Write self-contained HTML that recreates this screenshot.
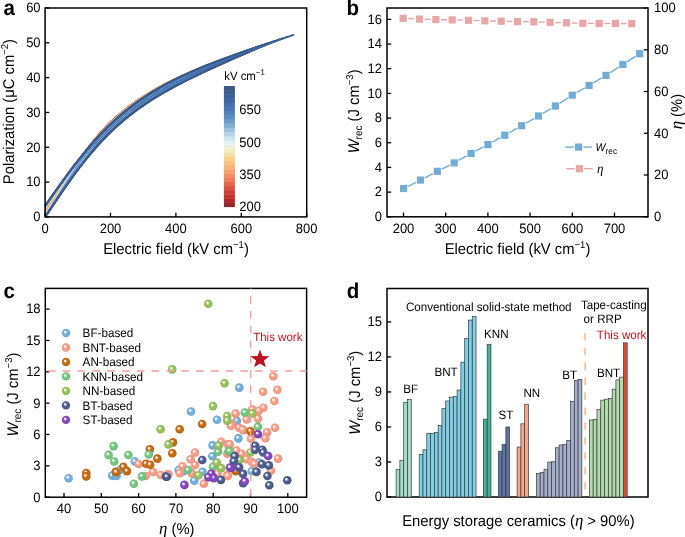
<!DOCTYPE html>
<html><head><meta charset="utf-8"><style>html,body{margin:0;padding:0;background:#fff;}svg{display:block;will-change:transform;}</style></head>
<body><svg width="685" height="537" viewBox="0 0 685 537" font-family='"Liberation Sans", sans-serif' text-rendering="geometricPrecision">
<defs><radialGradient id="gBF" cx="0.5" cy="0.5" r="0.5" fx="0.35" fy="0.33"><stop offset="0" stop-color="#ffffff"/><stop offset="0.2" stop-color="#e0edf7"/><stop offset="0.48" stop-color="#72aed9"/><stop offset="0.8" stop-color="#72aed9"/><stop offset="1" stop-color="#679dc3"/></radialGradient><radialGradient id="gBNT" cx="0.5" cy="0.5" r="0.5" fx="0.35" fy="0.33"><stop offset="0" stop-color="#ffffff"/><stop offset="0.2" stop-color="#fde9e4"/><stop offset="0.48" stop-color="#f49c86"/><stop offset="0.8" stop-color="#f49c86"/><stop offset="1" stop-color="#dc8c79"/></radialGradient><radialGradient id="gAN" cx="0.5" cy="0.5" r="0.5" fx="0.35" fy="0.33"><stop offset="0" stop-color="#ffffff"/><stop offset="0.2" stop-color="#f2decb"/><stop offset="0.48" stop-color="#c36a12"/><stop offset="0.8" stop-color="#c36a12"/><stop offset="1" stop-color="#b05f10"/></radialGradient><radialGradient id="gKNN" cx="0.5" cy="0.5" r="0.5" fx="0.35" fy="0.33"><stop offset="0" stop-color="#ffffff"/><stop offset="0.2" stop-color="#e0f2e3"/><stop offset="0.48" stop-color="#72c47e"/><stop offset="0.8" stop-color="#72c47e"/><stop offset="1" stop-color="#67b071"/></radialGradient><radialGradient id="gNN" cx="0.5" cy="0.5" r="0.5" fx="0.35" fy="0.33"><stop offset="0" stop-color="#ffffff"/><stop offset="0.2" stop-color="#e8f1db"/><stop offset="0.48" stop-color="#98bf5c"/><stop offset="0.8" stop-color="#98bf5c"/><stop offset="1" stop-color="#89ac53"/></radialGradient><radialGradient id="gBT" cx="0.5" cy="0.5" r="0.5" fx="0.35" fy="0.33"><stop offset="0" stop-color="#ffffff"/><stop offset="0.2" stop-color="#d7dbe5"/><stop offset="0.48" stop-color="#4b5b8b"/><stop offset="0.8" stop-color="#4b5b8b"/><stop offset="1" stop-color="#44527d"/></radialGradient><radialGradient id="gST" cx="0.5" cy="0.5" r="0.5" fx="0.35" fy="0.33"><stop offset="0" stop-color="#ffffff"/><stop offset="0.2" stop-color="#e3d7f0"/><stop offset="0.48" stop-color="#8048bb"/><stop offset="0.8" stop-color="#8048bb"/><stop offset="1" stop-color="#7341a8"/></radialGradient></defs>
<rect width="685" height="537" fill="#fff"/>
<text transform="translate(3.50,14.60) scale(1,1.05)" font-size="20.5" text-anchor="start" font-weight="bold" fill="#000" >a</text>
<text transform="translate(346.50,14.60) scale(1,1.05)" font-size="20.5" text-anchor="start" font-weight="bold" fill="#000" >b</text>
<text transform="translate(3.50,297.50) scale(1,1.05)" font-size="20.5" text-anchor="start" font-weight="bold" fill="#000" >c</text>
<text transform="translate(346.80,297.50) scale(1,1.05)" font-size="20.5" text-anchor="start" font-weight="bold" fill="#000" >d</text>
<g fill="none" stroke-width="1.5" stroke-linejoin="round">
<path d="M58.35,192.18 L60.01,189.80 L61.67,187.43 L63.32,185.08 L64.98,182.75 L66.64,180.43 L68.30,178.13 L69.95,175.85 L71.61,173.59 L73.27,171.35 L74.92,169.14 L76.58,166.95 L78.24,164.78 L79.89,162.64 L81.55,160.53 L83.21,158.44 L84.86,156.38 L86.52,154.35 L88.18,152.35 L89.83,150.38 L91.49,148.43 L93.15,146.51 L94.80,144.63 L96.46,142.77 L98.12,140.94 L99.77,139.14 L101.43,137.37 L103.09,135.63 L104.74,133.92 L106.40,132.24 L108.06,130.58 L109.72,128.96 L111.37,127.36 L113.03,125.79 L114.69,124.25 L116.34,122.74 L118.00,121.25 L119.66,119.80 L121.31,118.36 L122.97,116.95 L124.63,115.57 L126.28,114.21 L127.94,112.88 L129.60,111.57 L131.25,110.28 L132.91,109.01 L134.57,107.77 L136.22,106.55 L137.88,105.35 L139.54,104.17 L141.19,103.01 L142.85,101.87 L144.51,100.75 L146.16,99.65 L147.82,98.56 L149.48,97.50 L151.14,96.45 L152.79,95.41 L154.45,94.39 L156.11,93.39 L157.76,92.40 L159.42,91.43 L161.08,90.47 L162.73,89.53 L164.39,88.59 L166.05,87.68 L167.70,86.77 L169.36,85.87 L171.02,84.99 L172.67,84.12 L174.33,83.26 L175.99,82.41 L177.64,81.57 L179.30,80.73 L180.96,79.91 L182.61,79.10 L184.27,78.30 L185.93,77.50 L187.58,76.71 L189.24,75.93 L190.90,75.16 L192.56,74.40 L194.21,73.64 L195.87,72.89 L197.53,72.14 L199.18,71.41 L200.84,70.67 L202.50,69.95 L204.15,69.23 L205.81,68.51 L207.47,67.80 L209.12,67.10 L210.78,66.40 L212.44,65.70 L214.09,65.01 L215.75,64.33 L217.41,63.64 L219.06,62.96 L220.72,62.29 L222.38,61.62 L224.03,60.95 L225.69,60.29 L227.35,59.63 L229.00,58.97 L230.66,58.31 L232.32,57.66 L233.98,57.01 L235.63,56.37 L237.29,55.72 L238.95,55.08 L240.60,54.45 L242.26,53.81 L243.92,53.17 L245.57,52.54 L247.23,51.91 L248.89,51.28 L250.54,50.66 L252.20,50.03 L253.86,49.41 L255.51,48.79 L257.17,48.17 L258.83,47.55 L260.48,46.94 L262.14,46.32 L263.80,45.71 L265.45,45.10 L267.11,44.49 L268.77,43.88 L270.42,43.27 L272.08,42.66 L273.74,42.06 L275.40,41.45 L277.05,40.85 L278.71,40.24 L280.37,39.64 L282.02,39.04 L283.68,38.44 L285.34,37.84 L286.99,37.24 L288.65,36.64 L290.31,36.04 L291.96,35.45 L293.62,34.85" stroke="#3f68a8" stroke-width="1.3"/>
<path d="M45.10,211.58 L45.65,211.22 L46.19,210.43 L46.73,209.62 L47.28,208.81 L47.83,207.99 L48.37,207.18 L48.91,206.36 L49.46,205.54 L50.01,204.71 L50.55,203.89 L51.09,203.06 L51.64,202.24 L52.19,201.41 L52.73,200.58 L53.27,199.75 L53.82,198.91 L54.37,198.08 L54.91,197.25 L55.45,196.41 L56.00,195.58 L56.55,194.74 L57.09,193.91 L57.64,193.07 L58.18,192.24 L58.73,191.40 L59.27,190.57 L59.81,189.73 L60.36,188.90 L60.91,188.06 L61.45,187.23 L61.99,186.40 L62.54,185.56 L63.09,184.73 L63.63,183.90 L64.17,183.07 L64.72,182.24 L65.27,181.41 L65.81,180.59 L66.35,179.76 L66.90,178.94 L67.44,178.12 L67.99,177.30 L68.53,176.48 L69.08,175.66 L69.62,174.85 L70.17,174.03 L70.72,173.22 L71.26,172.41 L71.81,171.60 L72.35,170.80 L72.89,170.00 L73.44,169.20 L73.98,168.40 L74.53,167.60 L75.07,166.81 L75.62,166.02 L76.16,165.23 L76.71,164.45 L77.25,163.66 L77.80,162.88 L78.34,162.11 L78.89,161.33 L79.44,160.56 L79.98,159.79 L80.53,159.03 L81.07,158.27 L81.61,157.51 L82.16,156.75 L82.70,156.00 L83.25,155.25 L83.79,154.50 L84.34,153.76 L84.88,153.02 L85.43,152.28 L85.97,151.55 L86.52,150.82 L87.06,150.10 L87.61,149.37 L88.16,148.65 L88.70,147.94 L89.24,147.22 L89.79,146.52 L90.34,145.81 L90.88,145.11 L91.42,144.41 L91.97,143.71 L92.51,143.02 L93.06,142.34 L93.61,141.65 L94.15,140.97 L94.69,140.29 L95.24,139.62 L95.78,138.95 L96.33,138.28 L96.88,137.61 L97.42,136.95 L97.96,136.30 L98.51,135.64 L99.05,134.99 L99.60,134.34 L100.15,133.70 L100.69,133.05 L101.23,132.41 L101.78,131.78 L102.32,131.14 L102.87,130.51 L103.41,129.89 L103.96,129.26 L104.50,128.64 L105.05,128.02 L105.59,127.40 L106.14,126.78 L106.69,126.17 L107.23,125.55 L107.77,124.94 L108.32,124.33 L108.86,123.73 L109.41,123.12 L109.95,122.51 L110.50,121.91 L110.50,121.91 L109.95,122.45 L109.41,122.99 L108.86,123.54 L108.32,124.09 L107.77,124.64 L107.23,125.21 L106.69,125.77 L106.14,126.34 L105.59,126.92 L105.05,127.50 L104.50,128.08 L103.96,128.67 L103.41,129.27 L102.87,129.87 L102.32,130.47 L101.78,131.08 L101.23,131.70 L100.69,132.31 L100.15,132.94 L99.60,133.56 L99.05,134.20 L98.51,134.83 L97.96,135.47 L97.42,136.12 L96.88,136.77 L96.33,137.42 L95.78,138.08 L95.24,138.74 L94.69,139.41 L94.15,140.08 L93.61,140.75 L93.06,141.43 L92.51,142.12 L91.97,142.80 L91.42,143.50 L90.88,144.19 L90.34,144.89 L89.79,145.59 L89.24,146.30 L88.70,147.01 L88.16,147.73 L87.61,148.44 L87.06,149.17 L86.52,149.89 L85.97,150.62 L85.43,151.36 L84.88,152.09 L84.34,152.83 L83.79,153.58 L83.25,154.32 L82.70,155.07 L82.16,155.83 L81.61,156.58 L81.07,157.34 L80.53,158.11 L79.98,158.87 L79.44,159.64 L78.89,160.41 L78.34,161.19 L77.80,161.97 L77.25,162.75 L76.71,163.53 L76.16,164.32 L75.62,165.11 L75.07,165.90 L74.53,166.69 L73.98,167.49 L73.44,168.29 L72.89,169.09 L72.35,169.89 L71.81,170.70 L71.26,171.51 L70.72,172.31 L70.17,173.13 L69.62,173.94 L69.08,174.76 L68.53,175.57 L67.99,176.39 L67.44,177.21 L66.90,178.03 L66.35,178.86 L65.81,179.68 L65.27,180.51 L64.72,181.33 L64.17,182.16 L63.63,182.99 L63.09,183.82 L62.54,184.65 L61.99,185.48 L61.45,186.31 L60.91,187.15 L60.36,187.98 L59.81,188.81 L59.27,189.65 L58.73,190.48 L58.18,191.31 L57.64,192.15 L57.09,192.98 L56.55,193.81 L56.00,194.65 L55.45,195.48 L54.91,196.31 L54.37,197.14 L53.82,197.97 L53.27,198.80 L52.73,199.63 L52.19,200.46 L51.64,201.28 L51.09,202.11 L50.55,202.93 L50.01,203.75 L49.46,204.57 L48.91,205.39 L48.37,206.20 L47.83,207.02 L47.28,207.83 L46.73,208.64 L46.19,209.44 L45.65,210.24 L45.10,210.66" stroke="#96282a"/>
<path d="M45.10,211.77 L45.70,211.36 L46.30,210.47 L46.90,209.58 L47.50,208.68 L48.10,207.78 L48.70,206.88 L49.30,205.98 L49.90,205.07 L50.50,204.17 L51.09,203.26 L51.69,202.35 L52.29,201.43 L52.89,200.52 L53.49,199.60 L54.09,198.69 L54.69,197.77 L55.29,196.85 L55.89,195.93 L56.49,195.01 L57.09,194.09 L57.69,193.17 L58.29,192.25 L58.89,191.33 L59.49,190.41 L60.09,189.49 L60.69,188.57 L61.29,187.65 L61.89,186.73 L62.49,185.81 L63.09,184.89 L63.68,183.98 L64.28,183.06 L64.88,182.15 L65.48,181.24 L66.08,180.33 L66.68,179.42 L67.28,178.51 L67.88,177.61 L68.48,176.71 L69.08,175.81 L69.68,174.91 L70.28,174.01 L70.88,173.12 L71.48,172.23 L72.08,171.34 L72.68,170.45 L73.28,169.57 L73.88,168.69 L74.48,167.81 L75.07,166.94 L75.67,166.07 L76.27,165.20 L76.87,164.34 L77.47,163.48 L78.07,162.62 L78.67,161.76 L79.27,160.91 L79.87,160.07 L80.47,159.22 L81.07,158.38 L81.67,157.55 L82.27,156.72 L82.87,155.89 L83.47,155.07 L84.07,154.25 L84.67,153.43 L85.27,152.62 L85.87,151.81 L86.47,151.01 L87.06,150.21 L87.66,149.42 L88.26,148.63 L88.86,147.84 L89.46,147.06 L90.06,146.28 L90.66,145.51 L91.26,144.74 L91.86,143.98 L92.46,143.22 L93.06,142.47 L93.66,141.72 L94.26,140.98 L94.86,140.24 L95.46,139.50 L96.06,138.77 L96.66,138.04 L97.26,137.32 L97.86,136.61 L98.46,135.90 L99.05,135.19 L99.65,134.49 L100.25,133.79 L100.85,133.10 L101.45,132.41 L102.05,131.72 L102.65,131.05 L103.25,130.37 L103.85,129.70 L104.45,129.04 L105.05,128.37 L105.65,127.72 L106.25,127.07 L106.85,126.42 L107.45,125.78 L108.05,125.14 L108.65,124.50 L109.25,123.87 L109.85,123.24 L110.45,122.62 L111.04,122.00 L111.64,121.38 L112.24,120.77 L112.84,120.16 L113.44,119.56 L114.04,118.96 L114.64,118.36 L115.24,117.76 L115.84,117.15 L116.44,116.55 L117.04,115.95 L117.04,115.95 L116.44,116.49 L115.84,117.03 L115.24,117.57 L114.64,118.12 L114.04,118.67 L113.44,119.23 L112.84,119.79 L112.24,120.35 L111.64,120.92 L111.04,121.50 L110.45,122.09 L109.85,122.68 L109.25,123.27 L108.65,123.88 L108.05,124.48 L107.45,125.10 L106.85,125.72 L106.25,126.34 L105.65,126.97 L105.05,127.61 L104.45,128.25 L103.85,128.90 L103.25,129.56 L102.65,130.22 L102.05,130.88 L101.45,131.55 L100.85,132.23 L100.25,132.91 L99.65,133.60 L99.05,134.29 L98.46,134.99 L97.86,135.69 L97.26,136.40 L96.66,137.11 L96.06,137.83 L95.46,138.55 L94.86,139.28 L94.26,140.01 L93.66,140.75 L93.06,141.50 L92.46,142.25 L91.86,143.00 L91.26,143.76 L90.66,144.52 L90.06,145.29 L89.46,146.06 L88.86,146.84 L88.26,147.62 L87.66,148.41 L87.06,149.20 L86.47,149.99 L85.87,150.79 L85.27,151.59 L84.67,152.40 L84.07,153.21 L83.47,154.03 L82.87,154.85 L82.27,155.67 L81.67,156.50 L81.07,157.33 L80.47,158.17 L79.87,159.01 L79.27,159.85 L78.67,160.70 L78.07,161.55 L77.47,162.40 L76.87,163.26 L76.27,164.12 L75.67,164.98 L75.07,165.85 L74.48,166.72 L73.88,167.59 L73.28,168.46 L72.68,169.34 L72.08,170.22 L71.48,171.11 L70.88,171.99 L70.28,172.88 L69.68,173.77 L69.08,174.66 L68.48,175.56 L67.88,176.46 L67.28,177.35 L66.68,178.26 L66.08,179.16 L65.48,180.06 L64.88,180.97 L64.28,181.87 L63.68,182.78 L63.09,183.69 L62.49,184.60 L61.89,185.51 L61.29,186.42 L60.69,187.34 L60.09,188.25 L59.49,189.16 L58.89,190.08 L58.29,190.99 L57.69,191.90 L57.09,192.82 L56.49,193.73 L55.89,194.64 L55.29,195.56 L54.69,196.47 L54.09,197.38 L53.49,198.29 L52.89,199.20 L52.29,200.11 L51.69,201.01 L51.09,201.92 L50.50,202.82 L49.90,203.72 L49.30,204.62 L48.70,205.52 L48.10,206.41 L47.50,207.31 L46.90,208.19 L46.30,209.08 L45.70,209.97 L45.10,210.47" stroke="#b1282a"/>
<path d="M45.10,211.96 L45.75,211.48 L46.41,210.51 L47.06,209.54 L47.72,208.56 L48.37,207.57 L49.02,206.59 L49.68,205.60 L50.33,204.61 L50.99,203.62 L51.64,202.62 L52.29,201.62 L52.95,200.62 L53.60,199.62 L54.26,198.62 L54.91,197.62 L55.56,196.61 L56.22,195.61 L56.87,194.60 L57.53,193.60 L58.18,192.59 L58.83,191.58 L59.49,190.58 L60.14,189.57 L60.80,188.57 L61.45,187.56 L62.10,186.56 L62.76,185.56 L63.41,184.56 L64.07,183.56 L64.72,182.56 L65.37,181.56 L66.03,180.57 L66.68,179.57 L67.34,178.58 L67.99,177.60 L68.64,176.61 L69.30,175.63 L69.95,174.65 L70.61,173.67 L71.26,172.69 L71.91,171.72 L72.57,170.75 L73.22,169.79 L73.88,168.83 L74.53,167.87 L75.18,166.91 L75.84,165.96 L76.49,165.01 L77.15,164.07 L77.80,163.13 L78.45,162.20 L79.11,161.27 L79.76,160.34 L80.42,159.42 L81.07,158.50 L81.72,157.59 L82.38,156.68 L83.03,155.78 L83.69,154.88 L84.34,153.99 L84.99,153.10 L85.65,152.22 L86.30,151.34 L86.96,150.46 L87.61,149.60 L88.26,148.73 L88.92,147.88 L89.57,147.03 L90.23,146.18 L90.88,145.34 L91.53,144.50 L92.19,143.68 L92.84,142.85 L93.50,142.03 L94.15,141.22 L94.80,140.42 L95.46,139.62 L96.11,138.82 L96.77,138.03 L97.42,137.25 L98.07,136.47 L98.73,135.70 L99.38,134.94 L100.04,134.18 L100.69,133.43 L101.34,132.68 L102.00,131.94 L102.65,131.21 L103.31,130.48 L103.96,129.76 L104.61,129.04 L105.27,128.34 L105.92,127.63 L106.58,126.94 L107.23,126.24 L107.88,125.56 L108.54,124.88 L109.19,124.21 L109.85,123.54 L110.50,122.88 L111.15,122.23 L111.81,121.58 L112.46,120.93 L113.12,120.30 L113.77,119.66 L114.42,119.04 L115.08,118.41 L115.73,117.79 L116.39,117.17 L117.04,116.55 L117.69,115.93 L118.35,115.32 L119.00,114.71 L119.66,114.09 L120.31,113.48 L120.96,112.87 L121.62,112.27 L122.27,111.66 L122.93,111.05 L123.58,110.45 L123.58,110.45 L122.93,110.99 L122.27,111.54 L121.62,112.09 L120.96,112.65 L120.31,113.21 L119.66,113.78 L119.00,114.35 L118.35,114.92 L117.69,115.50 L117.04,116.08 L116.39,116.66 L115.73,117.25 L115.08,117.85 L114.42,118.44 L113.77,119.05 L113.12,119.65 L112.46,120.27 L111.81,120.89 L111.15,121.52 L110.50,122.16 L109.85,122.80 L109.19,123.45 L108.54,124.11 L107.88,124.77 L107.23,125.44 L106.58,126.12 L105.92,126.80 L105.27,127.49 L104.61,128.19 L103.96,128.89 L103.31,129.60 L102.65,130.32 L102.00,131.04 L101.34,131.77 L100.69,132.51 L100.04,133.25 L99.38,134.00 L98.73,134.76 L98.07,135.52 L97.42,136.29 L96.77,137.06 L96.11,137.84 L95.46,138.63 L94.80,139.42 L94.15,140.22 L93.50,141.02 L92.84,141.83 L92.19,142.65 L91.53,143.47 L90.88,144.29 L90.23,145.13 L89.57,145.96 L88.92,146.81 L88.26,147.65 L87.61,148.51 L86.96,149.37 L86.30,150.23 L85.65,151.10 L84.99,151.98 L84.34,152.86 L83.69,153.74 L83.03,154.63 L82.38,155.52 L81.72,156.42 L81.07,157.32 L80.42,158.23 L79.76,159.14 L79.11,160.06 L78.45,160.98 L77.80,161.90 L77.15,162.83 L76.49,163.76 L75.84,164.70 L75.18,165.64 L74.53,166.58 L73.88,167.53 L73.22,168.48 L72.57,169.44 L71.91,170.39 L71.26,171.35 L70.61,172.32 L69.95,173.28 L69.30,174.25 L68.64,175.22 L67.99,176.19 L67.34,177.17 L66.68,178.15 L66.03,179.13 L65.37,180.11 L64.72,181.09 L64.07,182.08 L63.41,183.07 L62.76,184.06 L62.10,185.05 L61.45,186.04 L60.80,187.03 L60.14,188.02 L59.49,189.01 L58.83,190.01 L58.18,191.00 L57.53,191.99 L56.87,192.99 L56.22,193.98 L55.56,194.97 L54.91,195.96 L54.26,196.95 L53.60,197.94 L52.95,198.93 L52.29,199.92 L51.64,200.91 L50.99,201.89 L50.33,202.87 L49.68,203.86 L49.02,204.83 L48.37,205.81 L47.72,206.78 L47.06,207.75 L46.41,208.72 L45.75,209.68 L45.10,210.28" stroke="#c4302e"/>
<path d="M45.10,212.15 L45.81,211.61 L46.52,210.55 L47.23,209.49 L47.93,208.43 L48.64,207.36 L49.35,206.29 L50.06,205.22 L50.77,204.14 L51.48,203.06 L52.19,201.98 L52.89,200.90 L53.60,199.81 L54.31,198.72 L55.02,197.63 L55.73,196.55 L56.44,195.45 L57.14,194.36 L57.85,193.27 L58.56,192.18 L59.27,191.09 L59.98,190.00 L60.69,188.91 L61.40,187.82 L62.10,186.73 L62.81,185.64 L63.52,184.55 L64.23,183.47 L64.94,182.38 L65.65,181.30 L66.35,180.22 L67.06,179.15 L67.77,178.07 L68.48,177.00 L69.19,175.94 L69.90,174.87 L70.61,173.81 L71.31,172.75 L72.02,171.70 L72.73,170.65 L73.44,169.60 L74.15,168.56 L74.86,167.52 L75.57,166.49 L76.27,165.46 L76.98,164.43 L77.69,163.41 L78.40,162.40 L79.11,161.39 L79.82,160.38 L80.53,159.38 L81.23,158.39 L81.94,157.40 L82.65,156.42 L83.36,155.44 L84.07,154.47 L84.78,153.50 L85.48,152.54 L86.19,151.59 L86.90,150.64 L87.61,149.70 L88.32,148.77 L89.03,147.84 L89.74,146.92 L90.44,146.00 L91.15,145.09 L91.86,144.19 L92.57,143.29 L93.28,142.41 L93.99,141.53 L94.69,140.65 L95.40,139.78 L96.11,138.92 L96.82,138.07 L97.53,137.22 L98.24,136.39 L98.95,135.55 L99.65,134.73 L100.36,133.91 L101.07,133.10 L101.78,132.30 L102.49,131.51 L103.20,130.72 L103.91,129.94 L104.61,129.17 L105.32,128.41 L106.03,127.65 L106.74,126.90 L107.45,126.16 L108.16,125.43 L108.86,124.71 L109.57,123.99 L110.28,123.28 L110.99,122.58 L111.70,121.88 L112.41,121.20 L113.12,120.52 L113.82,119.85 L114.53,119.18 L115.24,118.52 L115.95,117.86 L116.66,117.21 L117.37,116.56 L118.08,115.91 L118.78,115.27 L119.49,114.63 L120.20,113.99 L120.91,113.36 L121.62,112.72 L122.33,112.10 L123.03,111.47 L123.74,110.85 L124.45,110.23 L125.16,109.61 L125.87,108.99 L126.58,108.38 L127.29,107.76 L127.99,107.15 L128.70,106.54 L129.41,105.93 L130.12,105.33 L130.12,105.33 L129.41,105.88 L128.70,106.43 L127.99,106.99 L127.29,107.55 L126.58,108.12 L125.87,108.69 L125.16,109.27 L124.45,109.85 L123.74,110.43 L123.03,111.02 L122.33,111.62 L121.62,112.22 L120.91,112.82 L120.20,113.43 L119.49,114.04 L118.78,114.66 L118.08,115.28 L117.37,115.91 L116.66,116.54 L115.95,117.18 L115.24,117.82 L114.53,118.47 L113.82,119.12 L113.12,119.78 L112.41,120.44 L111.70,121.12 L110.99,121.80 L110.28,122.49 L109.57,123.19 L108.86,123.90 L108.16,124.61 L107.45,125.33 L106.74,126.06 L106.03,126.80 L105.32,127.55 L104.61,128.30 L103.91,129.06 L103.20,129.83 L102.49,130.61 L101.78,131.39 L101.07,132.18 L100.36,132.98 L99.65,133.78 L98.95,134.60 L98.24,135.42 L97.53,136.24 L96.82,137.08 L96.11,137.92 L95.40,138.77 L94.69,139.62 L93.99,140.49 L93.28,141.35 L92.57,142.23 L91.86,143.11 L91.15,144.00 L90.44,144.90 L89.74,145.80 L89.03,146.71 L88.32,147.62 L87.61,148.54 L86.90,149.47 L86.19,150.40 L85.48,151.34 L84.78,152.28 L84.07,153.23 L83.36,154.19 L82.65,155.15 L81.94,156.12 L81.23,157.09 L80.53,158.07 L79.82,159.05 L79.11,160.04 L78.40,161.03 L77.69,162.03 L76.98,163.03 L76.27,164.03 L75.57,165.04 L74.86,166.06 L74.15,167.08 L73.44,168.10 L72.73,169.13 L72.02,170.16 L71.31,171.20 L70.61,172.23 L69.90,173.28 L69.19,174.32 L68.48,175.37 L67.77,176.42 L67.06,177.47 L66.35,178.53 L65.65,179.59 L64.94,180.65 L64.23,181.71 L63.52,182.78 L62.81,183.84 L62.10,184.91 L61.40,185.98 L60.69,187.05 L59.98,188.12 L59.27,189.19 L58.56,190.26 L57.85,191.34 L57.14,192.41 L56.44,193.48 L55.73,194.55 L55.02,195.62 L54.31,196.70 L53.60,197.77 L52.89,198.83 L52.19,199.90 L51.48,200.97 L50.77,202.03 L50.06,203.09 L49.35,204.15 L48.64,205.21 L47.93,206.26 L47.23,207.31 L46.52,208.36 L45.81,209.40 L45.10,210.09" stroke="#d03e36"/>
<path d="M45.10,212.34 L45.86,211.73 L46.63,210.59 L47.39,209.45 L48.15,208.30 L48.91,207.15 L49.68,205.99 L50.44,204.83 L51.20,203.67 L51.97,202.51 L52.73,201.34 L53.49,200.17 L54.26,198.99 L55.02,197.82 L55.78,196.64 L56.55,195.47 L57.31,194.29 L58.07,193.11 L58.83,191.93 L59.60,190.76 L60.36,189.58 L61.12,188.40 L61.89,187.23 L62.65,186.05 L63.41,184.88 L64.17,183.71 L64.94,182.54 L65.70,181.38 L66.46,180.21 L67.23,179.05 L67.99,177.89 L68.75,176.74 L69.52,175.59 L70.28,174.44 L71.04,173.30 L71.81,172.16 L72.57,171.03 L73.33,169.90 L74.09,168.77 L74.86,167.65 L75.62,166.54 L76.38,165.43 L77.15,164.32 L77.91,163.22 L78.67,162.13 L79.44,161.04 L80.20,159.96 L80.96,158.89 L81.72,157.82 L82.49,156.76 L83.25,155.70 L84.01,154.65 L84.78,153.61 L85.54,152.58 L86.30,151.55 L87.06,150.53 L87.83,149.52 L88.59,148.51 L89.35,147.51 L90.12,146.52 L90.88,145.54 L91.64,144.56 L92.41,143.60 L93.17,142.64 L93.93,141.69 L94.69,140.75 L95.46,139.81 L96.22,138.89 L96.98,137.97 L97.75,137.06 L98.51,136.16 L99.27,135.27 L100.04,134.38 L100.80,133.51 L101.56,132.65 L102.32,131.79 L103.09,130.94 L103.85,130.10 L104.61,129.27 L105.38,128.45 L106.14,127.64 L106.90,126.84 L107.67,126.05 L108.43,125.27 L109.19,124.49 L109.95,123.73 L110.72,122.97 L111.48,122.23 L112.24,121.49 L113.01,120.77 L113.77,120.05 L114.53,119.34 L115.30,118.63 L116.06,117.93 L116.82,117.24 L117.58,116.55 L118.35,115.86 L119.11,115.18 L119.87,114.51 L120.64,113.84 L121.40,113.17 L122.16,112.51 L122.93,111.85 L123.69,111.19 L124.45,110.54 L125.22,109.90 L125.98,109.26 L126.74,108.62 L127.50,107.98 L128.27,107.35 L129.03,106.72 L129.79,106.09 L130.56,105.47 L131.32,104.85 L132.08,104.23 L132.84,103.62 L133.61,103.00 L134.37,102.39 L135.13,101.78 L135.90,101.18 L136.66,100.57 L136.66,100.57 L135.90,101.12 L135.13,101.68 L134.37,102.24 L133.61,102.80 L132.84,103.38 L132.08,103.95 L131.32,104.53 L130.56,105.11 L129.79,105.70 L129.03,106.30 L128.27,106.90 L127.50,107.50 L126.74,108.11 L125.98,108.73 L125.22,109.35 L124.45,109.97 L123.69,110.60 L122.93,111.24 L122.16,111.88 L121.40,112.53 L120.64,113.18 L119.87,113.84 L119.11,114.50 L118.35,115.17 L117.58,115.84 L116.82,116.52 L116.06,117.21 L115.30,117.90 L114.53,118.59 L113.77,119.30 L113.01,120.00 L112.24,120.72 L111.48,121.45 L110.72,122.19 L109.95,122.94 L109.19,123.69 L108.43,124.45 L107.67,125.23 L106.90,126.01 L106.14,126.80 L105.38,127.60 L104.61,128.41 L103.85,129.23 L103.09,130.05 L102.32,130.89 L101.56,131.73 L100.80,132.58 L100.04,133.44 L99.27,134.31 L98.51,135.19 L97.75,136.07 L96.98,136.97 L96.22,137.87 L95.46,138.78 L94.69,139.69 L93.93,140.62 L93.17,141.55 L92.41,142.49 L91.64,143.44 L90.88,144.40 L90.12,145.36 L89.35,146.33 L88.59,147.31 L87.83,148.29 L87.06,149.28 L86.30,150.28 L85.54,151.29 L84.78,152.30 L84.01,153.32 L83.25,154.34 L82.49,155.37 L81.72,156.41 L80.96,157.45 L80.20,158.50 L79.44,159.56 L78.67,160.62 L77.91,161.69 L77.15,162.76 L76.38,163.84 L75.62,164.92 L74.86,166.01 L74.09,167.10 L73.33,168.20 L72.57,169.30 L71.81,170.41 L71.04,171.52 L70.28,172.63 L69.52,173.75 L68.75,174.87 L67.99,176.00 L67.23,177.13 L66.46,178.26 L65.70,179.39 L64.94,180.53 L64.17,181.67 L63.41,182.81 L62.65,183.96 L61.89,185.10 L61.12,186.25 L60.36,187.40 L59.60,188.55 L58.83,189.70 L58.07,190.85 L57.31,192.00 L56.55,193.15 L55.78,194.30 L55.02,195.45 L54.26,196.60 L53.49,197.75 L52.73,198.90 L51.97,200.04 L51.20,201.19 L50.44,202.33 L49.68,203.47 L48.91,204.60 L48.15,205.74 L47.39,206.87 L46.63,207.99 L45.86,209.12 L45.10,209.90" stroke="#dc5242"/>
<path d="M45.10,212.53 L45.92,211.85 L46.73,210.63 L47.55,209.40 L48.37,208.17 L49.19,206.93 L50.01,205.69 L50.82,204.45 L51.64,203.20 L52.46,201.95 L53.27,200.69 L54.09,199.43 L54.91,198.17 L55.73,196.91 L56.55,195.65 L57.36,194.38 L58.18,193.12 L59.00,191.86 L59.81,190.59 L60.63,189.33 L61.45,188.07 L62.27,186.81 L63.09,185.55 L63.90,184.29 L64.72,183.03 L65.54,181.78 L66.35,180.53 L67.17,179.29 L67.99,178.04 L68.81,176.80 L69.62,175.57 L70.44,174.34 L71.26,173.11 L72.08,171.89 L72.89,170.68 L73.71,169.47 L74.53,168.26 L75.35,167.06 L76.16,165.87 L76.98,164.68 L77.80,163.50 L78.62,162.33 L79.44,161.16 L80.25,160.00 L81.07,158.85 L81.89,157.70 L82.70,156.57 L83.52,155.44 L84.34,154.31 L85.16,153.20 L85.97,152.09 L86.79,151.00 L87.61,149.91 L88.43,148.82 L89.24,147.75 L90.06,146.69 L90.88,145.64 L91.70,144.59 L92.51,143.55 L93.33,142.53 L94.15,141.51 L94.97,140.50 L95.78,139.50 L96.60,138.52 L97.42,137.54 L98.24,136.57 L99.05,135.61 L99.87,134.66 L100.69,133.72 L101.51,132.79 L102.32,131.88 L103.14,130.97 L103.96,130.07 L104.78,129.19 L105.59,128.31 L106.41,127.45 L107.23,126.59 L108.05,125.75 L108.86,124.92 L109.68,124.10 L110.50,123.29 L111.32,122.49 L112.13,121.70 L112.95,120.92 L113.77,120.16 L114.59,119.40 L115.41,118.65 L116.22,117.91 L117.04,117.17 L117.86,116.44 L118.67,115.71 L119.49,114.99 L120.31,114.28 L121.13,113.57 L121.94,112.86 L122.76,112.17 L123.58,111.47 L124.40,110.79 L125.22,110.10 L126.03,109.43 L126.85,108.75 L127.67,108.09 L128.48,107.42 L129.30,106.76 L130.12,106.11 L130.94,105.46 L131.75,104.82 L132.57,104.18 L133.39,103.54 L134.21,102.91 L135.02,102.28 L135.84,101.65 L136.66,101.03 L137.48,100.41 L138.29,99.79 L139.11,99.18 L139.93,98.57 L140.75,97.96 L141.56,97.35 L142.38,96.75 L143.20,96.15 L143.20,96.15 L142.38,96.70 L141.56,97.25 L140.75,97.81 L139.93,98.38 L139.11,98.95 L138.29,99.53 L137.48,100.11 L136.66,100.69 L135.84,101.29 L135.02,101.88 L134.21,102.48 L133.39,103.09 L132.57,103.70 L131.75,104.32 L130.94,104.95 L130.12,105.58 L129.30,106.21 L128.48,106.85 L127.67,107.50 L126.85,108.15 L126.03,108.81 L125.22,109.47 L124.40,110.14 L123.58,110.82 L122.76,111.50 L121.94,112.19 L121.13,112.88 L120.31,113.58 L119.49,114.29 L118.67,115.01 L117.86,115.72 L117.04,116.45 L116.22,117.18 L115.41,117.92 L114.59,118.67 L113.77,119.42 L112.95,120.18 L112.13,120.95 L111.32,121.73 L110.50,122.52 L109.68,123.33 L108.86,124.14 L108.05,124.96 L107.23,125.79 L106.41,126.63 L105.59,127.49 L104.78,128.35 L103.96,129.22 L103.14,130.10 L102.32,130.99 L101.51,131.89 L100.69,132.80 L99.87,133.72 L99.05,134.65 L98.24,135.59 L97.42,136.54 L96.60,137.50 L95.78,138.46 L94.97,139.44 L94.15,140.42 L93.33,141.42 L92.51,142.42 L91.70,143.43 L90.88,144.45 L90.06,145.47 L89.24,146.51 L88.43,147.55 L87.61,148.60 L86.79,149.66 L85.97,150.73 L85.16,151.81 L84.34,152.89 L83.52,153.98 L82.70,155.08 L81.89,156.18 L81.07,157.29 L80.25,158.41 L79.44,159.54 L78.62,160.67 L77.80,161.81 L76.98,162.95 L76.16,164.10 L75.35,165.26 L74.53,166.42 L73.71,167.59 L72.89,168.76 L72.08,169.94 L71.26,171.12 L70.44,172.31 L69.62,173.50 L68.81,174.70 L67.99,175.90 L67.17,177.10 L66.35,178.31 L65.54,179.52 L64.72,180.74 L63.90,181.95 L63.09,183.17 L62.27,184.39 L61.45,185.62 L60.63,186.84 L59.81,188.07 L59.00,189.30 L58.18,190.53 L57.36,191.75 L56.55,192.98 L55.73,194.21 L54.91,195.44 L54.09,196.67 L53.27,197.90 L52.46,199.12 L51.64,200.35 L50.82,201.57 L50.01,202.79 L49.19,204.00 L48.37,205.22 L47.55,206.43 L46.73,207.63 L45.92,208.83 L45.10,209.71" stroke="#e6664e"/>
<path d="M45.10,212.72 L45.97,211.97 L46.84,210.67 L47.72,209.36 L48.59,208.04 L49.46,206.72 L50.33,205.39 L51.20,204.06 L52.08,202.72 L52.95,201.38 L53.82,200.04 L54.69,198.69 L55.56,197.35 L56.44,196.00 L57.31,194.65 L58.18,193.30 L59.05,191.95 L59.92,190.59 L60.80,189.25 L61.67,187.90 L62.54,186.55 L63.41,185.20 L64.28,183.86 L65.16,182.52 L66.03,181.19 L66.90,179.85 L67.77,178.52 L68.64,177.20 L69.52,175.88 L70.39,174.56 L71.26,173.25 L72.13,171.95 L73.00,170.65 L73.88,169.36 L74.75,168.07 L75.62,166.79 L76.49,165.52 L77.36,164.26 L78.24,163.00 L79.11,161.75 L79.98,160.51 L80.85,159.27 L81.72,158.05 L82.60,156.83 L83.47,155.62 L84.34,154.42 L85.21,153.23 L86.08,152.05 L86.96,150.88 L87.83,149.72 L88.70,148.57 L89.57,147.42 L90.44,146.29 L91.32,145.17 L92.19,144.06 L93.06,142.96 L93.93,141.87 L94.80,140.79 L95.68,139.73 L96.55,138.67 L97.42,137.62 L98.29,136.59 L99.16,135.57 L100.04,134.56 L100.91,133.56 L101.78,132.57 L102.65,131.60 L103.52,130.63 L104.40,129.68 L105.27,128.74 L106.14,127.82 L107.01,126.90 L107.88,126.00 L108.76,125.11 L109.63,124.24 L110.50,123.37 L111.37,122.52 L112.24,121.69 L113.12,120.86 L113.99,120.05 L114.86,119.25 L115.73,118.45 L116.60,117.66 L117.48,116.88 L118.35,116.11 L119.22,115.34 L120.09,114.58 L120.96,113.83 L121.84,113.08 L122.71,112.34 L123.58,111.60 L124.45,110.88 L125.32,110.15 L126.20,109.44 L127.07,108.73 L127.94,108.03 L128.81,107.33 L129.68,106.64 L130.56,105.95 L131.43,105.27 L132.30,104.60 L133.17,103.93 L134.04,103.26 L134.92,102.60 L135.79,101.95 L136.66,101.30 L137.53,100.66 L138.40,100.01 L139.28,99.38 L140.15,98.75 L141.02,98.12 L141.89,97.50 L142.76,96.88 L143.64,96.26 L144.51,95.65 L145.38,95.04 L146.25,94.43 L147.12,93.82 L148.00,93.22 L148.87,92.62 L149.74,92.03 L149.74,92.03 L148.87,92.58 L148.00,93.13 L147.12,93.69 L146.25,94.25 L145.38,94.82 L144.51,95.40 L143.64,95.98 L142.76,96.56 L141.89,97.16 L141.02,97.75 L140.15,98.35 L139.28,98.96 L138.40,99.57 L137.53,100.19 L136.66,100.82 L135.79,101.45 L134.92,102.09 L134.04,102.73 L133.17,103.38 L132.30,104.03 L131.43,104.70 L130.56,105.36 L129.68,106.04 L128.81,106.72 L127.94,107.41 L127.07,108.10 L126.20,108.80 L125.32,109.51 L124.45,110.22 L123.58,110.94 L122.71,111.67 L121.84,112.41 L120.96,113.15 L120.09,113.90 L119.22,114.65 L118.35,115.42 L117.48,116.19 L116.60,116.97 L115.73,117.75 L114.86,118.54 L113.99,119.34 L113.12,120.15 L112.24,120.97 L111.37,121.80 L110.50,122.65 L109.63,123.50 L108.76,124.37 L107.88,125.24 L107.01,126.13 L106.14,127.03 L105.27,127.94 L104.40,128.86 L103.52,129.80 L102.65,130.74 L101.78,131.69 L100.91,132.66 L100.04,133.64 L99.16,134.62 L98.29,135.62 L97.42,136.62 L96.55,137.64 L95.68,138.67 L94.80,139.71 L93.93,140.75 L93.06,141.81 L92.19,142.88 L91.32,143.96 L90.44,145.04 L89.57,146.14 L88.70,147.24 L87.83,148.36 L86.96,149.48 L86.08,150.61 L85.21,151.75 L84.34,152.90 L83.47,154.06 L82.60,155.23 L81.72,156.40 L80.85,157.58 L79.98,158.77 L79.11,159.97 L78.24,161.17 L77.36,162.38 L76.49,163.60 L75.62,164.83 L74.75,166.06 L73.88,167.30 L73.00,168.54 L72.13,169.79 L71.26,171.05 L70.39,172.31 L69.52,173.57 L68.64,174.85 L67.77,176.12 L66.90,177.40 L66.03,178.68 L65.16,179.97 L64.28,181.26 L63.41,182.56 L62.54,183.85 L61.67,185.15 L60.80,186.45 L59.92,187.76 L59.05,189.06 L58.18,190.37 L57.31,191.67 L56.44,192.98 L55.56,194.29 L54.69,195.59 L53.82,196.90 L52.95,198.20 L52.08,199.51 L51.20,200.81 L50.33,202.11 L49.46,203.40 L48.59,204.70 L47.72,205.99 L46.84,207.27 L45.97,208.55 L45.10,209.52" stroke="#ef795a"/>
<path d="M45.10,212.91 L46.03,212.09 L46.95,210.70 L47.88,209.31 L48.81,207.91 L49.73,206.50 L50.66,205.09 L51.59,203.67 L52.51,202.24 L53.44,200.81 L54.37,199.38 L55.29,197.95 L56.22,196.52 L57.14,195.08 L58.07,193.64 L59.00,192.20 L59.92,190.77 L60.85,189.33 L61.78,187.89 L62.70,186.46 L63.63,185.03 L64.56,183.60 L65.48,182.18 L66.41,180.76 L67.34,179.34 L68.26,177.93 L69.19,176.52 L70.12,175.12 L71.04,173.72 L71.97,172.33 L72.89,170.95 L73.82,169.57 L74.75,168.20 L75.67,166.84 L76.60,165.49 L77.53,164.14 L78.45,162.81 L79.38,161.48 L80.31,160.16 L81.23,158.85 L82.16,157.55 L83.09,156.26 L84.01,154.98 L84.94,153.71 L85.87,152.45 L86.79,151.20 L87.72,149.96 L88.65,148.74 L89.57,147.52 L90.50,146.32 L91.42,145.13 L92.35,143.95 L93.28,142.78 L94.20,141.62 L95.13,140.48 L96.06,139.35 L96.98,138.23 L97.91,137.13 L98.84,136.03 L99.76,134.95 L100.69,133.89 L101.62,132.84 L102.54,131.80 L103.47,130.77 L104.40,129.76 L105.32,128.77 L106.25,127.78 L107.18,126.81 L108.10,125.86 L109.03,124.92 L109.95,123.99 L110.88,123.08 L111.81,122.18 L112.73,121.30 L113.66,120.44 L114.59,119.58 L115.51,118.74 L116.44,117.90 L117.37,117.07 L118.29,116.25 L119.22,115.43 L120.15,114.63 L121.07,113.83 L122.00,113.04 L122.93,112.26 L123.85,111.48 L124.78,110.71 L125.71,109.95 L126.63,109.20 L127.56,108.45 L128.48,107.71 L129.41,106.98 L130.34,106.26 L131.26,105.54 L132.19,104.83 L133.12,104.12 L134.04,103.42 L134.97,102.73 L135.90,102.04 L136.82,101.36 L137.75,100.69 L138.68,100.02 L139.60,99.35 L140.53,98.69 L141.46,98.04 L142.38,97.39 L143.31,96.75 L144.24,96.11 L145.16,95.48 L146.09,94.85 L147.02,94.23 L147.94,93.61 L148.87,92.99 L149.79,92.38 L150.72,91.77 L151.65,91.16 L152.57,90.56 L153.50,89.96 L154.43,89.37 L155.35,88.77 L156.28,88.18 L156.28,88.18 L155.35,88.73 L154.43,89.28 L153.50,89.84 L152.57,90.40 L151.65,90.97 L150.72,91.54 L149.79,92.12 L148.87,92.70 L147.94,93.29 L147.02,93.88 L146.09,94.49 L145.16,95.09 L144.24,95.70 L143.31,96.32 L142.38,96.95 L141.46,97.58 L140.53,98.21 L139.60,98.86 L138.68,99.51 L137.75,100.16 L136.82,100.83 L135.90,101.49 L134.97,102.17 L134.04,102.85 L133.12,103.54 L132.19,104.24 L131.26,104.94 L130.34,105.66 L129.41,106.37 L128.48,107.10 L127.56,107.83 L126.63,108.57 L125.71,109.32 L124.78,110.08 L123.85,110.84 L122.93,111.61 L122.00,112.39 L121.07,113.18 L120.15,113.97 L119.22,114.78 L118.29,115.59 L117.37,116.41 L116.44,117.24 L115.51,118.07 L114.59,118.92 L113.66,119.77 L112.73,120.63 L111.81,121.51 L110.88,122.40 L109.95,123.30 L109.03,124.22 L108.10,125.14 L107.18,126.08 L106.25,127.03 L105.32,128.00 L104.40,128.97 L103.47,129.96 L102.54,130.96 L101.62,131.98 L100.69,133.00 L99.76,134.04 L98.84,135.08 L97.91,136.14 L96.98,137.21 L96.06,138.30 L95.13,139.39 L94.20,140.50 L93.28,141.61 L92.35,142.74 L91.42,143.88 L90.50,145.02 L89.57,146.18 L88.65,147.35 L87.72,148.53 L86.79,149.72 L85.87,150.92 L84.94,152.13 L84.01,153.34 L83.09,154.57 L82.16,155.81 L81.23,157.05 L80.31,158.31 L79.38,159.57 L78.45,160.84 L77.53,162.12 L76.60,163.41 L75.67,164.70 L74.75,166.01 L73.82,167.32 L72.89,168.63 L71.97,169.96 L71.04,171.28 L70.12,172.62 L69.19,173.96 L68.26,175.31 L67.34,176.66 L66.41,178.01 L65.48,179.37 L64.56,180.74 L63.63,182.11 L62.70,183.48 L61.78,184.85 L60.85,186.23 L59.92,187.61 L59.00,188.99 L58.07,190.37 L57.14,191.76 L56.22,193.14 L55.29,194.52 L54.37,195.91 L53.44,197.29 L52.51,198.67 L51.59,200.05 L50.66,201.43 L49.73,202.81 L48.81,204.18 L47.88,205.55 L46.95,206.91 L46.03,208.27 L45.10,209.33" stroke="#f38c64"/>
<path d="M45.10,213.10 L46.08,212.21 L47.06,210.74 L48.04,209.26 L49.02,207.77 L50.01,206.28 L50.99,204.78 L51.97,203.27 L52.95,201.76 L53.93,200.24 L54.91,198.73 L55.89,197.20 L56.87,195.68 L57.85,194.16 L58.83,192.63 L59.81,191.11 L60.80,189.58 L61.78,188.06 L62.76,186.54 L63.74,185.02 L64.72,183.51 L65.70,182.00 L66.68,180.49 L67.66,178.99 L68.64,177.49 L69.62,176.00 L70.61,174.52 L71.59,173.04 L72.57,171.57 L73.55,170.11 L74.53,168.66 L75.51,167.21 L76.49,165.77 L77.47,164.35 L78.45,162.93 L79.44,161.52 L80.42,160.12 L81.40,158.73 L82.38,157.36 L83.36,155.99 L84.34,154.64 L85.32,153.29 L86.30,151.96 L87.28,150.65 L88.26,149.34 L89.24,148.05 L90.23,146.77 L91.21,145.50 L92.19,144.25 L93.17,143.01 L94.15,141.78 L95.13,140.57 L96.11,139.37 L97.09,138.19 L98.07,137.02 L99.05,135.86 L100.04,134.72 L101.02,133.60 L102.00,132.49 L102.98,131.39 L103.96,130.32 L104.94,129.25 L105.92,128.21 L106.90,127.17 L107.88,126.16 L108.86,125.16 L109.85,124.18 L110.83,123.21 L111.81,122.26 L112.79,121.33 L113.77,120.41 L114.75,119.51 L115.73,118.62 L116.71,117.73 L117.69,116.86 L118.67,115.99 L119.66,115.14 L120.64,114.29 L121.62,113.45 L122.60,112.62 L123.58,111.80 L124.56,110.98 L125.54,110.18 L126.52,109.38 L127.50,108.59 L128.48,107.81 L129.47,107.04 L130.45,106.28 L131.43,105.52 L132.41,104.77 L133.39,104.03 L134.37,103.30 L135.35,102.57 L136.33,101.85 L137.31,101.14 L138.29,100.43 L139.28,99.73 L140.26,99.04 L141.24,98.36 L142.22,97.68 L143.20,97.00 L144.18,96.34 L145.16,95.67 L146.14,95.02 L147.12,94.37 L148.10,93.72 L149.09,93.08 L150.07,92.45 L151.05,91.82 L152.03,91.20 L153.01,90.58 L153.99,89.96 L154.97,89.35 L155.95,88.74 L156.93,88.14 L157.91,87.54 L158.90,86.94 L159.88,86.35 L160.86,85.76 L161.84,85.17 L162.82,84.59 L162.82,84.59 L161.84,85.13 L160.86,85.68 L159.88,86.23 L158.90,86.79 L157.91,87.36 L156.93,87.93 L155.95,88.50 L154.97,89.08 L153.99,89.67 L153.01,90.26 L152.03,90.86 L151.05,91.46 L150.07,92.07 L149.09,92.69 L148.10,93.31 L147.12,93.94 L146.14,94.57 L145.16,95.22 L144.18,95.86 L143.20,96.52 L142.22,97.18 L141.24,97.85 L140.26,98.53 L139.28,99.21 L138.29,99.90 L137.31,100.60 L136.33,101.30 L135.35,102.02 L134.37,102.74 L133.39,103.46 L132.41,104.20 L131.43,104.94 L130.45,105.70 L129.47,106.46 L128.48,107.22 L127.50,108.00 L126.52,108.79 L125.54,109.58 L124.56,110.38 L123.58,111.19 L122.60,112.01 L121.62,112.84 L120.64,113.68 L119.66,114.52 L118.67,115.38 L117.69,116.24 L116.71,117.12 L115.73,118.00 L114.75,118.89 L113.77,119.79 L112.79,120.71 L111.81,121.63 L110.83,122.57 L109.85,123.53 L108.86,124.50 L107.88,125.48 L106.90,126.48 L105.92,127.49 L104.94,128.51 L103.96,129.55 L102.98,130.60 L102.00,131.66 L101.02,132.74 L100.04,133.83 L99.05,134.93 L98.07,136.04 L97.09,137.17 L96.11,138.31 L95.13,139.46 L94.15,140.63 L93.17,141.81 L92.19,143.00 L91.21,144.20 L90.23,145.41 L89.24,146.63 L88.26,147.87 L87.28,149.12 L86.30,150.38 L85.32,151.65 L84.34,152.93 L83.36,154.22 L82.38,155.52 L81.40,156.83 L80.42,158.15 L79.44,159.48 L78.45,160.82 L77.47,162.16 L76.49,163.52 L75.51,164.89 L74.53,166.26 L73.55,167.64 L72.57,169.03 L71.59,170.43 L70.61,171.83 L69.62,173.24 L68.64,174.66 L67.66,176.08 L66.68,177.51 L65.70,178.94 L64.72,180.38 L63.74,181.82 L62.76,183.27 L61.78,184.72 L60.80,186.17 L59.81,187.62 L58.83,189.08 L57.85,190.54 L56.87,192.00 L55.89,193.46 L54.91,194.92 L53.93,196.38 L52.95,197.84 L51.97,199.30 L50.99,200.75 L50.01,202.21 L49.02,203.66 L48.04,205.11 L47.06,206.55 L46.08,207.99 L45.10,209.14" stroke="#f69f6d"/>
<path d="M45.10,213.29 L46.14,212.33 L47.17,210.78 L48.21,209.21 L49.24,207.64 L50.28,206.06 L51.31,204.47 L52.35,202.88 L53.38,201.28 L54.42,199.67 L55.45,198.06 L56.49,196.45 L57.53,194.84 L58.56,193.23 L59.60,191.62 L60.63,190.01 L61.67,188.40 L62.70,186.79 L63.74,185.18 L64.77,183.58 L65.81,181.99 L66.85,180.39 L67.88,178.81 L68.92,177.23 L69.95,175.65 L70.99,174.09 L72.02,172.53 L73.06,170.98 L74.09,169.43 L75.13,167.90 L76.16,166.38 L77.20,164.87 L78.24,163.36 L79.27,161.87 L80.31,160.39 L81.34,158.92 L82.38,157.47 L83.41,156.03 L84.45,154.60 L85.48,153.18 L86.52,151.77 L87.56,150.38 L88.59,149.01 L89.63,147.65 L90.66,146.30 L91.70,144.97 L92.73,143.65 L93.77,142.35 L94.80,141.06 L95.84,139.79 L96.88,138.53 L97.91,137.29 L98.95,136.07 L99.98,134.87 L101.02,133.68 L102.05,132.51 L103.09,131.35 L104.12,130.22 L105.16,129.10 L106.19,127.99 L107.23,126.91 L108.27,125.84 L109.30,124.80 L110.34,123.77 L111.37,122.76 L112.41,121.77 L113.44,120.79 L114.48,119.84 L115.51,118.89 L116.55,117.96 L117.58,117.03 L118.62,116.12 L119.66,115.22 L120.69,114.32 L121.73,113.44 L122.76,112.56 L123.80,111.70 L124.83,110.84 L125.87,110.00 L126.90,109.16 L127.94,108.33 L128.98,107.52 L130.01,106.71 L131.05,105.91 L132.08,105.12 L133.12,104.33 L134.15,103.56 L135.19,102.79 L136.22,102.04 L137.26,101.29 L138.29,100.54 L139.33,99.81 L140.37,99.08 L141.40,98.37 L142.44,97.65 L143.47,96.95 L144.51,96.25 L145.54,95.56 L146.58,94.88 L147.61,94.20 L148.65,93.53 L149.69,92.87 L150.72,92.21 L151.76,91.56 L152.79,90.91 L153.83,90.27 L154.86,89.63 L155.90,89.00 L156.93,88.38 L157.97,87.76 L159.00,87.14 L160.04,86.53 L161.08,85.93 L162.11,85.32 L163.15,84.73 L164.18,84.13 L165.22,83.54 L166.25,82.95 L167.29,82.37 L168.32,81.79 L169.36,81.21 L169.36,81.21 L168.32,81.75 L167.29,82.30 L166.25,82.85 L165.22,83.40 L164.18,83.96 L163.15,84.53 L162.11,85.10 L161.08,85.68 L160.04,86.26 L159.00,86.85 L157.97,87.45 L156.93,88.05 L155.90,88.66 L154.86,89.27 L153.83,89.89 L152.79,90.52 L151.76,91.15 L150.72,91.79 L149.69,92.43 L148.65,93.09 L147.61,93.75 L146.58,94.42 L145.54,95.09 L144.51,95.77 L143.47,96.46 L142.44,97.16 L141.40,97.86 L140.37,98.58 L139.33,99.30 L138.29,100.02 L137.26,100.76 L136.22,101.51 L135.19,102.26 L134.15,103.02 L133.12,103.79 L132.08,104.57 L131.05,105.36 L130.01,106.16 L128.98,106.96 L127.94,107.78 L126.90,108.60 L125.87,109.44 L124.83,110.28 L123.80,111.14 L122.76,112.00 L121.73,112.87 L120.69,113.75 L119.66,114.65 L118.62,115.55 L117.58,116.46 L116.55,117.39 L115.51,118.32 L114.48,119.26 L113.44,120.22 L112.41,121.19 L111.37,122.17 L110.34,123.17 L109.30,124.19 L108.27,125.22 L107.23,126.26 L106.19,127.32 L105.16,128.39 L104.12,129.48 L103.09,130.59 L102.05,131.70 L101.02,132.84 L99.98,133.98 L98.95,135.14 L97.91,136.32 L96.88,137.51 L95.84,138.71 L94.80,139.92 L93.77,141.15 L92.73,142.40 L91.70,143.65 L90.66,144.92 L89.63,146.20 L88.59,147.50 L87.56,148.80 L86.52,150.12 L85.48,151.45 L84.45,152.79 L83.41,154.15 L82.38,155.51 L81.34,156.89 L80.31,158.28 L79.27,159.68 L78.24,161.09 L77.20,162.50 L76.16,163.93 L75.13,165.37 L74.09,166.82 L73.06,168.27 L72.02,169.74 L70.99,171.21 L69.95,172.69 L68.92,174.17 L67.88,175.66 L66.85,177.16 L65.81,178.67 L64.77,180.18 L63.74,181.70 L62.70,183.22 L61.67,184.74 L60.63,186.27 L59.60,187.80 L58.56,189.33 L57.53,190.86 L56.49,192.40 L55.45,193.94 L54.42,195.47 L53.38,197.01 L52.35,198.55 L51.31,200.08 L50.28,201.61 L49.24,203.14 L48.21,204.67 L47.17,206.19 L46.14,207.70 L45.10,208.95" stroke="#f9b176"/>
<path d="M45.10,213.48 L46.19,212.45 L47.28,210.82 L48.37,209.16 L49.46,207.50 L50.55,205.84 L51.64,204.16 L52.73,202.48 L53.82,200.79 L54.91,199.10 L56.00,197.40 L57.09,195.70 L58.18,194.00 L59.27,192.30 L60.36,190.60 L61.45,188.90 L62.54,187.21 L63.63,185.51 L64.72,183.83 L65.81,182.14 L66.90,180.46 L67.99,178.79 L69.08,177.12 L70.17,175.47 L71.26,173.81 L72.35,172.17 L73.44,170.54 L74.53,168.92 L75.62,167.31 L76.71,165.71 L77.80,164.12 L78.89,162.54 L79.98,160.98 L81.07,159.43 L82.16,157.89 L83.25,156.36 L84.34,154.85 L85.43,153.36 L86.52,151.88 L87.61,150.41 L88.70,148.96 L89.79,147.53 L90.88,146.11 L91.97,144.71 L93.06,143.33 L94.15,141.96 L95.24,140.61 L96.33,139.28 L97.42,137.96 L98.51,136.67 L99.60,135.39 L100.69,134.13 L101.78,132.89 L102.87,131.67 L103.96,130.47 L105.05,129.29 L106.14,128.13 L107.23,126.99 L108.32,125.86 L109.41,124.76 L110.50,123.68 L111.59,122.62 L112.68,121.58 L113.77,120.56 L114.86,119.56 L115.95,118.57 L117.04,117.59 L118.13,116.63 L119.22,115.67 L120.31,114.73 L121.40,113.79 L122.49,112.87 L123.58,111.96 L124.67,111.06 L125.76,110.17 L126.85,109.29 L127.94,108.42 L129.03,107.56 L130.12,106.71 L131.21,105.87 L132.30,105.04 L133.39,104.22 L134.48,103.41 L135.57,102.60 L136.66,101.81 L137.75,101.03 L138.84,100.25 L139.93,99.49 L141.02,98.73 L142.11,97.98 L143.20,97.24 L144.29,96.51 L145.38,95.79 L146.47,95.07 L147.56,94.36 L148.65,93.66 L149.74,92.96 L150.83,92.28 L151.92,91.60 L153.01,90.92 L154.10,90.25 L155.19,89.59 L156.28,88.94 L157.37,88.29 L158.46,87.65 L159.55,87.01 L160.64,86.38 L161.73,85.76 L162.82,85.14 L163.91,84.52 L165.00,83.91 L166.09,83.30 L167.18,82.70 L168.27,82.11 L169.36,81.51 L170.45,80.92 L171.54,80.34 L172.63,79.76 L173.72,79.18 L174.81,78.60 L175.90,78.03 L175.90,78.03 L174.81,78.57 L173.72,79.11 L172.63,79.66 L171.54,80.21 L170.45,80.77 L169.36,81.34 L168.27,81.90 L167.18,82.48 L166.09,83.06 L165.00,83.65 L163.91,84.24 L162.82,84.84 L161.73,85.44 L160.64,86.05 L159.55,86.67 L158.46,87.29 L157.37,87.92 L156.28,88.56 L155.19,89.20 L154.10,89.85 L153.01,90.51 L151.92,91.17 L150.83,91.85 L149.74,92.53 L148.65,93.21 L147.56,93.91 L146.47,94.61 L145.38,95.32 L144.29,96.04 L143.20,96.77 L142.11,97.50 L141.02,98.25 L139.93,99.00 L138.84,99.76 L137.75,100.54 L136.66,101.32 L135.57,102.11 L134.48,102.90 L133.39,103.71 L132.30,104.53 L131.21,105.36 L130.12,106.20 L129.03,107.05 L127.94,107.90 L126.85,108.77 L125.76,109.65 L124.67,110.54 L123.58,111.44 L122.49,112.35 L121.40,113.27 L120.31,114.21 L119.22,115.15 L118.13,116.11 L117.04,117.07 L115.95,118.05 L114.86,119.04 L113.77,120.04 L112.68,121.06 L111.59,122.09 L110.50,123.14 L109.41,124.20 L108.32,125.28 L107.23,126.38 L106.14,127.49 L105.05,128.62 L103.96,129.76 L102.87,130.93 L101.78,132.10 L100.69,133.29 L99.60,134.50 L98.51,135.72 L97.42,136.96 L96.33,138.22 L95.24,139.48 L94.15,140.77 L93.06,142.06 L91.97,143.38 L90.88,144.70 L89.79,146.04 L88.70,147.40 L87.61,148.76 L86.52,150.15 L85.43,151.54 L84.34,152.95 L83.25,154.37 L82.16,155.80 L81.07,157.25 L79.98,158.70 L78.89,160.17 L77.80,161.65 L76.71,163.14 L75.62,164.64 L74.53,166.15 L73.44,167.67 L72.35,169.20 L71.26,170.74 L70.17,172.29 L69.08,173.85 L67.99,175.41 L66.90,176.98 L65.81,178.56 L64.72,180.14 L63.63,181.73 L62.54,183.32 L61.45,184.92 L60.36,186.52 L59.27,188.13 L58.18,189.74 L57.09,191.35 L56.00,192.96 L54.91,194.57 L53.82,196.19 L52.73,197.80 L51.64,199.41 L50.55,201.02 L49.46,202.63 L48.37,204.23 L47.28,205.83 L46.19,207.42 L45.10,208.76" stroke="#fac17e"/>
<path d="M45.10,213.67 L46.24,212.58 L47.39,210.85 L48.53,209.11 L49.68,207.37 L50.82,205.61 L51.97,203.85 L53.11,202.07 L54.26,200.30 L55.40,198.52 L56.55,196.73 L57.69,194.94 L58.83,193.16 L59.98,191.37 L61.12,189.58 L62.27,187.80 L63.41,186.01 L64.56,184.24 L65.70,182.47 L66.85,180.70 L67.99,178.94 L69.13,177.19 L70.28,175.44 L71.42,173.71 L72.57,171.98 L73.71,170.27 L74.86,168.57 L76.00,166.87 L77.15,165.19 L78.29,163.53 L79.44,161.88 L80.58,160.24 L81.72,158.61 L82.87,157.01 L84.01,155.41 L85.16,153.84 L86.30,152.28 L87.45,150.73 L88.59,149.21 L89.74,147.70 L90.88,146.21 L92.02,144.73 L93.17,143.28 L94.31,141.84 L95.46,140.43 L96.60,139.03 L97.75,137.66 L98.89,136.30 L100.04,134.97 L101.18,133.65 L102.32,132.36 L103.47,131.09 L104.61,129.84 L105.76,128.61 L106.90,127.40 L108.05,126.22 L109.19,125.06 L110.34,123.92 L111.48,122.80 L112.63,121.71 L113.77,120.64 L114.91,119.59 L116.06,118.55 L117.20,117.52 L118.35,116.51 L119.49,115.51 L120.64,114.52 L121.78,113.54 L122.93,112.58 L124.07,111.63 L125.22,110.69 L126.36,109.76 L127.50,108.84 L128.65,107.93 L129.79,107.04 L130.94,106.16 L132.08,105.28 L133.23,104.42 L134.37,103.57 L135.52,102.73 L136.66,101.90 L137.80,101.08 L138.95,100.26 L140.09,99.46 L141.24,98.67 L142.38,97.89 L143.53,97.12 L144.67,96.35 L145.82,95.60 L146.96,94.85 L148.10,94.11 L149.25,93.38 L150.39,92.66 L151.54,91.94 L152.68,91.24 L153.83,90.54 L154.97,89.85 L156.12,89.17 L157.26,88.49 L158.41,87.82 L159.55,87.16 L160.69,86.50 L161.84,85.85 L162.98,85.20 L164.13,84.57 L165.27,83.93 L166.42,83.31 L167.56,82.69 L168.71,82.07 L169.85,81.46 L170.99,80.85 L172.14,80.25 L173.28,79.66 L174.43,79.06 L175.57,78.47 L176.72,77.89 L177.86,77.31 L179.01,76.73 L180.15,76.16 L181.30,75.59 L182.44,75.02 L182.44,75.02 L181.30,75.56 L180.15,76.10 L179.01,76.65 L177.86,77.20 L176.72,77.75 L175.57,78.31 L174.43,78.88 L173.28,79.45 L172.14,80.03 L170.99,80.62 L169.85,81.21 L168.71,81.80 L167.56,82.40 L166.42,83.01 L165.27,83.62 L164.13,84.24 L162.98,84.87 L161.84,85.50 L160.69,86.14 L159.55,86.79 L158.41,87.45 L157.26,88.11 L156.12,88.78 L154.97,89.45 L153.83,90.14 L152.68,90.83 L151.54,91.53 L150.39,92.24 L149.25,92.96 L148.10,93.68 L146.96,94.42 L145.82,95.16 L144.67,95.91 L143.53,96.67 L142.38,97.44 L141.24,98.22 L140.09,99.01 L138.95,99.81 L137.80,100.62 L136.66,101.44 L135.52,102.27 L134.37,103.11 L133.23,103.96 L132.08,104.82 L130.94,105.69 L129.79,106.58 L128.65,107.47 L127.50,108.37 L126.36,109.29 L125.22,110.22 L124.07,111.16 L122.93,112.11 L121.78,113.07 L120.64,114.05 L119.49,115.04 L118.35,116.04 L117.20,117.05 L116.06,118.08 L114.91,119.11 L113.77,120.17 L112.63,121.23 L111.48,122.32 L110.34,123.42 L109.19,124.54 L108.05,125.67 L106.90,126.83 L105.76,128.00 L104.61,129.19 L103.47,130.39 L102.32,131.62 L101.18,132.86 L100.04,134.11 L98.89,135.39 L97.75,136.68 L96.60,137.98 L95.46,139.30 L94.31,140.64 L93.17,142.00 L92.02,143.37 L90.88,144.75 L89.74,146.15 L88.59,147.57 L87.45,149.00 L86.30,150.45 L85.16,151.91 L84.01,153.38 L82.87,154.87 L81.72,156.37 L80.58,157.89 L79.44,159.41 L78.29,160.95 L77.15,162.51 L76.00,164.07 L74.86,165.65 L73.71,167.23 L72.57,168.83 L71.42,170.44 L70.28,172.05 L69.13,173.68 L67.99,175.31 L66.85,176.95 L65.70,178.60 L64.56,180.26 L63.41,181.92 L62.27,183.59 L61.12,185.26 L59.98,186.94 L58.83,188.62 L57.69,190.30 L56.55,191.99 L55.40,193.68 L54.26,195.36 L53.11,197.05 L51.97,198.74 L50.82,200.43 L49.68,202.11 L48.53,203.79 L47.39,205.47 L46.24,207.14 L45.10,208.57" stroke="#fcd188"/>
<path d="M45.10,213.86 L46.30,212.70 L47.50,210.89 L48.70,209.06 L49.90,207.23 L51.09,205.39 L52.29,203.53 L53.49,201.68 L54.69,199.81 L55.89,197.94 L57.09,196.07 L58.29,194.19 L59.49,192.32 L60.69,190.45 L61.89,188.57 L63.09,186.71 L64.28,184.84 L65.48,182.98 L66.68,181.13 L67.88,179.28 L69.08,177.45 L70.28,175.62 L71.48,173.80 L72.68,171.99 L73.88,170.20 L75.07,168.42 L76.27,166.65 L77.47,164.89 L78.67,163.15 L79.87,161.42 L81.07,159.71 L82.27,158.02 L83.47,156.34 L84.67,154.68 L85.87,153.04 L87.06,151.42 L88.26,149.81 L89.46,148.23 L90.66,146.66 L91.86,145.12 L93.06,143.59 L94.26,142.09 L95.46,140.61 L96.66,139.14 L97.86,137.71 L99.05,136.29 L100.25,134.89 L101.45,133.52 L102.65,132.17 L103.85,130.85 L105.05,129.55 L106.25,128.27 L107.45,127.02 L108.65,125.79 L109.85,124.58 L111.04,123.40 L112.24,122.25 L113.44,121.12 L114.64,120.02 L115.84,118.93 L117.04,117.85 L118.24,116.79 L119.44,115.74 L120.64,114.70 L121.84,113.68 L123.03,112.67 L124.23,111.68 L125.43,110.69 L126.63,109.72 L127.83,108.77 L129.03,107.82 L130.23,106.89 L131.43,105.97 L132.63,105.06 L133.83,104.16 L135.02,103.27 L136.22,102.40 L137.42,101.54 L138.62,100.68 L139.82,99.84 L141.02,99.01 L142.22,98.19 L143.42,97.38 L144.62,96.58 L145.82,95.79 L147.02,95.01 L148.21,94.24 L149.41,93.48 L150.61,92.73 L151.81,91.98 L153.01,91.25 L154.21,90.52 L155.41,89.80 L156.61,89.09 L157.81,88.39 L159.00,87.69 L160.20,87.01 L161.40,86.33 L162.60,85.65 L163.80,84.99 L165.00,84.33 L166.20,83.68 L167.40,83.03 L168.60,82.39 L169.80,81.75 L170.99,81.13 L172.19,80.50 L173.39,79.89 L174.59,79.27 L175.79,78.67 L176.99,78.07 L178.19,77.47 L179.39,76.88 L180.59,76.29 L181.79,75.70 L182.98,75.12 L184.18,74.55 L185.38,73.97 L186.58,73.40 L187.78,72.84 L188.98,72.27 L188.98,72.27 L187.78,72.81 L186.58,73.35 L185.38,73.89 L184.18,74.44 L182.98,75.00 L181.79,75.56 L180.59,76.13 L179.39,76.70 L178.19,77.27 L176.99,77.85 L175.79,78.44 L174.59,79.03 L173.39,79.63 L172.19,80.24 L170.99,80.85 L169.80,81.47 L168.60,82.09 L167.40,82.72 L166.20,83.36 L165.00,84.00 L163.80,84.65 L162.60,85.31 L161.40,85.98 L160.20,86.65 L159.00,87.34 L157.81,88.03 L156.61,88.72 L155.41,89.43 L154.21,90.14 L153.01,90.87 L151.81,91.60 L150.61,92.34 L149.41,93.09 L148.21,93.85 L147.02,94.62 L145.82,95.39 L144.62,96.18 L143.42,96.98 L142.22,97.79 L141.02,98.61 L139.82,99.44 L138.62,100.28 L137.42,101.13 L136.22,101.99 L135.02,102.86 L133.83,103.75 L132.63,104.64 L131.43,105.55 L130.23,106.47 L129.03,107.40 L127.83,108.35 L126.63,109.30 L125.43,110.27 L124.23,111.26 L123.03,112.25 L121.84,113.26 L120.64,114.28 L119.44,115.32 L118.24,116.37 L117.04,117.43 L115.84,118.51 L114.64,119.60 L113.44,120.70 L112.24,121.82 L111.04,122.96 L109.85,124.12 L108.65,125.30 L107.45,126.50 L106.25,127.71 L105.05,128.95 L103.85,130.20 L102.65,131.47 L101.45,132.76 L100.25,134.07 L99.05,135.39 L97.86,136.73 L96.66,138.09 L95.46,139.47 L94.26,140.86 L93.06,142.28 L91.86,143.70 L90.66,145.15 L89.46,146.61 L88.26,148.09 L87.06,149.58 L85.87,151.09 L84.67,152.62 L83.47,154.16 L82.27,155.71 L81.07,157.28 L79.87,158.87 L78.67,160.47 L77.47,162.08 L76.27,163.70 L75.07,165.34 L73.88,166.99 L72.68,168.65 L71.48,170.32 L70.28,172.00 L69.08,173.69 L67.88,175.40 L66.68,177.11 L65.48,178.83 L64.28,180.55 L63.09,182.28 L61.89,184.02 L60.69,185.77 L59.49,187.52 L58.29,189.27 L57.09,191.03 L55.89,192.79 L54.69,194.55 L53.49,196.31 L52.29,198.08 L51.09,199.84 L49.90,201.60 L48.70,203.36 L47.50,205.11 L46.30,206.86 L45.10,208.38" stroke="#fade9f"/>
<path d="M45.10,214.05 L46.35,212.82 L47.61,210.92 L48.86,209.01 L50.11,207.09 L51.37,205.16 L52.62,203.22 L53.87,201.28 L55.13,199.32 L56.38,197.37 L57.64,195.41 L58.89,193.45 L60.14,191.48 L61.40,189.53 L62.65,187.57 L63.90,185.62 L65.16,183.67 L66.41,181.73 L67.66,179.80 L68.92,177.88 L70.17,175.97 L71.42,174.07 L72.68,172.18 L73.93,170.30 L75.18,168.44 L76.44,166.59 L77.69,164.76 L78.94,162.94 L80.20,161.14 L81.45,159.36 L82.70,157.60 L83.96,155.85 L85.21,154.13 L86.47,152.42 L87.72,150.73 L88.97,149.07 L90.23,147.43 L91.48,145.80 L92.73,144.20 L93.99,142.63 L95.24,141.07 L96.49,139.54 L97.75,138.04 L99.00,136.55 L100.25,135.10 L101.51,133.66 L102.76,132.26 L104.01,130.87 L105.27,129.52 L106.52,128.19 L107.77,126.89 L109.03,125.61 L110.28,124.36 L111.54,123.14 L112.79,121.94 L114.04,120.78 L115.30,119.63 L116.55,118.50 L117.80,117.38 L119.06,116.28 L120.31,115.19 L121.56,114.12 L122.82,113.06 L124.07,112.02 L125.32,110.99 L126.58,109.98 L127.83,108.98 L129.08,107.99 L130.34,107.01 L131.59,106.05 L132.84,105.10 L134.10,104.17 L135.35,103.25 L136.61,102.34 L137.86,101.44 L139.11,100.55 L140.37,99.68 L141.62,98.82 L142.87,97.97 L144.13,97.13 L145.38,96.30 L146.63,95.48 L147.89,94.67 L149.14,93.87 L150.39,93.08 L151.65,92.31 L152.90,91.54 L154.15,90.78 L155.41,90.03 L156.66,89.29 L157.91,88.56 L159.17,87.83 L160.42,87.12 L161.68,86.41 L162.93,85.71 L164.18,85.02 L165.44,84.34 L166.69,83.66 L167.94,82.99 L169.20,82.33 L170.45,81.67 L171.70,81.02 L172.96,80.38 L174.21,79.75 L175.46,79.12 L176.72,78.49 L177.97,77.87 L179.22,77.26 L180.48,76.65 L181.73,76.04 L182.98,75.45 L184.24,74.85 L185.49,74.26 L186.75,73.68 L188.00,73.10 L189.25,72.52 L190.51,71.94 L191.76,71.37 L193.01,70.81 L194.27,70.24 L195.52,69.68 L195.52,69.68 L194.27,70.22 L193.01,70.76 L191.76,71.31 L190.51,71.86 L189.25,72.41 L188.00,72.97 L186.75,73.54 L185.49,74.10 L184.24,74.68 L182.98,75.26 L181.73,75.85 L180.48,76.44 L179.22,77.03 L177.97,77.64 L176.72,78.25 L175.46,78.86 L174.21,79.48 L172.96,80.11 L171.70,80.75 L170.45,81.39 L169.20,82.04 L167.94,82.69 L166.69,83.36 L165.44,84.03 L164.18,84.71 L162.93,85.39 L161.68,86.09 L160.42,86.79 L159.17,87.50 L157.91,88.22 L156.66,88.95 L155.41,89.69 L154.15,90.44 L152.90,91.19 L151.65,91.96 L150.39,92.73 L149.14,93.52 L147.89,94.32 L146.63,95.12 L145.38,95.94 L144.13,96.77 L142.87,97.61 L141.62,98.46 L140.37,99.32 L139.11,100.19 L137.86,101.08 L136.61,101.97 L135.35,102.88 L134.10,103.80 L132.84,104.74 L131.59,105.69 L130.34,106.65 L129.08,107.62 L127.83,108.61 L126.58,109.61 L125.32,110.62 L124.07,111.65 L122.82,112.70 L121.56,113.75 L120.31,114.82 L119.06,115.91 L117.80,117.01 L116.55,118.13 L115.30,119.26 L114.04,120.41 L112.79,121.57 L111.54,122.75 L110.28,123.96 L109.03,125.18 L107.77,126.42 L106.52,127.68 L105.27,128.97 L104.01,130.27 L102.76,131.59 L101.51,132.93 L100.25,134.28 L99.00,135.66 L97.75,137.06 L96.49,138.47 L95.24,139.91 L93.99,141.36 L92.73,142.83 L91.48,144.32 L90.23,145.83 L88.97,147.35 L87.72,148.89 L86.47,150.45 L85.21,152.03 L83.96,153.62 L82.70,155.23 L81.45,156.85 L80.20,158.49 L78.94,160.15 L77.69,161.81 L76.44,163.50 L75.18,165.20 L73.93,166.91 L72.68,168.63 L71.42,170.37 L70.17,172.11 L68.92,173.87 L67.66,175.64 L66.41,177.42 L65.16,179.21 L63.90,181.00 L62.65,182.81 L61.40,184.62 L60.14,186.43 L58.89,188.26 L57.64,190.08 L56.38,191.91 L55.13,193.75 L53.87,195.58 L52.62,197.42 L51.37,199.25 L50.11,201.09 L48.86,202.92 L47.61,204.75 L46.35,206.58 L45.10,208.19" stroke="#f5eac2"/>
<path d="M45.10,214.24 L46.41,212.94 L47.72,210.96 L49.02,208.96 L50.33,206.96 L51.64,204.94 L52.95,202.91 L54.26,200.87 L55.56,198.83 L56.87,196.79 L58.18,194.74 L59.49,192.70 L60.80,190.65 L62.10,188.61 L63.41,186.57 L64.72,184.53 L66.03,182.51 L67.34,180.49 L68.64,178.48 L69.95,176.48 L71.26,174.50 L72.57,172.53 L73.88,170.57 L75.18,168.63 L76.49,166.70 L77.80,164.79 L79.11,162.89 L80.42,161.02 L81.72,159.16 L83.03,157.33 L84.34,155.51 L85.65,153.72 L86.96,151.95 L88.26,150.20 L89.57,148.47 L90.88,146.77 L92.19,145.09 L93.50,143.44 L94.80,141.81 L96.11,140.21 L97.42,138.63 L98.73,137.08 L100.04,135.55 L101.34,134.05 L102.65,132.58 L103.96,131.14 L105.27,129.72 L106.58,128.34 L107.88,126.98 L109.19,125.65 L110.50,124.35 L111.81,123.09 L113.12,121.85 L114.42,120.64 L115.73,119.44 L117.04,118.27 L118.35,117.11 L119.66,115.97 L120.96,114.84 L122.27,113.73 L123.58,112.64 L124.89,111.56 L126.20,110.49 L127.50,109.45 L128.81,108.41 L130.12,107.39 L131.43,106.39 L132.74,105.40 L134.04,104.42 L135.35,103.46 L136.66,102.51 L137.97,101.57 L139.28,100.65 L140.58,99.74 L141.89,98.84 L143.20,97.96 L144.51,97.09 L145.82,96.22 L147.12,95.37 L148.43,94.54 L149.74,93.71 L151.05,92.89 L152.36,92.09 L153.66,91.29 L154.97,90.51 L156.28,89.73 L157.59,88.97 L158.90,88.21 L160.20,87.47 L161.51,86.73 L162.82,86.00 L164.13,85.28 L165.44,84.57 L166.74,83.87 L168.05,83.17 L169.36,82.48 L170.67,81.80 L171.98,81.13 L173.28,80.46 L174.59,79.81 L175.90,79.15 L177.21,78.51 L178.52,77.87 L179.82,77.23 L181.13,76.61 L182.44,75.98 L183.75,75.37 L185.06,74.76 L186.36,74.15 L187.67,73.55 L188.98,72.95 L190.29,72.36 L191.60,71.77 L192.90,71.19 L194.21,70.61 L195.52,70.04 L196.83,69.46 L198.14,68.90 L199.44,68.33 L200.75,67.77 L202.06,67.21 L202.06,67.21 L200.75,67.75 L199.44,68.29 L198.14,68.84 L196.83,69.39 L195.52,69.94 L194.21,70.50 L192.90,71.07 L191.60,71.64 L190.29,72.21 L188.98,72.79 L187.67,73.38 L186.36,73.97 L185.06,74.56 L183.75,75.17 L182.44,75.77 L181.13,76.39 L179.82,77.01 L178.52,77.63 L177.21,78.27 L175.90,78.91 L174.59,79.55 L173.28,80.21 L171.98,80.87 L170.67,81.54 L169.36,82.21 L168.05,82.90 L166.74,83.59 L165.44,84.29 L164.13,85.00 L162.82,85.71 L161.51,86.44 L160.20,87.17 L158.90,87.92 L157.59,88.67 L156.28,89.44 L154.97,90.21 L153.66,90.99 L152.36,91.78 L151.05,92.59 L149.74,93.40 L148.43,94.23 L147.12,95.07 L145.82,95.91 L144.51,96.77 L143.20,97.65 L141.89,98.53 L140.58,99.43 L139.28,100.34 L137.97,101.26 L136.66,102.19 L135.35,103.14 L134.04,104.11 L132.74,105.08 L131.43,106.07 L130.12,107.08 L128.81,108.09 L127.50,109.13 L126.20,110.18 L124.89,111.24 L123.58,112.32 L122.27,113.41 L120.96,114.52 L119.66,115.65 L118.35,116.79 L117.04,117.95 L115.73,119.13 L114.42,120.32 L113.12,121.53 L111.81,122.76 L110.50,124.00 L109.19,125.27 L107.88,126.57 L106.58,127.88 L105.27,129.21 L103.96,130.56 L102.65,131.93 L101.34,133.33 L100.04,134.74 L98.73,136.17 L97.42,137.63 L96.11,139.10 L94.80,140.59 L93.50,142.11 L92.19,143.64 L90.88,145.19 L89.57,146.76 L88.26,148.35 L86.96,149.96 L85.65,151.58 L84.34,153.23 L83.03,154.89 L81.72,156.57 L80.42,158.26 L79.11,159.97 L77.80,161.70 L76.49,163.44 L75.18,165.20 L73.88,166.97 L72.57,168.76 L71.26,170.56 L69.95,172.37 L68.64,174.20 L67.34,176.03 L66.03,177.88 L64.72,179.74 L63.41,181.60 L62.10,183.48 L60.80,185.36 L59.49,187.25 L58.18,189.14 L56.87,191.04 L55.56,192.95 L54.26,194.85 L52.95,196.76 L51.64,198.67 L50.33,200.58 L49.02,202.49 L47.72,204.39 L46.41,206.30 L45.10,208.00" stroke="#edefdd"/>
<path d="M45.10,214.43 L46.46,213.06 L47.83,210.99 L49.19,208.91 L50.55,206.82 L51.91,204.71 L53.27,202.59 L54.64,200.47 L56.00,198.34 L57.36,196.20 L58.73,194.07 L60.09,191.93 L61.45,189.80 L62.81,187.67 L64.17,185.54 L65.54,183.43 L66.90,181.32 L68.26,179.22 L69.62,177.13 L70.99,175.06 L72.35,173.00 L73.71,170.95 L75.07,168.92 L76.44,166.91 L77.80,164.92 L79.16,162.94 L80.53,160.99 L81.89,159.05 L83.25,157.14 L84.61,155.25 L85.97,153.39 L87.34,151.55 L88.70,149.73 L90.06,147.94 L91.42,146.17 L92.79,144.43 L94.15,142.72 L95.51,141.03 L96.88,139.38 L98.24,137.75 L99.60,136.15 L100.96,134.58 L102.32,133.04 L103.69,131.53 L105.05,130.05 L106.41,128.60 L107.77,127.18 L109.14,125.79 L110.50,124.44 L111.86,123.12 L113.22,121.83 L114.59,120.57 L115.95,119.33 L117.31,118.11 L118.67,116.91 L120.04,115.72 L121.40,114.55 L122.76,113.40 L124.12,112.27 L125.49,111.15 L126.85,110.05 L128.21,108.97 L129.57,107.90 L130.94,106.85 L132.30,105.81 L133.66,104.79 L135.02,103.78 L136.39,102.79 L137.75,101.81 L139.11,100.85 L140.47,99.90 L141.84,98.97 L143.20,98.05 L144.56,97.14 L145.92,96.24 L147.29,95.36 L148.65,94.49 L150.01,93.63 L151.37,92.78 L152.74,91.95 L154.10,91.12 L155.46,90.31 L156.82,89.51 L158.19,88.71 L159.55,87.93 L160.91,87.16 L162.27,86.40 L163.64,85.65 L165.00,84.90 L166.36,84.17 L167.72,83.45 L169.09,82.73 L170.45,82.02 L171.81,81.32 L173.17,80.63 L174.54,79.94 L175.90,79.27 L177.26,78.60 L178.62,77.93 L179.99,77.28 L181.35,76.63 L182.71,75.98 L184.07,75.35 L185.44,74.71 L186.80,74.09 L188.16,73.47 L189.52,72.85 L190.89,72.25 L192.25,71.64 L193.61,71.04 L194.97,70.45 L196.34,69.86 L197.70,69.27 L199.06,68.69 L200.42,68.11 L201.79,67.53 L203.15,66.96 L204.51,66.40 L205.87,65.83 L207.24,65.27 L208.60,64.71 L208.60,64.71 L207.24,65.25 L205.87,65.80 L204.51,66.35 L203.15,66.90 L201.79,67.46 L200.42,68.02 L199.06,68.59 L197.70,69.16 L196.34,69.73 L194.97,70.31 L193.61,70.90 L192.25,71.49 L190.89,72.08 L189.52,72.69 L188.16,73.29 L186.80,73.91 L185.44,74.53 L184.07,75.15 L182.71,75.78 L181.35,76.42 L179.99,77.07 L178.62,77.72 L177.26,78.38 L175.90,79.04 L174.54,79.72 L173.17,80.40 L171.81,81.09 L170.45,81.79 L169.09,82.49 L167.72,83.21 L166.36,83.93 L165.00,84.66 L163.64,85.40 L162.27,86.15 L160.91,86.91 L159.55,87.68 L158.19,88.46 L156.82,89.25 L155.46,90.05 L154.10,90.87 L152.74,91.69 L151.37,92.52 L150.01,93.37 L148.65,94.23 L147.29,95.10 L145.92,95.98 L144.56,96.87 L143.20,97.78 L141.84,98.70 L140.47,99.64 L139.11,100.59 L137.75,101.55 L136.39,102.53 L135.02,103.52 L133.66,104.52 L132.30,105.55 L130.94,106.58 L129.57,107.63 L128.21,108.70 L126.85,109.79 L125.49,110.89 L124.12,112.00 L122.76,113.14 L121.40,114.29 L120.04,115.46 L118.67,116.64 L117.31,117.84 L115.95,119.06 L114.59,120.30 L113.22,121.56 L111.86,122.84 L110.50,124.14 L109.14,125.46 L107.77,126.80 L106.41,128.17 L105.05,129.56 L103.69,130.96 L102.32,132.39 L100.96,133.85 L99.60,135.32 L98.24,136.81 L96.88,138.33 L95.51,139.87 L94.15,141.42 L92.79,143.00 L91.42,144.60 L90.06,146.22 L88.70,147.86 L87.34,149.52 L85.97,151.20 L84.61,152.90 L83.25,154.62 L81.89,156.36 L80.53,158.11 L79.16,159.88 L77.80,161.67 L76.44,163.48 L75.07,165.30 L73.71,167.14 L72.35,169.00 L70.99,170.86 L69.62,172.74 L68.26,174.64 L66.90,176.55 L65.54,178.46 L64.17,180.39 L62.81,182.33 L61.45,184.28 L60.09,186.24 L58.73,188.20 L57.36,190.17 L56.00,192.14 L54.64,194.12 L53.27,196.10 L51.91,198.09 L50.55,200.07 L49.19,202.05 L47.83,204.04 L46.46,206.02 L45.10,207.81" stroke="#e3f0f1"/>
<path d="M45.10,214.62 L46.52,213.18 L47.93,211.03 L49.35,208.86 L50.77,206.67 L52.19,204.48 L53.60,202.27 L55.02,200.06 L56.44,197.83 L57.85,195.61 L59.27,193.39 L60.69,191.16 L62.10,188.94 L63.52,186.73 L64.94,184.52 L66.35,182.32 L67.77,180.13 L69.19,177.95 L70.61,175.78 L72.02,173.63 L73.44,171.50 L74.86,169.38 L76.27,167.28 L77.69,165.20 L79.11,163.15 L80.53,161.11 L81.94,159.10 L83.36,157.11 L84.78,155.14 L86.19,153.20 L87.61,151.29 L89.03,149.40 L90.44,147.55 L91.86,145.71 L93.28,143.91 L94.69,142.14 L96.11,140.40 L97.53,138.69 L98.95,137.01 L100.36,135.36 L101.78,133.74 L103.20,132.16 L104.61,130.60 L106.03,129.09 L107.45,127.60 L108.86,126.15 L110.28,124.74 L111.70,123.36 L113.12,122.01 L114.53,120.70 L115.95,119.42 L117.37,118.15 L118.78,116.90 L120.20,115.67 L121.62,114.45 L123.03,113.26 L124.45,112.09 L125.87,110.93 L127.29,109.79 L128.70,108.67 L130.12,107.56 L131.54,106.47 L132.95,105.40 L134.37,104.35 L135.79,103.31 L137.21,102.29 L138.62,101.28 L140.04,100.29 L141.46,99.31 L142.87,98.35 L144.29,97.40 L145.71,96.47 L147.12,95.55 L148.54,94.64 L149.96,93.75 L151.37,92.87 L152.79,92.00 L154.21,91.15 L155.63,90.30 L157.04,89.47 L158.46,88.65 L159.88,87.84 L161.29,87.04 L162.71,86.25 L164.13,85.47 L165.54,84.70 L166.96,83.95 L168.38,83.20 L169.80,82.46 L171.21,81.73 L172.63,81.00 L174.05,80.29 L175.46,79.58 L176.88,78.89 L178.30,78.20 L179.71,77.51 L181.13,76.84 L182.55,76.17 L183.97,75.51 L185.38,74.86 L186.80,74.21 L188.22,73.57 L189.63,72.93 L191.05,72.30 L192.47,71.68 L193.88,71.06 L195.30,70.44 L196.72,69.84 L198.14,69.23 L199.55,68.63 L200.97,68.04 L202.39,67.45 L203.80,66.86 L205.22,66.28 L206.64,65.70 L208.05,65.13 L209.47,64.56 L210.89,63.99 L212.31,63.42 L213.72,62.86 L215.14,62.30 L215.14,62.30 L213.72,62.85 L212.31,63.40 L210.89,63.95 L209.47,64.50 L208.05,65.06 L206.64,65.63 L205.22,66.20 L203.80,66.77 L202.39,67.35 L200.97,67.93 L199.55,68.52 L198.14,69.11 L196.72,69.71 L195.30,70.31 L193.88,70.92 L192.47,71.53 L191.05,72.15 L189.63,72.77 L188.22,73.41 L186.80,74.04 L185.38,74.69 L183.97,75.34 L182.55,76.00 L181.13,76.66 L179.71,77.33 L178.30,78.01 L176.88,78.70 L175.46,79.39 L174.05,80.10 L172.63,80.81 L171.21,81.53 L169.80,82.26 L168.38,83.00 L166.96,83.74 L165.54,84.50 L164.13,85.27 L162.71,86.05 L161.29,86.83 L159.88,87.63 L158.46,88.44 L157.04,89.26 L155.63,90.09 L154.21,90.94 L152.79,91.79 L151.37,92.66 L149.96,93.54 L148.54,94.43 L147.12,95.34 L145.71,96.26 L144.29,97.19 L142.87,98.14 L141.46,99.10 L140.04,100.08 L138.62,101.07 L137.21,102.07 L135.79,103.10 L134.37,104.14 L132.95,105.19 L131.54,106.26 L130.12,107.35 L128.70,108.45 L127.29,109.57 L125.87,110.71 L124.45,111.87 L123.03,113.05 L121.62,114.24 L120.20,115.45 L118.78,116.68 L117.37,117.93 L115.95,119.20 L114.53,120.49 L113.12,121.80 L111.70,123.13 L110.28,124.48 L108.86,125.86 L107.45,127.26 L106.03,128.68 L104.61,130.13 L103.20,131.59 L101.78,133.08 L100.36,134.60 L98.95,136.14 L97.53,137.69 L96.11,139.28 L94.69,140.88 L93.28,142.51 L91.86,144.15 L90.44,145.82 L89.03,147.52 L87.61,149.23 L86.19,150.96 L84.78,152.72 L83.36,154.49 L81.94,156.29 L80.53,158.10 L79.11,159.94 L77.69,161.79 L76.27,163.66 L74.86,165.55 L73.44,167.45 L72.02,169.38 L70.61,171.31 L69.19,173.26 L67.77,175.23 L66.35,177.21 L64.94,179.20 L63.52,181.20 L62.10,183.21 L60.69,185.23 L59.27,187.26 L57.85,189.30 L56.44,191.35 L55.02,193.39 L53.60,195.45 L52.19,197.50 L50.77,199.56 L49.35,201.62 L47.93,203.68 L46.52,205.74 L45.10,207.62" stroke="#cfe6ee"/>
<path d="M45.10,214.81 L46.57,213.30 L48.04,211.06 L49.51,208.80 L50.99,206.53 L52.46,204.24 L53.93,201.95 L55.40,199.64 L56.87,197.33 L58.34,195.02 L59.81,192.70 L61.29,190.39 L62.76,188.08 L64.23,185.78 L65.70,183.49 L67.17,181.21 L68.64,178.93 L70.12,176.68 L71.59,174.43 L73.06,172.21 L74.53,170.00 L76.00,167.82 L77.47,165.65 L78.94,163.51 L80.42,161.39 L81.89,159.29 L83.36,157.22 L84.83,155.18 L86.30,153.17 L87.77,151.18 L89.24,149.22 L90.72,147.29 L92.19,145.40 L93.66,143.53 L95.13,141.70 L96.60,139.90 L98.07,138.13 L99.55,136.40 L101.02,134.70 L102.49,133.03 L103.96,131.40 L105.43,129.81 L106.90,128.25 L108.37,126.74 L109.85,125.25 L111.32,123.81 L112.79,122.41 L114.26,121.04 L115.73,119.70 L117.20,118.38 L118.67,117.08 L120.15,115.80 L121.62,114.54 L123.09,113.30 L124.56,112.08 L126.03,110.88 L127.50,109.70 L128.98,108.54 L130.45,107.39 L131.92,106.27 L133.39,105.16 L134.86,104.07 L136.33,103.00 L137.80,101.95 L139.28,100.91 L140.75,99.89 L142.22,98.88 L143.69,97.89 L145.16,96.91 L146.63,95.95 L148.10,95.01 L149.58,94.08 L151.05,93.16 L152.52,92.25 L153.99,91.36 L155.46,90.49 L156.93,89.62 L158.41,88.77 L159.88,87.93 L161.35,87.10 L162.82,86.28 L164.29,85.47 L165.76,84.68 L167.23,83.89 L168.71,83.12 L170.18,82.35 L171.65,81.60 L173.12,80.85 L174.59,80.11 L176.06,79.38 L177.53,78.66 L179.01,77.95 L180.48,77.25 L181.95,76.55 L183.42,75.87 L184.89,75.19 L186.36,74.51 L187.84,73.85 L189.31,73.19 L190.78,72.53 L192.25,71.89 L193.72,71.25 L195.19,70.61 L196.66,69.98 L198.14,69.36 L199.61,68.74 L201.08,68.12 L202.55,67.51 L204.02,66.91 L205.49,66.31 L206.96,65.72 L208.44,65.12 L209.91,64.54 L211.38,63.95 L212.85,63.38 L214.32,62.80 L215.79,62.23 L217.27,61.66 L218.74,61.09 L220.21,60.53 L221.68,59.97 L221.68,59.97 L220.21,60.52 L218.74,61.07 L217.27,61.63 L215.79,62.19 L214.32,62.75 L212.85,63.32 L211.38,63.89 L209.91,64.47 L208.44,65.05 L206.96,65.63 L205.49,66.22 L204.02,66.82 L202.55,67.42 L201.08,68.02 L199.61,68.63 L198.14,69.24 L196.66,69.86 L195.19,70.49 L193.72,71.12 L192.25,71.76 L190.78,72.40 L189.31,73.06 L187.84,73.71 L186.36,74.38 L184.89,75.05 L183.42,75.73 L181.95,76.41 L180.48,77.11 L179.01,77.81 L177.53,78.52 L176.06,79.24 L174.59,79.96 L173.12,80.70 L171.65,81.44 L170.18,82.20 L168.71,82.96 L167.23,83.74 L165.76,84.52 L164.29,85.32 L162.82,86.12 L161.35,86.94 L159.88,87.77 L158.41,88.61 L156.93,89.46 L155.46,90.33 L153.99,91.20 L152.52,92.09 L151.05,93.00 L149.58,93.91 L148.10,94.85 L146.63,95.79 L145.16,96.75 L143.69,97.73 L142.22,98.72 L140.75,99.72 L139.28,100.74 L137.80,101.78 L136.33,102.84 L134.86,103.91 L133.39,105.00 L131.92,106.11 L130.45,107.23 L128.98,108.37 L127.50,109.54 L126.03,110.72 L124.56,111.92 L123.09,113.14 L121.62,114.37 L120.15,115.63 L118.67,116.91 L117.20,118.21 L115.73,119.53 L114.26,120.88 L112.79,122.24 L111.32,123.63 L109.85,125.04 L108.37,126.47 L106.90,127.93 L105.43,129.41 L103.96,130.92 L102.49,132.45 L101.02,134.01 L99.55,135.59 L98.07,137.19 L96.60,138.82 L95.13,140.47 L93.66,142.14 L92.19,143.84 L90.72,145.56 L89.24,147.31 L87.77,149.07 L86.30,150.86 L84.83,152.67 L83.36,154.51 L81.89,156.36 L80.42,158.24 L78.94,160.13 L77.47,162.05 L76.00,163.98 L74.53,165.94 L73.06,167.91 L71.59,169.90 L70.12,171.90 L68.64,173.93 L67.17,175.96 L65.70,178.01 L64.23,180.08 L62.76,182.15 L61.29,184.24 L59.81,186.33 L58.34,188.44 L56.87,190.55 L55.40,192.67 L53.93,194.80 L52.46,196.93 L50.99,199.06 L49.51,201.19 L48.04,203.32 L46.57,205.45 L45.10,207.43" stroke="#b6d6e7"/>
<path d="M45.10,215.00 L46.63,213.41 L48.15,211.09 L49.68,208.75 L51.20,206.39 L52.73,204.01 L54.26,201.62 L55.78,199.23 L57.31,196.83 L58.83,194.42 L60.36,192.02 L61.89,189.62 L63.41,187.22 L64.94,184.84 L66.46,182.46 L67.99,180.09 L69.52,177.74 L71.04,175.41 L72.57,173.09 L74.09,170.79 L75.62,168.51 L77.15,166.26 L78.67,164.03 L80.20,161.82 L81.72,159.64 L83.25,157.49 L84.78,155.37 L86.30,153.28 L87.83,151.22 L89.35,149.18 L90.88,147.19 L92.41,145.22 L93.93,143.29 L95.46,141.39 L96.98,139.53 L98.51,137.71 L100.04,135.92 L101.56,134.17 L103.09,132.45 L104.61,130.78 L106.14,129.14 L107.67,127.55 L109.19,125.99 L110.72,124.48 L112.24,123.01 L113.77,121.58 L115.30,120.18 L116.82,118.80 L118.35,117.45 L119.87,116.12 L121.40,114.81 L122.93,113.52 L124.45,112.25 L125.98,111.01 L127.50,109.78 L129.03,108.58 L130.56,107.39 L132.08,106.23 L133.61,105.08 L135.13,103.96 L136.66,102.85 L138.19,101.76 L139.71,100.69 L141.24,99.63 L142.76,98.60 L144.29,97.57 L145.82,96.57 L147.34,95.58 L148.87,94.61 L150.39,93.65 L151.92,92.71 L153.45,91.78 L154.97,90.86 L156.50,89.96 L158.02,89.07 L159.55,88.20 L161.08,87.34 L162.60,86.49 L164.13,85.65 L165.65,84.82 L167.18,84.01 L168.71,83.21 L170.23,82.41 L171.76,81.63 L173.28,80.86 L174.81,80.09 L176.34,79.34 L177.86,78.60 L179.39,77.86 L180.91,77.14 L182.44,76.42 L183.97,75.71 L185.49,75.01 L187.02,74.31 L188.54,73.63 L190.07,72.95 L191.60,72.28 L193.12,71.61 L194.65,70.95 L196.17,70.30 L197.70,69.65 L199.23,69.01 L200.75,68.37 L202.28,67.74 L203.80,67.12 L205.33,66.50 L206.86,65.88 L208.38,65.27 L209.91,64.67 L211.43,64.07 L212.96,63.47 L214.49,62.88 L216.01,62.29 L217.54,61.70 L219.06,61.12 L220.59,60.54 L222.12,59.97 L223.64,59.40 L225.17,58.83 L226.69,58.26 L228.22,57.70 L228.22,57.70 L226.69,58.26 L225.17,58.81 L223.64,59.38 L222.12,59.94 L220.59,60.51 L219.06,61.08 L217.54,61.66 L216.01,62.24 L214.49,62.83 L212.96,63.41 L211.43,64.01 L209.91,64.60 L208.38,65.21 L206.86,65.81 L205.33,66.43 L203.80,67.04 L202.28,67.66 L200.75,68.29 L199.23,68.92 L197.70,69.56 L196.17,70.21 L194.65,70.86 L193.12,71.52 L191.60,72.18 L190.07,72.85 L188.54,73.53 L187.02,74.22 L185.49,74.91 L183.97,75.61 L182.44,76.32 L180.91,77.04 L179.39,77.76 L177.86,78.49 L176.34,79.24 L174.81,79.99 L173.28,80.75 L171.76,81.52 L170.23,82.31 L168.71,83.10 L167.18,83.90 L165.65,84.72 L164.13,85.54 L162.60,86.38 L161.08,87.23 L159.55,88.09 L158.02,88.96 L156.50,89.85 L154.97,90.75 L153.45,91.67 L151.92,92.60 L150.39,93.54 L148.87,94.50 L147.34,95.47 L145.82,96.46 L144.29,97.46 L142.76,98.48 L141.24,99.52 L139.71,100.58 L138.19,101.65 L136.66,102.74 L135.13,103.85 L133.61,104.97 L132.08,106.12 L130.56,107.28 L129.03,108.47 L127.50,109.67 L125.98,110.90 L124.45,112.14 L122.93,113.41 L121.40,114.70 L119.87,116.01 L118.35,117.34 L116.82,118.69 L115.30,120.07 L113.77,121.46 L112.24,122.89 L110.72,124.33 L109.19,125.80 L107.67,127.30 L106.14,128.82 L104.61,130.37 L103.09,131.94 L101.56,133.54 L100.04,135.16 L98.51,136.81 L96.98,138.48 L95.46,140.18 L93.93,141.91 L92.41,143.66 L90.88,145.43 L89.35,147.23 L87.83,149.05 L86.30,150.89 L84.78,152.76 L83.25,154.65 L81.72,156.57 L80.20,158.51 L78.67,160.47 L77.15,162.45 L75.62,164.45 L74.09,166.47 L72.57,168.51 L71.04,170.57 L69.52,172.64 L67.99,174.73 L66.46,176.84 L64.94,178.97 L63.41,181.10 L61.89,183.25 L60.36,185.41 L58.83,187.58 L57.31,189.76 L55.78,191.95 L54.26,194.15 L52.73,196.35 L51.20,198.55 L49.68,200.76 L48.15,202.97 L46.63,205.17 L45.10,207.24" stroke="#9ac3dd"/>
<path d="M45.10,215.19 L46.68,213.53 L48.26,211.12 L49.84,208.69 L51.42,206.24 L53.00,203.77 L54.58,201.30 L56.16,198.81 L57.74,196.32 L59.32,193.82 L60.91,191.33 L62.49,188.84 L64.07,186.36 L65.65,183.89 L67.23,181.43 L68.81,178.98 L70.39,176.55 L71.97,174.14 L73.55,171.75 L75.13,169.38 L76.71,167.03 L78.29,164.71 L79.87,162.42 L81.45,160.15 L83.03,157.92 L84.61,155.71 L86.19,153.54 L87.77,151.40 L89.35,149.29 L90.93,147.22 L92.51,145.18 L94.10,143.18 L95.68,141.22 L97.26,139.30 L98.84,137.41 L100.42,135.57 L102.00,133.76 L103.58,132.00 L105.16,130.28 L106.74,128.60 L108.32,126.96 L109.90,125.37 L111.48,123.82 L113.06,122.32 L114.64,120.86 L116.22,119.42 L117.80,118.01 L119.38,116.63 L120.96,115.26 L122.54,113.92 L124.12,112.61 L125.71,111.31 L127.29,110.04 L128.87,108.79 L130.45,107.56 L132.03,106.36 L133.61,105.17 L135.19,104.00 L136.77,102.86 L138.35,101.73 L139.93,100.62 L141.51,99.53 L143.09,98.46 L144.67,97.41 L146.25,96.37 L147.83,95.35 L149.41,94.35 L150.99,93.36 L152.57,92.39 L154.15,91.44 L155.73,90.50 L157.32,89.57 L158.90,88.66 L160.48,87.76 L162.06,86.88 L163.64,86.00 L165.22,85.14 L166.80,84.30 L168.38,83.46 L169.96,82.64 L171.54,81.83 L173.12,81.03 L174.70,80.24 L176.28,79.46 L177.86,78.69 L179.44,77.93 L181.02,77.18 L182.60,76.43 L184.18,75.70 L185.76,74.98 L187.34,74.26 L188.93,73.55 L190.51,72.85 L192.09,72.16 L193.67,71.47 L195.25,70.79 L196.83,70.12 L198.41,69.45 L199.99,68.79 L201.57,68.14 L203.15,67.49 L204.73,66.85 L206.31,66.21 L207.89,65.58 L209.47,64.95 L211.05,64.33 L212.63,63.71 L214.21,63.10 L215.79,62.49 L217.37,61.89 L218.95,61.29 L220.54,60.70 L222.12,60.10 L223.70,59.52 L225.28,58.93 L226.86,58.35 L228.44,57.77 L230.02,57.20 L231.60,56.62 L233.18,56.05 L234.76,55.49 L234.76,55.49 L233.18,56.05 L231.60,56.62 L230.02,57.19 L228.44,57.76 L226.86,58.33 L225.28,58.91 L223.70,59.49 L222.12,60.08 L220.54,60.67 L218.95,61.26 L217.37,61.86 L215.79,62.46 L214.21,63.07 L212.63,63.68 L211.05,64.29 L209.47,64.91 L207.89,65.54 L206.31,66.17 L204.73,66.80 L203.15,67.44 L201.57,68.09 L199.99,68.74 L198.41,69.40 L196.83,70.07 L195.25,70.74 L193.67,71.42 L192.09,72.10 L190.51,72.80 L188.93,73.50 L187.34,74.20 L185.76,74.92 L184.18,75.65 L182.60,76.38 L181.02,77.12 L179.44,77.87 L177.86,78.63 L176.28,79.40 L174.70,80.18 L173.12,80.97 L171.54,81.77 L169.96,82.58 L168.38,83.41 L166.80,84.24 L165.22,85.09 L163.64,85.95 L162.06,86.82 L160.48,87.70 L158.90,88.60 L157.32,89.51 L155.73,90.44 L154.15,91.38 L152.57,92.33 L150.99,93.30 L149.41,94.29 L147.83,95.29 L146.25,96.31 L144.67,97.35 L143.09,98.40 L141.51,99.47 L139.93,100.56 L138.35,101.67 L136.77,102.80 L135.19,103.94 L133.61,105.11 L132.03,106.30 L130.45,107.50 L128.87,108.73 L127.29,109.98 L125.71,111.25 L124.12,112.55 L122.54,113.86 L120.96,115.20 L119.38,116.57 L117.80,117.95 L116.22,119.36 L114.64,120.80 L113.06,122.26 L111.48,123.74 L109.90,125.25 L108.32,126.79 L106.74,128.35 L105.16,129.94 L103.58,131.55 L102.00,133.19 L100.42,134.86 L98.84,136.56 L97.26,138.28 L95.68,140.02 L94.10,141.80 L92.51,143.60 L90.93,145.42 L89.35,147.28 L87.77,149.15 L86.19,151.06 L84.61,152.98 L83.03,154.94 L81.45,156.91 L79.87,158.91 L78.29,160.94 L76.71,162.98 L75.13,165.05 L73.55,167.14 L71.97,169.25 L70.39,171.38 L68.81,173.52 L67.23,175.69 L65.65,177.87 L64.07,180.06 L62.49,182.27 L60.91,184.50 L59.32,186.73 L57.74,188.98 L56.16,191.24 L54.58,193.50 L53.00,195.77 L51.42,198.05 L49.84,200.33 L48.26,202.61 L46.68,204.89 L45.10,207.05" stroke="#81afd3"/>
<path d="M45.10,215.38 L46.73,213.65 L48.37,211.16 L50.01,208.63 L51.64,206.09 L53.27,203.54 L54.91,200.97 L56.55,198.39 L58.18,195.81 L59.81,193.22 L61.45,190.64 L63.09,188.07 L64.72,185.50 L66.35,182.94 L67.99,180.40 L69.62,177.87 L71.26,175.36 L72.89,172.88 L74.53,170.41 L76.16,167.97 L77.80,165.56 L79.44,163.17 L81.07,160.82 L82.70,158.49 L84.34,156.20 L85.97,153.95 L87.61,151.73 L89.24,149.54 L90.88,147.39 L92.51,145.28 L94.15,143.21 L95.78,141.18 L97.42,139.19 L99.05,137.25 L100.69,135.34 L102.32,133.48 L103.96,131.67 L105.59,129.90 L107.23,128.17 L108.86,126.49 L110.50,124.86 L112.13,123.28 L113.77,121.74 L115.41,120.25 L117.04,118.78 L118.67,117.33 L120.31,115.91 L121.94,114.51 L123.58,113.14 L125.22,111.80 L126.85,110.47 L128.48,109.18 L130.12,107.90 L131.75,106.65 L133.39,105.42 L135.02,104.21 L136.66,103.02 L138.29,101.85 L139.93,100.70 L141.56,99.58 L143.20,98.47 L144.83,97.38 L146.47,96.31 L148.10,95.26 L149.74,94.23 L151.37,93.21 L153.01,92.21 L154.64,91.23 L156.28,90.26 L157.91,89.31 L159.55,88.37 L161.18,87.45 L162.82,86.54 L164.45,85.64 L166.09,84.76 L167.72,83.89 L169.36,83.04 L170.99,82.19 L172.63,81.36 L174.26,80.54 L175.90,79.73 L177.53,78.93 L179.17,78.14 L180.80,77.37 L182.44,76.60 L184.07,75.84 L185.71,75.09 L187.34,74.35 L188.98,73.62 L190.61,72.89 L192.25,72.18 L193.88,71.47 L195.52,70.77 L197.15,70.07 L198.79,69.39 L200.42,68.71 L202.06,68.03 L203.69,67.37 L205.33,66.70 L206.96,66.05 L208.60,65.40 L210.23,64.75 L211.87,64.12 L213.50,63.48 L215.14,62.85 L216.77,62.23 L218.41,61.61 L220.04,60.99 L221.68,60.38 L223.31,59.77 L224.95,59.17 L226.58,58.57 L228.22,57.98 L229.85,57.38 L231.49,56.79 L233.12,56.21 L234.76,55.63 L236.39,55.05 L238.03,54.47 L239.66,53.90 L241.30,53.33 L241.30,53.33 L239.66,53.90 L238.03,54.47 L236.39,55.05 L234.76,55.62 L233.12,56.21 L231.49,56.79 L229.85,57.38 L228.22,57.97 L226.58,58.57 L224.95,59.17 L223.31,59.77 L221.68,60.38 L220.04,60.99 L218.41,61.60 L216.77,62.22 L215.14,62.85 L213.50,63.48 L211.87,64.11 L210.23,64.75 L208.60,65.39 L206.96,66.04 L205.33,66.70 L203.69,67.36 L202.06,68.03 L200.42,68.70 L198.79,69.38 L197.15,70.07 L195.52,70.76 L193.88,71.46 L192.25,72.17 L190.61,72.88 L188.98,73.61 L187.34,74.34 L185.71,75.08 L184.07,75.83 L182.44,76.59 L180.80,77.36 L179.17,78.14 L177.53,78.93 L175.90,79.72 L174.26,80.53 L172.63,81.35 L170.99,82.19 L169.36,83.03 L167.72,83.89 L166.09,84.75 L164.45,85.64 L162.82,86.53 L161.18,87.44 L159.55,88.36 L157.91,89.30 L156.28,90.25 L154.64,91.22 L153.01,92.20 L151.37,93.20 L149.74,94.22 L148.10,95.25 L146.47,96.30 L144.83,97.37 L143.20,98.46 L141.56,99.57 L139.93,100.70 L138.29,101.84 L136.66,103.01 L135.02,104.20 L133.39,105.41 L131.75,106.64 L130.12,107.89 L128.48,109.17 L126.85,110.47 L125.22,111.79 L123.58,113.14 L121.94,114.51 L120.31,115.90 L118.67,117.32 L117.04,118.77 L115.41,120.24 L113.77,121.74 L112.13,123.26 L110.50,124.81 L108.86,126.39 L107.23,127.99 L105.59,129.62 L103.96,131.28 L102.32,132.97 L100.69,134.68 L99.05,136.42 L97.42,138.19 L95.78,139.99 L94.15,141.82 L92.51,143.67 L90.88,145.55 L89.24,147.46 L87.61,149.39 L85.97,151.35 L84.34,153.34 L82.70,155.35 L81.07,157.39 L79.44,159.45 L77.80,161.54 L76.16,163.65 L74.53,165.79 L72.89,167.95 L71.26,170.13 L69.62,172.33 L67.99,174.54 L66.35,176.78 L64.72,179.04 L63.09,181.31 L61.45,183.59 L59.81,185.89 L58.18,188.20 L56.55,190.53 L54.91,192.86 L53.27,195.20 L51.64,197.55 L50.01,199.90 L48.37,202.26 L46.73,204.61 L45.10,206.86" stroke="#6b9dca"/>
<path d="M45.10,215.57 L46.79,213.79 L48.48,211.24 L50.17,208.69 L51.86,206.15 L53.55,203.60 L55.24,201.06 L56.93,198.53 L58.62,196.00 L60.31,193.49 L61.99,190.99 L63.68,188.51 L65.37,186.04 L67.06,183.59 L68.75,181.16 L70.44,178.75 L72.13,176.36 L73.82,174.00 L75.51,171.66 L77.20,169.35 L78.89,167.07 L80.58,164.82 L82.27,162.60 L83.96,160.40 L85.65,158.24 L87.34,156.11 L89.03,154.02 L90.72,151.95 L92.41,149.92 L94.10,147.93 L95.78,145.97 L97.47,144.04 L99.16,142.15 L100.85,140.29 L102.54,138.46 L104.23,136.67 L105.92,134.92 L107.61,133.20 L109.30,131.51 L110.99,129.86 L112.68,128.25 L114.37,126.66 L116.06,125.11 L117.75,123.58 L119.44,122.09 L121.13,120.62 L122.82,119.17 L124.51,117.75 L126.20,116.36 L127.89,115.00 L129.57,113.65 L131.26,112.34 L132.95,111.04 L134.64,109.77 L136.33,108.52 L138.02,107.29 L139.71,106.08 L141.40,104.89 L143.09,103.73 L144.78,102.58 L146.47,101.45 L148.16,100.33 L149.85,99.24 L151.54,98.16 L153.23,97.10 L154.92,96.05 L156.61,95.02 L158.30,94.01 L159.99,93.00 L161.68,92.01 L163.36,91.04 L165.05,90.08 L166.74,89.12 L168.43,88.19 L170.12,87.26 L171.81,86.34 L173.50,85.43 L175.19,84.54 L176.88,83.65 L178.57,82.77 L180.26,81.90 L181.95,81.04 L183.64,80.18 L185.33,79.34 L187.02,78.50 L188.71,77.66 L190.40,76.84 L192.09,76.02 L193.78,75.20 L195.47,74.39 L197.15,73.59 L198.84,72.79 L200.53,71.99 L202.22,71.20 L203.91,70.42 L205.60,69.63 L207.29,68.85 L208.98,68.08 L210.67,67.30 L212.36,66.53 L214.05,65.77 L215.74,65.00 L217.43,64.24 L219.12,63.48 L220.81,62.72 L222.50,61.96 L224.19,61.21 L225.88,60.45 L227.57,59.70 L229.26,58.95 L230.94,58.21 L232.63,57.46 L234.32,56.72 L236.01,55.97 L237.70,55.23 L239.39,54.50 L241.08,53.76 L242.77,53.03 L244.46,52.29 L246.15,51.57 L247.84,50.84 L247.84,50.84 L246.15,51.45 L244.46,52.07 L242.77,52.69 L241.08,53.31 L239.39,53.93 L237.70,54.55 L236.01,55.18 L234.32,55.81 L232.63,56.45 L230.94,57.08 L229.26,57.72 L227.57,58.37 L225.88,59.01 L224.19,59.66 L222.50,60.32 L220.81,60.98 L219.12,61.64 L217.43,62.31 L215.74,62.98 L214.05,63.65 L212.36,64.34 L210.67,65.02 L208.98,65.71 L207.29,66.41 L205.60,67.11 L203.91,67.82 L202.22,68.53 L200.53,69.25 L198.84,69.98 L197.15,70.71 L195.47,71.45 L193.78,72.20 L192.09,72.96 L190.40,73.72 L188.71,74.49 L187.02,75.27 L185.33,76.06 L183.64,76.85 L181.95,77.66 L180.26,78.48 L178.57,79.30 L176.88,80.14 L175.19,80.99 L173.50,81.84 L171.81,82.71 L170.12,83.60 L168.43,84.49 L166.74,85.40 L165.05,86.32 L163.36,87.25 L161.68,88.20 L159.99,89.16 L158.30,90.14 L156.61,91.13 L154.92,92.14 L153.23,93.16 L151.54,94.20 L149.85,95.26 L148.16,96.34 L146.47,97.43 L144.78,98.55 L143.09,99.68 L141.40,100.83 L139.71,102.01 L138.02,103.20 L136.33,104.42 L134.64,105.66 L132.95,106.92 L131.26,108.20 L129.57,109.51 L127.89,110.84 L126.20,112.20 L124.51,113.58 L122.82,114.99 L121.13,116.42 L119.44,117.88 L117.75,119.37 L116.06,120.89 L114.37,122.43 L112.68,124.00 L110.99,125.59 L109.30,127.21 L107.61,128.85 L105.92,130.52 L104.23,132.22 L102.54,133.93 L100.85,135.68 L99.16,137.45 L97.47,139.25 L95.78,141.08 L94.10,142.93 L92.41,144.81 L90.72,146.71 L89.03,148.65 L87.34,150.61 L85.65,152.59 L83.96,154.61 L82.27,156.65 L80.58,158.71 L78.89,160.80 L77.20,162.91 L75.51,165.05 L73.82,167.21 L72.13,169.40 L70.44,171.61 L68.75,173.83 L67.06,176.08 L65.37,178.35 L63.68,180.64 L61.99,182.94 L60.31,185.27 L58.62,187.61 L56.93,189.96 L55.24,192.33 L53.55,194.71 L51.86,197.10 L50.17,199.50 L48.48,201.92 L46.79,204.34 L45.10,206.67" stroke="#5a8dc2"/>
<path d="M45.10,215.76 L46.84,213.91 L48.59,211.28 L50.33,208.65 L52.08,206.02 L53.82,203.40 L55.56,200.78 L57.31,198.17 L59.05,195.57 L60.80,192.98 L62.54,190.41 L64.28,187.85 L66.03,185.32 L67.77,182.80 L69.52,180.31 L71.26,177.84 L73.00,175.39 L74.75,172.97 L76.49,170.58 L78.24,168.22 L79.98,165.89 L81.72,163.59 L83.47,161.33 L85.21,159.09 L86.96,156.89 L88.70,154.73 L90.44,152.60 L92.19,150.50 L93.93,148.44 L95.68,146.42 L97.42,144.43 L99.16,142.48 L100.91,140.57 L102.65,138.69 L104.40,136.85 L106.14,135.04 L107.88,133.27 L109.63,131.54 L111.37,129.84 L113.12,128.18 L114.86,126.56 L116.60,124.96 L118.35,123.40 L120.09,121.86 L121.84,120.35 L123.58,118.87 L125.32,117.42 L127.07,116.00 L128.81,114.60 L130.56,113.23 L132.30,111.88 L134.04,110.56 L135.79,109.26 L137.53,107.98 L139.28,106.73 L141.02,105.50 L142.76,104.29 L144.51,103.10 L146.25,101.92 L148.00,100.77 L149.74,99.64 L151.48,98.53 L153.23,97.43 L154.97,96.35 L156.72,95.28 L158.46,94.23 L160.20,93.20 L161.95,92.18 L163.69,91.17 L165.44,90.18 L167.18,89.20 L168.92,88.23 L170.67,87.28 L172.41,86.33 L174.16,85.40 L175.90,84.47 L177.64,83.56 L179.39,82.66 L181.13,81.76 L182.88,80.87 L184.62,79.99 L186.36,79.12 L188.11,78.26 L189.85,77.40 L191.60,76.55 L193.34,75.71 L195.08,74.87 L196.83,74.04 L198.57,73.21 L200.32,72.39 L202.06,71.57 L203.80,70.76 L205.55,69.95 L207.29,69.14 L209.04,68.34 L210.78,67.54 L212.52,66.75 L214.27,65.95 L216.01,65.17 L217.76,64.38 L219.50,63.59 L221.24,62.81 L222.99,62.03 L224.73,61.25 L226.48,60.48 L228.22,59.70 L229.96,58.93 L231.71,58.16 L233.45,57.39 L235.20,56.63 L236.94,55.86 L238.68,55.10 L240.43,54.34 L242.17,53.58 L243.92,52.83 L245.66,52.08 L247.40,51.33 L249.15,50.58 L250.89,49.84 L252.64,49.10 L254.38,48.37 L254.38,48.37 L252.64,48.99 L250.89,49.61 L249.15,50.23 L247.40,50.86 L245.66,51.49 L243.92,52.12 L242.17,52.75 L240.43,53.39 L238.68,54.03 L236.94,54.67 L235.20,55.31 L233.45,55.96 L231.71,56.61 L229.96,57.27 L228.22,57.93 L226.48,58.59 L224.73,59.25 L222.99,59.92 L221.24,60.60 L219.50,61.28 L217.76,61.96 L216.01,62.65 L214.27,63.34 L212.52,64.04 L210.78,64.74 L209.04,65.45 L207.29,66.17 L205.55,66.89 L203.80,67.61 L202.06,68.35 L200.32,69.09 L198.57,69.84 L196.83,70.59 L195.08,71.35 L193.34,72.12 L191.60,72.90 L189.85,73.69 L188.11,74.48 L186.36,75.29 L184.62,76.10 L182.88,76.93 L181.13,77.76 L179.39,78.61 L177.64,79.46 L175.90,80.33 L174.16,81.21 L172.41,82.10 L170.67,83.00 L168.92,83.92 L167.18,84.85 L165.44,85.79 L163.69,86.75 L161.95,87.72 L160.20,88.71 L158.46,89.72 L156.72,90.74 L154.97,91.78 L153.23,92.83 L151.48,93.91 L149.74,95.00 L148.00,96.11 L146.25,97.24 L144.51,98.39 L142.76,99.57 L141.02,100.76 L139.28,101.98 L137.53,103.21 L135.79,104.48 L134.04,105.76 L132.30,107.07 L130.56,108.41 L128.81,109.77 L127.07,111.15 L125.32,112.57 L123.58,114.01 L121.84,115.47 L120.09,116.97 L118.35,118.49 L116.60,120.05 L114.86,121.63 L113.12,123.24 L111.37,124.88 L109.63,126.55 L107.88,128.24 L106.14,129.96 L104.40,131.71 L102.65,133.48 L100.91,135.28 L99.16,137.12 L97.42,138.98 L95.68,140.87 L93.93,142.79 L92.19,144.74 L90.44,146.71 L88.70,148.72 L86.96,150.75 L85.21,152.82 L83.47,154.91 L81.72,157.03 L79.98,159.17 L78.24,161.34 L76.49,163.54 L74.75,165.77 L73.00,168.02 L71.26,170.29 L69.52,172.58 L67.77,174.90 L66.03,177.24 L64.28,179.60 L62.54,181.98 L60.80,184.37 L59.05,186.79 L57.31,189.22 L55.56,191.66 L53.82,194.12 L52.08,196.59 L50.33,199.07 L48.59,201.56 L46.84,204.06 L45.10,206.48" stroke="#5283bd"/>
<path d="M45.10,215.95 L46.90,214.03 L48.70,211.31 L50.50,208.60 L52.29,205.89 L54.09,203.19 L55.89,200.49 L57.69,197.81 L59.49,195.13 L61.29,192.47 L63.09,189.83 L64.88,187.21 L66.68,184.60 L68.48,182.02 L70.28,179.47 L72.08,176.94 L73.88,174.44 L75.67,171.96 L77.47,169.52 L79.27,167.11 L81.07,164.73 L82.87,162.39 L84.67,160.08 L86.47,157.81 L88.26,155.57 L90.06,153.37 L91.86,151.21 L93.66,149.08 L95.46,147.00 L97.26,144.95 L99.05,142.94 L100.85,140.96 L102.65,139.03 L104.45,137.13 L106.25,135.28 L108.05,133.46 L109.85,131.68 L111.64,129.93 L113.44,128.23 L115.24,126.55 L117.04,124.92 L118.84,123.31 L120.64,121.73 L122.44,120.19 L124.23,118.67 L126.03,117.18 L127.83,115.73 L129.63,114.30 L131.43,112.89 L133.23,111.51 L135.02,110.16 L136.82,108.84 L138.62,107.53 L140.42,106.25 L142.22,105.00 L144.02,103.76 L145.82,102.55 L147.61,101.36 L149.41,100.18 L151.21,99.03 L153.01,97.89 L154.81,96.78 L156.61,95.68 L158.41,94.59 L160.20,93.52 L162.00,92.47 L163.80,91.43 L165.60,90.41 L167.40,89.40 L169.20,88.40 L170.99,87.41 L172.79,86.44 L174.59,85.48 L176.39,84.53 L178.19,83.59 L179.99,82.65 L181.79,81.73 L183.58,80.82 L185.38,79.91 L187.18,79.02 L188.98,78.13 L190.78,77.25 L192.58,76.37 L194.38,75.51 L196.17,74.64 L197.97,73.79 L199.77,72.94 L201.57,72.09 L203.37,71.25 L205.17,70.41 L206.96,69.58 L208.76,68.76 L210.56,67.93 L212.36,67.11 L214.16,66.29 L215.96,65.48 L217.76,64.67 L219.55,63.86 L221.35,63.05 L223.15,62.25 L224.95,61.45 L226.75,60.65 L228.55,59.85 L230.35,59.06 L232.14,58.26 L233.94,57.47 L235.74,56.68 L237.54,55.90 L239.34,55.11 L241.14,54.33 L242.93,53.55 L244.73,52.78 L246.53,52.00 L248.33,51.23 L250.13,50.47 L251.93,49.70 L253.73,48.95 L255.52,48.19 L257.32,47.44 L259.12,46.70 L260.92,45.96 L260.92,45.96 L259.12,46.59 L257.32,47.22 L255.52,47.85 L253.73,48.48 L251.93,49.11 L250.13,49.75 L248.33,50.39 L246.53,51.03 L244.73,51.68 L242.93,52.32 L241.14,52.97 L239.34,53.62 L237.54,54.28 L235.74,54.94 L233.94,55.60 L232.14,56.27 L230.35,56.94 L228.55,57.61 L226.75,58.29 L224.95,58.97 L223.15,59.66 L221.35,60.35 L219.55,61.04 L217.76,61.74 L215.96,62.45 L214.16,63.16 L212.36,63.87 L210.56,64.60 L208.76,65.32 L206.96,66.06 L205.17,66.80 L203.37,67.55 L201.57,68.30 L199.77,69.06 L197.97,69.83 L196.17,70.61 L194.38,71.40 L192.58,72.19 L190.78,72.99 L188.98,73.81 L187.18,74.63 L185.38,75.46 L183.58,76.30 L181.79,77.16 L179.99,78.02 L178.19,78.90 L176.39,79.78 L174.59,80.68 L172.79,81.60 L170.99,82.52 L169.20,83.47 L167.40,84.42 L165.60,85.39 L163.80,86.38 L162.00,87.38 L160.20,88.39 L158.41,89.43 L156.61,90.48 L154.81,91.55 L153.01,92.64 L151.21,93.75 L149.41,94.88 L147.61,96.03 L145.82,97.20 L144.02,98.39 L142.22,99.60 L140.42,100.84 L138.62,102.10 L136.82,103.39 L135.02,104.70 L133.23,106.03 L131.43,107.40 L129.63,108.78 L127.83,110.20 L126.03,111.65 L124.23,113.12 L122.44,114.62 L120.64,116.15 L118.84,117.71 L117.04,119.31 L115.24,120.93 L113.44,122.59 L111.64,124.27 L109.85,125.99 L108.05,127.73 L106.25,129.50 L104.45,131.31 L102.65,133.14 L100.85,135.00 L99.05,136.90 L97.26,138.82 L95.46,140.78 L93.66,142.77 L91.86,144.79 L90.06,146.84 L88.26,148.92 L86.47,151.03 L84.67,153.17 L82.87,155.34 L81.07,157.55 L79.27,159.78 L77.47,162.03 L75.67,164.32 L73.88,166.63 L72.08,168.97 L70.28,171.33 L68.48,173.72 L66.68,176.13 L64.88,178.56 L63.09,181.01 L61.29,183.48 L59.49,185.97 L57.69,188.47 L55.89,190.99 L54.09,193.53 L52.29,196.08 L50.50,198.63 L48.70,201.20 L46.90,203.78 L45.10,206.29" stroke="#4a78b7"/>
<path d="M45.10,216.14 L46.95,214.15 L48.81,211.35 L50.66,208.56 L52.51,205.77 L54.37,202.99 L56.22,200.21 L58.07,197.45 L59.92,194.70 L61.78,191.97 L63.63,189.26 L65.48,186.57 L67.34,183.90 L69.19,181.25 L71.04,178.64 L72.89,176.05 L74.75,173.49 L76.60,170.97 L78.45,168.48 L80.31,166.02 L82.16,163.60 L84.01,161.21 L85.87,158.86 L87.72,156.55 L89.57,154.28 L91.42,152.05 L93.28,149.85 L95.13,147.70 L96.98,145.59 L98.84,143.51 L100.69,141.48 L102.54,139.49 L104.40,137.54 L106.25,135.62 L108.10,133.75 L109.95,131.92 L111.81,130.13 L113.66,128.37 L115.51,126.65 L117.37,124.97 L119.22,123.32 L121.07,121.70 L122.93,120.12 L124.78,118.56 L126.63,117.04 L128.48,115.55 L130.34,114.08 L132.19,112.65 L134.04,111.24 L135.90,109.86 L137.75,108.50 L139.60,107.17 L141.46,105.86 L143.31,104.58 L145.16,103.32 L147.02,102.08 L148.87,100.87 L150.72,99.67 L152.57,98.50 L154.43,97.34 L156.28,96.20 L158.13,95.08 L159.99,93.98 L161.84,92.89 L163.69,91.82 L165.54,90.76 L167.40,89.71 L169.25,88.68 L171.10,87.67 L172.96,86.66 L174.81,85.67 L176.66,84.69 L178.52,83.72 L180.37,82.76 L182.22,81.81 L184.07,80.87 L185.93,79.94 L187.78,79.02 L189.63,78.11 L191.49,77.20 L193.34,76.30 L195.19,75.41 L197.05,74.52 L198.90,73.64 L200.75,72.77 L202.60,71.90 L204.46,71.03 L206.31,70.17 L208.16,69.32 L210.02,68.47 L211.87,67.62 L213.72,66.78 L215.58,65.94 L217.43,65.10 L219.28,64.27 L221.13,63.44 L222.99,62.61 L224.84,61.78 L226.69,60.96 L228.55,60.14 L230.40,59.32 L232.25,58.50 L234.11,57.69 L235.96,56.88 L237.81,56.07 L239.66,55.26 L241.52,54.46 L243.37,53.66 L245.22,52.86 L247.08,52.06 L248.93,51.27 L250.78,50.48 L252.64,49.70 L254.49,48.92 L256.34,48.14 L258.19,47.37 L260.05,46.61 L261.90,45.85 L263.75,45.10 L265.61,44.36 L267.46,43.62 L267.46,43.62 L265.61,44.26 L263.75,44.89 L261.90,45.53 L260.05,46.16 L258.19,46.81 L256.34,47.45 L254.49,48.09 L252.64,48.74 L250.78,49.39 L248.93,50.04 L247.08,50.70 L245.22,51.35 L243.37,52.01 L241.52,52.68 L239.66,53.34 L237.81,54.01 L235.96,54.69 L234.11,55.37 L232.25,56.05 L230.40,56.73 L228.55,57.42 L226.69,58.11 L224.84,58.81 L222.99,59.51 L221.13,60.22 L219.28,60.93 L217.43,61.65 L215.58,62.37 L213.72,63.10 L211.87,63.84 L210.02,64.58 L208.16,65.33 L206.31,66.08 L204.46,66.84 L202.60,67.61 L200.75,68.39 L198.90,69.18 L197.05,69.97 L195.19,70.77 L193.34,71.58 L191.49,72.40 L189.63,73.23 L187.78,74.07 L185.93,74.92 L184.07,75.78 L182.22,76.66 L180.37,77.54 L178.52,78.44 L176.66,79.35 L174.81,80.27 L172.96,81.21 L171.10,82.16 L169.25,83.13 L167.40,84.11 L165.54,85.11 L163.69,86.12 L161.84,87.15 L159.99,88.20 L158.13,89.26 L156.28,90.35 L154.43,91.45 L152.57,92.58 L150.72,93.73 L148.87,94.89 L147.02,96.08 L145.16,97.29 L143.31,98.53 L141.46,99.79 L139.60,101.07 L137.75,102.38 L135.90,103.72 L134.04,105.08 L132.19,106.47 L130.34,107.89 L128.48,109.34 L126.63,110.82 L124.78,112.32 L122.93,113.86 L121.07,115.43 L119.22,117.03 L117.37,118.67 L115.51,120.34 L113.66,122.04 L111.81,123.77 L109.95,125.53 L108.10,127.33 L106.25,129.16 L104.40,131.02 L102.54,132.91 L100.69,134.84 L98.84,136.79 L96.98,138.79 L95.13,140.81 L93.28,142.87 L91.42,144.97 L89.57,147.09 L87.72,149.25 L85.87,151.44 L84.01,153.67 L82.16,155.92 L80.31,158.21 L78.45,160.53 L76.60,162.87 L74.75,165.25 L72.89,167.65 L71.04,170.08 L69.19,172.54 L67.34,175.02 L65.48,177.52 L63.63,180.04 L61.78,182.59 L59.92,185.15 L58.07,187.73 L56.22,190.33 L54.37,192.94 L52.51,195.56 L50.66,198.20 L48.81,200.84 L46.95,203.50 L45.10,206.10" stroke="#4470af"/>
<path d="M45.10,216.33 L47.01,214.27 L48.91,211.39 L50.82,208.51 L52.73,205.64 L54.64,202.78 L56.55,199.93 L58.45,197.09 L60.36,194.27 L62.27,191.47 L64.17,188.69 L66.08,185.93 L67.99,183.20 L69.90,180.49 L71.81,177.82 L73.71,175.17 L75.62,172.56 L77.53,169.99 L79.44,167.45 L81.34,164.94 L83.25,162.48 L85.16,160.05 L87.06,157.66 L88.97,155.32 L90.88,153.01 L92.79,150.75 L94.69,148.53 L96.60,146.35 L98.51,144.21 L100.42,142.11 L102.32,140.06 L104.23,138.05 L106.14,136.08 L108.05,134.15 L109.95,132.27 L111.86,130.42 L113.77,128.62 L115.68,126.85 L117.58,125.12 L119.49,123.42 L121.40,121.76 L123.31,120.14 L125.22,118.54 L127.12,116.98 L129.03,115.45 L130.94,113.96 L132.84,112.49 L134.75,111.05 L136.66,109.63 L138.57,108.25 L140.47,106.89 L142.38,105.56 L144.29,104.25 L146.20,102.96 L148.10,101.70 L150.01,100.46 L151.92,99.24 L153.83,98.04 L155.73,96.86 L157.64,95.70 L159.55,94.56 L161.46,93.43 L163.36,92.32 L165.27,91.23 L167.18,90.15 L169.09,89.09 L170.99,88.04 L172.90,87.01 L174.81,85.98 L176.72,84.97 L178.62,83.97 L180.53,82.99 L182.44,82.01 L184.35,81.04 L186.25,80.08 L188.16,79.13 L190.07,78.19 L191.98,77.26 L193.88,76.33 L195.79,75.41 L197.70,74.50 L199.61,73.59 L201.51,72.70 L203.42,71.80 L205.33,70.91 L207.24,70.03 L209.14,69.15 L211.05,68.28 L212.96,67.40 L214.87,66.54 L216.77,65.68 L218.68,64.82 L220.59,63.96 L222.50,63.11 L224.41,62.26 L226.31,61.41 L228.22,60.56 L230.13,59.72 L232.03,58.88 L233.94,58.04 L235.85,57.21 L237.76,56.37 L239.66,55.54 L241.57,54.72 L243.48,53.89 L245.39,53.07 L247.29,52.25 L249.20,51.44 L251.11,50.63 L253.02,49.82 L254.92,49.02 L256.83,48.22 L258.74,47.42 L260.65,46.64 L262.55,45.85 L264.46,45.08 L266.37,44.31 L268.28,43.56 L270.19,42.81 L272.09,42.07 L274.00,41.34 L274.00,41.34 L272.09,41.98 L270.19,42.62 L268.28,43.27 L266.37,43.91 L264.46,44.56 L262.55,45.21 L260.65,45.86 L258.74,46.51 L256.83,47.16 L254.92,47.82 L253.02,48.48 L251.11,49.14 L249.20,49.81 L247.29,50.48 L245.39,51.15 L243.48,51.82 L241.57,52.50 L239.66,53.18 L237.76,53.87 L235.85,54.56 L233.94,55.25 L232.03,55.94 L230.13,56.65 L228.22,57.35 L226.31,58.06 L224.41,58.77 L222.50,59.49 L220.59,60.22 L218.68,60.95 L216.77,61.69 L214.87,62.43 L212.96,63.18 L211.05,63.93 L209.14,64.69 L207.24,65.46 L205.33,66.24 L203.42,67.02 L201.51,67.82 L199.61,68.62 L197.70,69.43 L195.79,70.24 L193.88,71.07 L191.98,71.91 L190.07,72.76 L188.16,73.62 L186.25,74.49 L184.35,75.37 L182.44,76.26 L180.53,77.17 L178.62,78.09 L176.72,79.02 L174.81,79.97 L172.90,80.93 L170.99,81.91 L169.09,82.90 L167.18,83.91 L165.27,84.94 L163.36,85.98 L161.46,87.05 L159.55,88.13 L157.64,89.23 L155.73,90.35 L153.83,91.49 L151.92,92.65 L150.01,93.84 L148.10,95.05 L146.20,96.28 L144.29,97.54 L142.38,98.82 L140.47,100.13 L138.57,101.47 L136.66,102.83 L134.75,104.22 L132.84,105.64 L130.94,107.09 L129.03,108.57 L127.12,110.08 L125.22,111.62 L123.31,113.20 L121.40,114.81 L119.49,116.45 L117.58,118.13 L115.68,119.84 L113.77,121.59 L111.86,123.37 L109.95,125.18 L108.05,127.03 L106.14,128.92 L104.23,130.84 L102.32,132.79 L100.42,134.78 L98.51,136.81 L96.60,138.87 L94.69,140.97 L92.79,143.10 L90.88,145.27 L88.97,147.48 L87.06,149.72 L85.16,151.99 L83.25,154.30 L81.34,156.65 L79.44,159.02 L77.53,161.43 L75.62,163.86 L73.71,166.33 L71.81,168.83 L69.90,171.35 L67.99,173.90 L66.08,176.47 L64.17,179.07 L62.27,181.69 L60.36,184.33 L58.45,186.99 L56.55,189.66 L54.64,192.35 L52.73,195.05 L50.82,197.76 L48.91,200.49 L47.01,203.22 L45.10,205.91" stroke="#3e68a5"/>
<path d="M45.10,216.52 L47.06,214.39 L49.02,211.43 L50.99,208.47 L52.95,205.52 L54.91,202.58 L56.87,199.65 L58.83,196.74 L60.80,193.85 L62.76,190.97 L64.72,188.13 L66.68,185.30 L68.64,182.51 L70.61,179.74 L72.57,177.01 L74.53,174.31 L76.49,171.65 L78.45,169.02 L80.42,166.43 L82.38,163.88 L84.34,161.38 L86.30,158.91 L88.26,156.49 L90.23,154.11 L92.19,151.77 L94.15,149.48 L96.11,147.23 L98.07,145.03 L100.04,142.87 L102.00,140.75 L103.96,138.68 L105.92,136.65 L107.88,134.67 L109.85,132.72 L111.81,130.82 L113.77,128.97 L115.73,127.15 L117.69,125.37 L119.66,123.63 L121.62,121.92 L123.58,120.25 L125.54,118.62 L127.50,117.02 L129.47,115.45 L131.43,113.92 L133.39,112.41 L135.35,110.94 L137.31,109.49 L139.28,108.08 L141.24,106.69 L143.20,105.33 L145.16,103.99 L147.12,102.68 L149.09,101.39 L151.05,100.12 L153.01,98.88 L154.97,97.66 L156.93,96.46 L158.90,95.27 L160.86,94.11 L162.82,92.96 L164.78,91.83 L166.74,90.72 L168.71,89.62 L170.67,88.53 L172.63,87.47 L174.59,86.41 L176.55,85.37 L178.52,84.34 L180.48,83.32 L182.44,82.31 L184.40,81.31 L186.36,80.32 L188.33,79.35 L190.29,78.38 L192.25,77.42 L194.21,76.46 L196.17,75.52 L198.14,74.58 L200.10,73.65 L202.06,72.72 L204.02,71.80 L205.98,70.89 L207.95,69.98 L209.91,69.08 L211.87,68.18 L213.83,67.28 L215.79,66.39 L217.76,65.51 L219.72,64.62 L221.68,63.74 L223.64,62.87 L225.60,61.99 L227.57,61.12 L229.53,60.26 L231.49,59.39 L233.45,58.53 L235.41,57.67 L237.38,56.81 L239.34,55.96 L241.30,55.10 L243.26,54.26 L245.22,53.41 L247.19,52.57 L249.15,51.73 L251.11,50.89 L253.07,50.06 L255.03,49.23 L257.00,48.41 L258.96,47.59 L260.92,46.78 L262.88,45.97 L264.84,45.17 L266.81,44.38 L268.77,43.60 L270.73,42.82 L272.69,42.06 L274.65,41.31 L276.62,40.56 L278.58,39.84 L280.54,39.12 L280.54,39.12 L278.58,39.77 L276.62,40.42 L274.65,41.07 L272.69,41.72 L270.73,42.37 L268.77,43.02 L266.81,43.68 L264.84,44.34 L262.88,45.00 L260.92,45.66 L258.96,46.33 L257.00,47.00 L255.03,47.67 L253.07,48.34 L251.11,49.02 L249.15,49.69 L247.19,50.38 L245.22,51.06 L243.26,51.75 L241.30,52.44 L239.34,53.14 L237.38,53.84 L235.41,54.54 L233.45,55.25 L231.49,55.96 L229.53,56.68 L227.57,57.40 L225.60,58.13 L223.64,58.86 L221.68,59.60 L219.72,60.34 L217.76,61.09 L215.79,61.84 L213.83,62.61 L211.87,63.38 L209.91,64.15 L207.95,64.94 L205.98,65.73 L204.02,66.53 L202.06,67.34 L200.10,68.15 L198.14,68.98 L196.17,69.81 L194.21,70.66 L192.25,71.52 L190.29,72.38 L188.33,73.26 L186.36,74.15 L184.40,75.06 L182.44,75.97 L180.48,76.90 L178.52,77.85 L176.55,78.80 L174.59,79.78 L172.63,80.77 L170.67,81.77 L168.71,82.79 L166.74,83.83 L164.78,84.89 L162.82,85.97 L160.86,87.06 L158.90,88.18 L156.93,89.32 L154.97,90.48 L153.01,91.66 L151.05,92.86 L149.09,94.09 L147.12,95.35 L145.16,96.63 L143.20,97.93 L141.24,99.27 L139.28,100.63 L137.31,102.02 L135.35,103.44 L133.39,104.89 L131.43,106.37 L129.47,107.89 L127.50,109.43 L125.54,111.01 L123.58,112.63 L121.62,114.28 L119.66,115.96 L117.69,117.68 L115.73,119.44 L113.77,121.24 L111.81,123.07 L109.85,124.94 L107.88,126.85 L105.92,128.79 L103.96,130.77 L102.00,132.79 L100.04,134.85 L98.07,136.95 L96.11,139.08 L94.15,141.25 L92.19,143.47 L90.23,145.71 L88.26,148.00 L86.30,150.33 L84.34,152.69 L82.38,155.08 L80.42,157.52 L78.45,159.98 L76.49,162.48 L74.53,165.01 L72.57,167.57 L70.61,170.17 L68.64,172.78 L66.68,175.43 L64.72,178.10 L62.76,180.79 L60.80,183.51 L58.83,186.24 L56.87,188.99 L54.91,191.76 L52.95,194.54 L50.99,197.33 L49.02,200.13 L47.06,202.94 L45.10,205.72" stroke="#3a619b"/>
<path d="M45.10,216.71 L47.12,214.50 L49.13,211.46 L51.15,208.42 L53.17,205.40 L55.18,202.38 L57.20,199.38 L59.22,196.39 L61.23,193.42 L63.25,190.48 L65.27,187.57 L67.28,184.68 L69.30,181.82 L71.31,179.00 L73.33,176.21 L75.35,173.46 L77.36,170.74 L79.38,168.07 L81.40,165.44 L83.41,162.85 L85.43,160.30 L87.45,157.80 L89.46,155.34 L91.48,152.93 L93.50,150.56 L95.51,148.24 L97.53,145.97 L99.55,143.74 L101.56,141.56 L103.58,139.42 L105.59,137.33 L107.61,135.29 L109.63,133.29 L111.64,131.33 L113.66,129.42 L115.68,127.55 L117.69,125.72 L119.71,123.93 L121.73,122.17 L123.74,120.46 L125.76,118.78 L127.78,117.14 L129.79,115.53 L131.81,113.96 L133.83,112.42 L135.84,110.91 L137.86,109.44 L139.88,107.99 L141.89,106.57 L143.91,105.18 L145.92,103.81 L147.94,102.47 L149.96,101.16 L151.97,99.86 L153.99,98.59 L156.01,97.35 L158.02,96.12 L160.04,94.91 L162.06,93.73 L164.07,92.56 L166.09,91.40 L168.11,90.27 L170.12,89.15 L172.14,88.04 L174.16,86.95 L176.17,85.88 L178.19,84.81 L180.21,83.76 L182.22,82.72 L184.24,81.69 L186.25,80.68 L188.27,79.67 L190.29,78.67 L192.30,77.68 L194.32,76.70 L196.34,75.73 L198.35,74.76 L200.37,73.80 L202.39,72.85 L204.40,71.90 L206.42,70.96 L208.44,70.03 L210.45,69.10 L212.47,68.18 L214.49,67.26 L216.50,66.34 L218.52,65.43 L220.54,64.52 L222.55,63.62 L224.57,62.72 L226.58,61.82 L228.60,60.93 L230.62,60.04 L232.63,59.15 L234.65,58.26 L236.67,57.38 L238.68,56.50 L240.70,55.62 L242.72,54.75 L244.73,53.88 L246.75,53.01 L248.77,52.14 L250.78,51.28 L252.80,50.43 L254.82,49.57 L256.83,48.72 L258.85,47.88 L260.87,47.04 L262.88,46.21 L264.90,45.38 L266.92,44.56 L268.93,43.75 L270.95,42.95 L272.96,42.15 L274.98,41.37 L277.00,40.60 L279.01,39.84 L281.03,39.10 L283.05,38.37 L285.06,37.65 L287.08,36.96 L287.08,36.96 L285.06,37.61 L283.05,38.27 L281.03,38.92 L279.01,39.58 L277.00,40.24 L274.98,40.90 L272.96,41.56 L270.95,42.23 L268.93,42.89 L266.92,43.56 L264.90,44.23 L262.88,44.91 L260.87,45.58 L258.85,46.26 L256.83,46.94 L254.82,47.62 L252.80,48.31 L250.78,49.00 L248.77,49.69 L246.75,50.39 L244.73,51.09 L242.72,51.79 L240.70,52.50 L238.68,53.21 L236.67,53.92 L234.65,54.64 L232.63,55.37 L230.62,56.09 L228.60,56.83 L226.58,57.57 L224.57,58.31 L222.55,59.06 L220.54,59.82 L218.52,60.58 L216.50,61.35 L214.49,62.13 L212.47,62.91 L210.45,63.70 L208.44,64.50 L206.42,65.31 L204.40,66.12 L202.39,66.95 L200.37,67.78 L198.35,68.63 L196.34,69.48 L194.32,70.34 L192.30,71.22 L190.29,72.11 L188.27,73.01 L186.25,73.92 L184.24,74.85 L182.22,75.79 L180.21,76.74 L178.19,77.71 L176.17,78.69 L174.16,79.69 L172.14,80.71 L170.12,81.75 L168.11,82.80 L166.09,83.87 L164.07,84.96 L162.06,86.07 L160.04,87.21 L158.02,88.36 L156.01,89.54 L153.99,90.74 L151.97,91.96 L149.96,93.22 L147.94,94.49 L145.92,95.79 L143.91,97.13 L141.89,98.49 L139.88,99.87 L137.86,101.29 L135.84,102.74 L133.83,104.23 L131.81,105.74 L129.79,107.29 L127.78,108.87 L125.76,110.49 L123.74,112.15 L121.73,113.84 L119.71,115.57 L117.69,117.34 L115.68,119.14 L113.66,120.99 L111.64,122.87 L109.63,124.80 L107.61,126.76 L105.59,128.77 L103.58,130.82 L101.56,132.90 L99.55,135.03 L97.53,137.20 L95.51,139.41 L93.50,141.67 L91.48,143.96 L89.46,146.29 L87.45,148.66 L85.43,151.08 L83.41,153.53 L81.40,156.01 L79.38,158.54 L77.36,161.10 L75.35,163.69 L73.33,166.32 L71.31,168.98 L69.30,171.67 L67.28,174.38 L65.27,177.13 L63.25,179.90 L61.23,182.69 L59.22,185.50 L57.20,188.32 L55.18,191.17 L53.17,194.03 L51.15,196.90 L49.13,199.77 L47.12,202.66 L45.10,205.53" stroke="#3c5c8e"/>
<path d="M45.10,216.90 L47.17,214.62 L49.24,211.50 L51.31,208.38 L53.38,205.27 L55.45,202.18 L57.53,199.10 L59.60,196.04 L61.67,193.01 L63.74,190.00 L65.81,187.01 L67.88,184.06 L69.95,181.15 L72.02,178.26 L74.09,175.42 L76.16,172.62 L78.24,169.85 L80.31,167.13 L82.38,164.46 L84.45,161.82 L86.52,159.24 L88.59,156.70 L90.66,154.21 L92.73,151.77 L94.80,149.38 L96.88,147.03 L98.95,144.73 L101.02,142.48 L103.09,140.28 L105.16,138.13 L107.23,136.02 L109.30,133.96 L111.37,131.94 L113.44,129.97 L115.51,128.05 L117.58,126.16 L119.66,124.32 L121.73,122.52 L123.80,120.76 L125.87,119.04 L127.94,117.35 L130.01,115.71 L132.08,114.09 L134.15,112.52 L136.22,110.97 L138.29,109.46 L140.37,107.98 L142.44,106.53 L144.51,105.10 L146.58,103.71 L148.65,102.34 L150.72,100.99 L152.79,99.68 L154.86,98.38 L156.93,97.11 L159.00,95.85 L161.08,94.62 L163.15,93.41 L165.22,92.22 L167.29,91.04 L169.36,89.88 L171.43,88.74 L173.50,87.61 L175.57,86.50 L177.64,85.40 L179.71,84.32 L181.79,83.25 L183.86,82.19 L185.93,81.14 L188.00,80.10 L190.07,79.07 L192.14,78.05 L194.21,77.04 L196.28,76.04 L198.35,75.04 L200.42,74.05 L202.50,73.08 L204.57,72.10 L206.64,71.14 L208.71,70.17 L210.78,69.22 L212.85,68.27 L214.92,67.32 L216.99,66.38 L219.06,65.45 L221.13,64.51 L223.21,63.58 L225.28,62.66 L227.35,61.74 L229.42,60.82 L231.49,59.90 L233.56,58.99 L235.63,58.08 L237.70,57.17 L239.77,56.27 L241.84,55.37 L243.92,54.47 L245.99,53.58 L248.06,52.69 L250.13,51.80 L252.20,50.92 L254.27,50.04 L256.34,49.16 L258.41,48.29 L260.48,47.42 L262.55,46.56 L264.63,45.71 L266.70,44.86 L268.77,44.02 L270.84,43.18 L272.91,42.36 L274.98,41.55 L277.05,40.74 L279.12,39.95 L281.19,39.17 L283.26,38.41 L285.34,37.66 L287.41,36.93 L289.48,36.21 L291.55,35.52 L293.62,34.85 L293.62,34.85 L291.55,35.51 L289.48,36.17 L287.41,36.83 L285.34,37.50 L283.26,38.16 L281.19,38.83 L279.12,39.50 L277.05,40.17 L274.98,40.84 L272.91,41.52 L270.84,42.19 L268.77,42.87 L266.70,43.55 L264.63,44.23 L262.55,44.92 L260.48,45.61 L258.41,46.30 L256.34,46.99 L254.27,47.69 L252.20,48.39 L250.13,49.09 L248.06,49.80 L245.99,50.51 L243.92,51.22 L241.84,51.94 L239.77,52.66 L237.70,53.39 L235.63,54.12 L233.56,54.85 L231.49,55.59 L229.42,56.34 L227.35,57.09 L225.28,57.85 L223.21,58.61 L221.13,59.38 L219.06,60.16 L216.99,60.94 L214.92,61.73 L212.85,62.53 L210.78,63.34 L208.71,64.15 L206.64,64.98 L204.57,65.81 L202.50,66.65 L200.42,67.50 L198.35,68.36 L196.28,69.24 L194.21,70.12 L192.14,71.02 L190.07,71.93 L188.00,72.85 L185.93,73.79 L183.86,74.74 L181.79,75.70 L179.71,76.68 L177.64,77.68 L175.57,78.69 L173.50,79.72 L171.43,80.77 L169.36,81.83 L167.29,82.92 L165.22,84.03 L163.15,85.15 L161.08,86.30 L159.00,87.48 L156.93,88.67 L154.86,89.89 L152.79,91.14 L150.72,92.41 L148.65,93.71 L146.58,95.04 L144.51,96.39 L142.44,97.78 L140.37,99.20 L138.29,100.65 L136.22,102.13 L134.15,103.64 L132.08,105.19 L130.01,106.78 L127.94,108.40 L125.87,110.06 L123.80,111.76 L121.73,113.49 L119.66,115.27 L117.58,117.09 L115.51,118.94 L113.44,120.84 L111.37,122.78 L109.30,124.77 L107.23,126.79 L105.16,128.86 L103.09,130.98 L101.02,133.14 L98.95,135.34 L96.88,137.59 L94.80,139.88 L92.73,142.21 L90.66,144.59 L88.59,147.01 L86.52,149.47 L84.45,151.97 L82.38,154.51 L80.31,157.10 L78.24,159.72 L76.16,162.37 L74.09,165.07 L72.02,167.79 L69.95,170.55 L67.88,173.34 L65.81,176.15 L63.74,179.00 L61.67,181.86 L59.60,184.75 L57.53,187.65 L55.45,190.58 L53.38,193.51 L51.31,196.46 L49.24,199.42 L47.17,202.38 L45.10,205.34" stroke="#3e5882"/>
<path d="M131.25,110.28 L132.91,109.01 L134.57,107.77 L136.22,106.55 L137.88,105.35 L139.54,104.17 L141.19,103.01 L142.85,101.87 L144.51,100.75 L146.16,99.65 L147.82,98.56 L149.48,97.50 L151.14,96.45 L152.79,95.41 L154.45,94.39 L156.11,93.39 L157.76,92.40 L159.42,91.43 L161.08,90.47 L162.73,89.53 L164.39,88.59 L166.05,87.68 L167.70,86.77 L169.36,85.87 L171.02,84.99 L172.67,84.12 L174.33,83.26 L175.99,82.41 L177.64,81.57 L179.30,80.73 L180.96,79.91 L182.61,79.10 L184.27,78.30 L185.93,77.50 L187.58,76.71 L189.24,75.93 L190.90,75.16 L192.56,74.40 L194.21,73.64 L195.87,72.89 L197.53,72.14 L199.18,71.41 L200.84,70.67 L202.50,69.95 L204.15,69.23 L205.81,68.51 L207.47,67.80 L209.12,67.10 L210.78,66.40 L212.44,65.70 L214.09,65.01 L215.75,64.33 L217.41,63.64 L219.06,62.96 L220.72,62.29 L222.38,61.62 L224.03,60.95 L225.69,60.29 L227.35,59.63 L229.00,58.97 L230.66,58.31 L232.32,57.66 L233.98,57.01 L235.63,56.37 L237.29,55.72 L238.95,55.08 L240.60,54.45 L242.26,53.81 L243.92,53.17 L245.57,52.54 L247.23,51.91 L248.89,51.28 L250.54,50.66 L252.20,50.03 L253.86,49.41 L255.51,48.79 L257.17,48.17 L258.83,47.55 L260.48,46.94 L262.14,46.32 L263.80,45.71 L265.45,45.10 L267.11,44.49 L268.77,43.88 L270.42,43.27 L272.08,42.66 L273.74,42.06 L275.40,41.45 L277.05,40.85 L278.71,40.24 L280.37,39.64 L282.02,39.04 L283.68,38.44 L285.34,37.84 L286.99,37.24 L288.65,36.64 L290.31,36.04 L291.96,35.45 L293.62,34.85" stroke="#3f68a8" stroke-width="1.3"/>
</g>
<rect x="45.10" y="8.00" width="261.60" height="208.90" fill="none" stroke="#000" stroke-width="1.5" stroke-linecap="square"/>
<line x1="45.10" y1="216.90" x2="49.30" y2="216.90" stroke="#000" stroke-width="1.3" />
<text transform="translate(40.60,221.25) scale(1,1.05)" font-size="13" text-anchor="end" font-weight="normal" fill="#000" >0</text>
<line x1="45.10" y1="182.08" x2="49.30" y2="182.08" stroke="#000" stroke-width="1.3" />
<text transform="translate(40.60,186.43) scale(1,1.05)" font-size="13" text-anchor="end" font-weight="normal" fill="#000" >10</text>
<line x1="45.10" y1="147.27" x2="49.30" y2="147.27" stroke="#000" stroke-width="1.3" />
<text transform="translate(40.60,151.62) scale(1,1.05)" font-size="13" text-anchor="end" font-weight="normal" fill="#000" >20</text>
<line x1="45.10" y1="112.45" x2="49.30" y2="112.45" stroke="#000" stroke-width="1.3" />
<text transform="translate(40.60,116.80) scale(1,1.05)" font-size="13" text-anchor="end" font-weight="normal" fill="#000" >30</text>
<line x1="45.10" y1="77.63" x2="49.30" y2="77.63" stroke="#000" stroke-width="1.3" />
<text transform="translate(40.60,81.98) scale(1,1.05)" font-size="13" text-anchor="end" font-weight="normal" fill="#000" >40</text>
<line x1="45.10" y1="42.82" x2="49.30" y2="42.82" stroke="#000" stroke-width="1.3" />
<text transform="translate(40.60,47.17) scale(1,1.05)" font-size="13" text-anchor="end" font-weight="normal" fill="#000" >50</text>
<line x1="45.10" y1="8.00" x2="49.30" y2="8.00" stroke="#000" stroke-width="1.3" />
<text transform="translate(40.60,12.35) scale(1,1.05)" font-size="13" text-anchor="end" font-weight="normal" fill="#000" >60</text>
<line x1="45.10" y1="216.90" x2="45.10" y2="212.70" stroke="#000" stroke-width="1.3" />
<text transform="translate(45.10,232.60) scale(1,1.05)" font-size="13" text-anchor="middle" font-weight="normal" fill="#000" >0</text>
<line x1="110.50" y1="216.90" x2="110.50" y2="212.70" stroke="#000" stroke-width="1.3" />
<text transform="translate(110.50,232.60) scale(1,1.05)" font-size="13" text-anchor="middle" font-weight="normal" fill="#000" >200</text>
<line x1="175.90" y1="216.90" x2="175.90" y2="212.70" stroke="#000" stroke-width="1.3" />
<text transform="translate(175.90,232.60) scale(1,1.05)" font-size="13" text-anchor="middle" font-weight="normal" fill="#000" >400</text>
<line x1="241.30" y1="216.90" x2="241.30" y2="212.70" stroke="#000" stroke-width="1.3" />
<text transform="translate(241.30,232.60) scale(1,1.05)" font-size="13" text-anchor="middle" font-weight="normal" fill="#000" >600</text>
<line x1="306.70" y1="216.90" x2="306.70" y2="212.70" stroke="#000" stroke-width="1.3" />
<text transform="translate(306.70,232.60) scale(1,1.05)" font-size="13" text-anchor="middle" font-weight="normal" fill="#000" >800</text>
<text transform="translate(176.00,253.60) scale(1,1.05)" font-size="14.8" text-anchor="middle" font-weight="normal" fill="#000" >Electric field (kV cm<tspan dy="-5.5" font-size="9.5">−1</tspan><tspan dy="5.5">)</tspan></text>
<text transform="translate(13.6,111.6) rotate(-90) scale(1,1.05)" font-size="14.8" text-anchor="middle">Polarization (μC cm<tspan dy="-5.5" font-size="9.5">−2</tspan><tspan dy="5.5">)</tspan></text>
<rect x="223.9" y="202.54" width="11.0" height="4.56" fill="#96282a"/>
<rect x="223.9" y="198.38" width="11.0" height="4.56" fill="#b1282a"/>
<rect x="223.9" y="194.21" width="11.0" height="4.56" fill="#c4302e"/>
<rect x="223.9" y="190.05" width="11.0" height="4.56" fill="#d03e36"/>
<rect x="223.9" y="185.89" width="11.0" height="4.56" fill="#dc5242"/>
<rect x="223.9" y="181.73" width="11.0" height="4.56" fill="#e6664e"/>
<rect x="223.9" y="177.57" width="11.0" height="4.56" fill="#ef795a"/>
<rect x="223.9" y="173.40" width="11.0" height="4.56" fill="#f38c64"/>
<rect x="223.9" y="169.24" width="11.0" height="4.56" fill="#f69f6d"/>
<rect x="223.9" y="165.08" width="11.0" height="4.56" fill="#f9b176"/>
<rect x="223.9" y="160.92" width="11.0" height="4.56" fill="#fac17e"/>
<rect x="223.9" y="156.76" width="11.0" height="4.56" fill="#fcd188"/>
<rect x="223.9" y="152.59" width="11.0" height="4.56" fill="#fade9f"/>
<rect x="223.9" y="148.43" width="11.0" height="4.56" fill="#f5eac2"/>
<rect x="223.9" y="144.27" width="11.0" height="4.56" fill="#edefdd"/>
<rect x="223.9" y="140.11" width="11.0" height="4.56" fill="#e3f0f1"/>
<rect x="223.9" y="135.94" width="11.0" height="4.56" fill="#cfe6ee"/>
<rect x="223.9" y="131.78" width="11.0" height="4.56" fill="#b6d6e7"/>
<rect x="223.9" y="127.62" width="11.0" height="4.56" fill="#9ac3dd"/>
<rect x="223.9" y="123.46" width="11.0" height="4.56" fill="#81afd3"/>
<rect x="223.9" y="119.30" width="11.0" height="4.56" fill="#6b9dca"/>
<rect x="223.9" y="115.13" width="11.0" height="4.56" fill="#5a8dc2"/>
<rect x="223.9" y="110.97" width="11.0" height="4.56" fill="#5283bd"/>
<rect x="223.9" y="106.81" width="11.0" height="4.56" fill="#4a78b7"/>
<rect x="223.9" y="102.65" width="11.0" height="4.56" fill="#4470af"/>
<rect x="223.9" y="98.49" width="11.0" height="4.56" fill="#3e68a5"/>
<rect x="223.9" y="94.32" width="11.0" height="4.56" fill="#3a619b"/>
<rect x="223.9" y="90.16" width="11.0" height="4.56" fill="#3c5c8e"/>
<rect x="223.9" y="86.00" width="11.0" height="4.56" fill="#3e5882"/>
<text transform="translate(239.30,211.35) scale(1,1.05)" font-size="13" text-anchor="start" font-weight="normal" fill="#000" >200</text>
<text transform="translate(239.30,179.02) scale(1,1.05)" font-size="13" text-anchor="start" font-weight="normal" fill="#000" >350</text>
<text transform="translate(239.30,146.69) scale(1,1.05)" font-size="13" text-anchor="start" font-weight="normal" fill="#000" >500</text>
<text transform="translate(239.30,114.36) scale(1,1.05)" font-size="13" text-anchor="start" font-weight="normal" fill="#000" >650</text>
<text transform="translate(224.20,79.60) scale(1,1.05)" font-size="11.4" text-anchor="start" font-weight="normal" fill="#000" >kV cm<tspan dy="-4.5" font-size="7.8">−1</tspan></text>
<rect x="387.00" y="8.00" width="261.00" height="208.80" fill="none" stroke="#000" stroke-width="1.5" stroke-linecap="square"/>
<line x1="387.00" y1="216.80" x2="391.20" y2="216.80" stroke="#000" stroke-width="1.3" />
<text transform="translate(382.00,221.15) scale(1,1.05)" font-size="13" text-anchor="end" font-weight="normal" fill="#000" >0</text>
<line x1="387.00" y1="192.12" x2="391.20" y2="192.12" stroke="#000" stroke-width="1.3" />
<text transform="translate(382.00,196.47) scale(1,1.05)" font-size="13" text-anchor="end" font-weight="normal" fill="#000" >2</text>
<line x1="387.00" y1="167.44" x2="391.20" y2="167.44" stroke="#000" stroke-width="1.3" />
<text transform="translate(382.00,171.79) scale(1,1.05)" font-size="13" text-anchor="end" font-weight="normal" fill="#000" >4</text>
<line x1="387.00" y1="142.76" x2="391.20" y2="142.76" stroke="#000" stroke-width="1.3" />
<text transform="translate(382.00,147.11) scale(1,1.05)" font-size="13" text-anchor="end" font-weight="normal" fill="#000" >6</text>
<line x1="387.00" y1="118.08" x2="391.20" y2="118.08" stroke="#000" stroke-width="1.3" />
<text transform="translate(382.00,122.43) scale(1,1.05)" font-size="13" text-anchor="end" font-weight="normal" fill="#000" >8</text>
<line x1="387.00" y1="93.40" x2="391.20" y2="93.40" stroke="#000" stroke-width="1.3" />
<text transform="translate(382.00,97.75) scale(1,1.05)" font-size="13" text-anchor="end" font-weight="normal" fill="#000" >10</text>
<line x1="387.00" y1="68.72" x2="391.20" y2="68.72" stroke="#000" stroke-width="1.3" />
<text transform="translate(382.00,73.07) scale(1,1.05)" font-size="13" text-anchor="end" font-weight="normal" fill="#000" >12</text>
<line x1="387.00" y1="44.04" x2="391.20" y2="44.04" stroke="#000" stroke-width="1.3" />
<text transform="translate(382.00,48.39) scale(1,1.05)" font-size="13" text-anchor="end" font-weight="normal" fill="#000" >14</text>
<line x1="387.00" y1="19.36" x2="391.20" y2="19.36" stroke="#000" stroke-width="1.3" />
<text transform="translate(382.00,23.71) scale(1,1.05)" font-size="13" text-anchor="end" font-weight="normal" fill="#000" >16</text>
<line x1="648.00" y1="216.80" x2="643.80" y2="216.80" stroke="#000" stroke-width="1.3" />
<text transform="translate(654.00,221.15) scale(1,1.05)" font-size="13" text-anchor="start" font-weight="normal" fill="#000" >0</text>
<line x1="648.00" y1="175.04" x2="643.80" y2="175.04" stroke="#000" stroke-width="1.3" />
<text transform="translate(654.00,179.39) scale(1,1.05)" font-size="13" text-anchor="start" font-weight="normal" fill="#000" >20</text>
<line x1="648.00" y1="133.28" x2="643.80" y2="133.28" stroke="#000" stroke-width="1.3" />
<text transform="translate(654.00,137.63) scale(1,1.05)" font-size="13" text-anchor="start" font-weight="normal" fill="#000" >40</text>
<line x1="648.00" y1="91.52" x2="643.80" y2="91.52" stroke="#000" stroke-width="1.3" />
<text transform="translate(654.00,95.87) scale(1,1.05)" font-size="13" text-anchor="start" font-weight="normal" fill="#000" >60</text>
<line x1="648.00" y1="49.76" x2="643.80" y2="49.76" stroke="#000" stroke-width="1.3" />
<text transform="translate(654.00,54.11) scale(1,1.05)" font-size="13" text-anchor="start" font-weight="normal" fill="#000" >80</text>
<line x1="648.00" y1="8.00" x2="643.80" y2="8.00" stroke="#000" stroke-width="1.3" />
<text transform="translate(654.00,12.35) scale(1,1.05)" font-size="13" text-anchor="start" font-weight="normal" fill="#000" >100</text>
<line x1="403.50" y1="216.80" x2="403.50" y2="212.60" stroke="#000" stroke-width="1.3" />
<text transform="translate(403.50,232.60) scale(1,1.05)" font-size="13" text-anchor="middle" font-weight="normal" fill="#000" >200</text>
<line x1="445.70" y1="216.80" x2="445.70" y2="212.60" stroke="#000" stroke-width="1.3" />
<text transform="translate(445.70,232.60) scale(1,1.05)" font-size="13" text-anchor="middle" font-weight="normal" fill="#000" >300</text>
<line x1="487.90" y1="216.80" x2="487.90" y2="212.60" stroke="#000" stroke-width="1.3" />
<text transform="translate(487.90,232.60) scale(1,1.05)" font-size="13" text-anchor="middle" font-weight="normal" fill="#000" >400</text>
<line x1="530.10" y1="216.80" x2="530.10" y2="212.60" stroke="#000" stroke-width="1.3" />
<text transform="translate(530.10,232.60) scale(1,1.05)" font-size="13" text-anchor="middle" font-weight="normal" fill="#000" >500</text>
<line x1="572.30" y1="216.80" x2="572.30" y2="212.60" stroke="#000" stroke-width="1.3" />
<text transform="translate(572.30,232.60) scale(1,1.05)" font-size="13" text-anchor="middle" font-weight="normal" fill="#000" >600</text>
<line x1="614.50" y1="216.80" x2="614.50" y2="212.60" stroke="#000" stroke-width="1.3" />
<text transform="translate(614.50,232.60) scale(1,1.05)" font-size="13" text-anchor="middle" font-weight="normal" fill="#000" >700</text>
<text transform="translate(517.50,253.60) scale(1,1.05)" font-size="14.8" text-anchor="middle" font-weight="normal" fill="#000" >Electric field (kV cm<tspan dy="-5.5" font-size="9.5">−1</tspan><tspan dy="5.5">)</tspan></text>
<text transform="translate(358.6,111.4) rotate(-90) scale(1,1.05)" font-size="14.8" text-anchor="middle"><tspan font-style="italic">W</tspan><tspan font-size="10" dy="3">rec</tspan><tspan dy="-3"> (J cm</tspan><tspan dy="-5.5" font-size="9.5">−3</tspan><tspan dy="5.5">)</tspan></text>
<text transform="translate(681.5,111.6) rotate(-90) scale(1,1.05)" font-size="14.8" text-anchor="middle"><tspan font-family="Liberation Serif" font-style="italic" font-size="16.8">η</tspan> (%)</text>
<line x1="408.39" y1="18.55" x2="414.34" y2="18.85" stroke="#e9a6a9" stroke-width="1.4" />
<line x1="424.73" y1="19.26" x2="430.66" y2="19.44" stroke="#e9a6a9" stroke-width="1.4" />
<line x1="441.06" y1="19.70" x2="446.99" y2="19.80" stroke="#e9a6a9" stroke-width="1.4" />
<line x1="457.39" y1="20.03" x2="463.32" y2="20.17" stroke="#e9a6a9" stroke-width="1.4" />
<line x1="473.72" y1="20.46" x2="479.65" y2="20.64" stroke="#e9a6a9" stroke-width="1.4" />
<line x1="490.05" y1="20.93" x2="495.98" y2="21.07" stroke="#e9a6a9" stroke-width="1.4" />
<line x1="506.38" y1="21.33" x2="512.31" y2="21.47" stroke="#e9a6a9" stroke-width="1.4" />
<line x1="522.71" y1="21.66" x2="528.64" y2="21.74" stroke="#e9a6a9" stroke-width="1.4" />
<line x1="539.04" y1="21.96" x2="544.97" y2="22.14" stroke="#e9a6a9" stroke-width="1.4" />
<line x1="555.37" y1="22.46" x2="561.30" y2="22.64" stroke="#e9a6a9" stroke-width="1.4" />
<line x1="571.70" y1="22.96" x2="577.63" y2="23.14" stroke="#e9a6a9" stroke-width="1.4" />
<line x1="588.03" y1="23.33" x2="593.96" y2="23.37" stroke="#e9a6a9" stroke-width="1.4" />
<line x1="604.36" y1="23.40" x2="610.29" y2="23.40" stroke="#e9a6a9" stroke-width="1.4" />
<line x1="620.69" y1="23.46" x2="626.62" y2="23.54" stroke="#e9a6a9" stroke-width="1.4" />
<rect x="399.60" y="14.70" width="7.2" height="7.2" fill="#e9a6a9"/>
<rect x="415.93" y="15.50" width="7.2" height="7.2" fill="#e9a6a9"/>
<rect x="432.26" y="16.00" width="7.2" height="7.2" fill="#e9a6a9"/>
<rect x="448.59" y="16.30" width="7.2" height="7.2" fill="#e9a6a9"/>
<rect x="464.92" y="16.70" width="7.2" height="7.2" fill="#e9a6a9"/>
<rect x="481.25" y="17.20" width="7.2" height="7.2" fill="#e9a6a9"/>
<rect x="497.58" y="17.60" width="7.2" height="7.2" fill="#e9a6a9"/>
<rect x="513.91" y="18.00" width="7.2" height="7.2" fill="#e9a6a9"/>
<rect x="530.24" y="18.20" width="7.2" height="7.2" fill="#e9a6a9"/>
<rect x="546.57" y="18.70" width="7.2" height="7.2" fill="#e9a6a9"/>
<rect x="562.90" y="19.20" width="7.2" height="7.2" fill="#e9a6a9"/>
<rect x="579.23" y="19.70" width="7.2" height="7.2" fill="#e9a6a9"/>
<rect x="595.56" y="19.80" width="7.2" height="7.2" fill="#e9a6a9"/>
<rect x="611.89" y="19.80" width="7.2" height="7.2" fill="#e9a6a9"/>
<rect x="628.22" y="20.00" width="7.2" height="7.2" fill="#e9a6a9"/>
<line x1="408.08" y1="186.27" x2="415.99" y2="182.33" stroke="#72acd4" stroke-width="1.4" />
<line x1="424.90" y1="177.79" x2="432.90" y2="173.61" stroke="#72acd4" stroke-width="1.4" />
<line x1="441.81" y1="169.07" x2="449.72" y2="165.13" stroke="#72acd4" stroke-width="1.4" />
<line x1="458.57" y1="160.47" x2="466.70" y2="155.93" stroke="#72acd4" stroke-width="1.4" />
<line x1="475.49" y1="151.17" x2="483.51" y2="146.93" stroke="#72acd4" stroke-width="1.4" />
<line x1="492.30" y1="142.17" x2="500.43" y2="137.63" stroke="#72acd4" stroke-width="1.4" />
<line x1="509.15" y1="132.75" x2="517.31" y2="128.15" stroke="#72acd4" stroke-width="1.4" />
<line x1="526.00" y1="123.21" x2="534.19" y2="118.49" stroke="#72acd4" stroke-width="1.4" />
<line x1="542.83" y1="113.45" x2="551.09" y2="108.55" stroke="#72acd4" stroke-width="1.4" />
<line x1="559.60" y1="103.30" x2="568.05" y2="97.90" stroke="#72acd4" stroke-width="1.4" />
<line x1="576.58" y1="92.69" x2="584.80" y2="87.91" stroke="#72acd4" stroke-width="1.4" />
<line x1="593.43" y1="82.85" x2="601.69" y2="77.95" stroke="#72acd4" stroke-width="1.4" />
<line x1="610.19" y1="72.69" x2="618.66" y2="67.21" stroke="#72acd4" stroke-width="1.4" />
<line x1="627.07" y1="61.80" x2="635.51" y2="56.40" stroke="#72acd4" stroke-width="1.4" />
<rect x="400.00" y="184.90" width="7.2" height="7.2" fill="#72acd4"/>
<rect x="416.87" y="176.50" width="7.2" height="7.2" fill="#72acd4"/>
<rect x="433.73" y="167.70" width="7.2" height="7.2" fill="#72acd4"/>
<rect x="450.60" y="159.30" width="7.2" height="7.2" fill="#72acd4"/>
<rect x="467.46" y="149.90" width="7.2" height="7.2" fill="#72acd4"/>
<rect x="484.33" y="141.00" width="7.2" height="7.2" fill="#72acd4"/>
<rect x="501.20" y="131.60" width="7.2" height="7.2" fill="#72acd4"/>
<rect x="518.06" y="122.10" width="7.2" height="7.2" fill="#72acd4"/>
<rect x="534.93" y="112.40" width="7.2" height="7.2" fill="#72acd4"/>
<rect x="551.79" y="102.40" width="7.2" height="7.2" fill="#72acd4"/>
<rect x="568.66" y="91.60" width="7.2" height="7.2" fill="#72acd4"/>
<rect x="585.53" y="81.80" width="7.2" height="7.2" fill="#72acd4"/>
<rect x="602.39" y="71.80" width="7.2" height="7.2" fill="#72acd4"/>
<rect x="619.26" y="60.90" width="7.2" height="7.2" fill="#72acd4"/>
<rect x="636.12" y="50.10" width="7.2" height="7.2" fill="#72acd4"/>
<line x1="565.20" y1="147.10" x2="573.90" y2="147.10" stroke="#72acd4" stroke-width="1.4" />
<line x1="583.40" y1="147.10" x2="591.80" y2="147.10" stroke="#72acd4" stroke-width="1.4" />
<rect x="574.9" y="143.5" width="7.2" height="7.2" fill="#72acd4"/>
<line x1="566.20" y1="168.70" x2="574.90" y2="168.70" stroke="#e9a6a9" stroke-width="1.4" />
<line x1="584.10" y1="168.70" x2="592.80" y2="168.70" stroke="#e9a6a9" stroke-width="1.4" />
<rect x="575.9" y="165.1" width="7.2" height="7.2" fill="#e9a6a9"/>
<text transform="translate(595.60,150.90) scale(1,1.05)" font-size="10.6" text-anchor="start" font-weight="normal" fill="#000" ><tspan font-style="italic">W</tspan><tspan font-size="8.3" dy="3.2">rec</tspan></text>
<text transform="translate(597.00,172.50) scale(1,1.05)" font-size="13" text-anchor="start" font-weight="normal" fill="#000" font-family="Liberation Serif" font-style="italic">η</text>
<rect x="45.30" y="288.40" width="261.30" height="208.80" fill="none" stroke="#000" stroke-width="1.5" stroke-linecap="square"/>
<line x1="45.30" y1="497.20" x2="49.50" y2="497.20" stroke="#000" stroke-width="1.3" />
<text transform="translate(40.60,501.55) scale(1,1.05)" font-size="13" text-anchor="end" font-weight="normal" fill="#000" >0</text>
<line x1="45.30" y1="465.85" x2="49.50" y2="465.85" stroke="#000" stroke-width="1.3" />
<text transform="translate(40.60,470.20) scale(1,1.05)" font-size="13" text-anchor="end" font-weight="normal" fill="#000" >3</text>
<line x1="45.30" y1="434.50" x2="49.50" y2="434.50" stroke="#000" stroke-width="1.3" />
<text transform="translate(40.60,438.85) scale(1,1.05)" font-size="13" text-anchor="end" font-weight="normal" fill="#000" >6</text>
<line x1="45.30" y1="403.15" x2="49.50" y2="403.15" stroke="#000" stroke-width="1.3" />
<text transform="translate(40.60,407.50) scale(1,1.05)" font-size="13" text-anchor="end" font-weight="normal" fill="#000" >9</text>
<line x1="45.30" y1="371.80" x2="49.50" y2="371.80" stroke="#000" stroke-width="1.3" />
<text transform="translate(40.60,376.15) scale(1,1.05)" font-size="13" text-anchor="end" font-weight="normal" fill="#000" >12</text>
<line x1="45.30" y1="340.45" x2="49.50" y2="340.45" stroke="#000" stroke-width="1.3" />
<text transform="translate(40.60,344.80) scale(1,1.05)" font-size="13" text-anchor="end" font-weight="normal" fill="#000" >15</text>
<line x1="45.30" y1="309.10" x2="49.50" y2="309.10" stroke="#000" stroke-width="1.3" />
<text transform="translate(40.60,313.45) scale(1,1.05)" font-size="13" text-anchor="end" font-weight="normal" fill="#000" >18</text>
<line x1="64.00" y1="497.20" x2="64.00" y2="493.00" stroke="#000" stroke-width="1.3" />
<text transform="translate(64.00,513.00) scale(1,1.05)" font-size="13" text-anchor="middle" font-weight="normal" fill="#000" >40</text>
<line x1="101.30" y1="497.20" x2="101.30" y2="493.00" stroke="#000" stroke-width="1.3" />
<text transform="translate(101.30,513.00) scale(1,1.05)" font-size="13" text-anchor="middle" font-weight="normal" fill="#000" >50</text>
<line x1="138.60" y1="497.20" x2="138.60" y2="493.00" stroke="#000" stroke-width="1.3" />
<text transform="translate(138.60,513.00) scale(1,1.05)" font-size="13" text-anchor="middle" font-weight="normal" fill="#000" >60</text>
<line x1="175.90" y1="497.20" x2="175.90" y2="493.00" stroke="#000" stroke-width="1.3" />
<text transform="translate(175.90,513.00) scale(1,1.05)" font-size="13" text-anchor="middle" font-weight="normal" fill="#000" >70</text>
<line x1="213.20" y1="497.20" x2="213.20" y2="493.00" stroke="#000" stroke-width="1.3" />
<text transform="translate(213.20,513.00) scale(1,1.05)" font-size="13" text-anchor="middle" font-weight="normal" fill="#000" >80</text>
<line x1="250.50" y1="497.20" x2="250.50" y2="493.00" stroke="#000" stroke-width="1.3" />
<text transform="translate(250.50,513.00) scale(1,1.05)" font-size="13" text-anchor="middle" font-weight="normal" fill="#000" >90</text>
<line x1="287.80" y1="497.20" x2="287.80" y2="493.00" stroke="#000" stroke-width="1.3" />
<text transform="translate(287.80,513.00) scale(1,1.05)" font-size="13" text-anchor="middle" font-weight="normal" fill="#000" >100</text>
<text transform="translate(176.8,533.6) scale(1,1.05)" font-size="14.8" text-anchor="middle"><tspan font-family="Liberation Serif" font-style="italic" font-size="16.8">η</tspan> (%)</text>
<text transform="translate(18.1,394.6) rotate(-90) scale(1,1.05)" font-size="14.8" text-anchor="middle"><tspan font-style="italic">W</tspan><tspan font-size="10" dy="3">rec</tspan><tspan dy="-3"> (J cm</tspan><tspan dy="-5.5" font-size="9.5">−3</tspan><tspan dy="5.5">)</tspan></text>
<g>
<circle cx="239.30" cy="387.60" r="4.3" fill="url(#gBF)"/>
<circle cx="191.00" cy="411.50" r="4.3" fill="url(#gBF)"/>
<circle cx="217.00" cy="419.80" r="4.3" fill="url(#gBF)"/>
<circle cx="236.90" cy="420.80" r="4.3" fill="url(#gBF)"/>
<circle cx="238.40" cy="438.40" r="4.3" fill="url(#gBF)"/>
<circle cx="212.60" cy="445.40" r="4.3" fill="url(#gBF)"/>
<circle cx="212.40" cy="456.20" r="4.3" fill="url(#gBF)"/>
<circle cx="134.80" cy="461.50" r="4.3" fill="url(#gBF)"/>
<circle cx="259.20" cy="462.50" r="4.3" fill="url(#gBF)"/>
<circle cx="120.50" cy="469.60" r="4.3" fill="url(#gBF)"/>
<circle cx="68.60" cy="478.20" r="4.3" fill="url(#gBF)"/>
<circle cx="112.20" cy="475.60" r="4.3" fill="url(#gBF)"/>
<circle cx="116.50" cy="476.00" r="4.3" fill="url(#gBF)"/>
<circle cx="178.70" cy="470.00" r="4.3" fill="url(#gBF)"/>
<circle cx="183.70" cy="471.20" r="4.3" fill="url(#gBF)"/>
<circle cx="202.50" cy="471.80" r="4.3" fill="url(#gBF)"/>
<circle cx="251.80" cy="471.20" r="4.3" fill="url(#gBF)"/>
<circle cx="194.30" cy="480.60" r="4.3" fill="url(#gBF)"/>
<circle cx="273.40" cy="376.20" r="4.3" fill="url(#gBNT)"/>
<circle cx="277.40" cy="389.80" r="4.3" fill="url(#gBNT)"/>
<circle cx="263.10" cy="391.80" r="4.3" fill="url(#gBNT)"/>
<circle cx="274.30" cy="401.00" r="4.3" fill="url(#gBNT)"/>
<circle cx="263.50" cy="407.80" r="4.3" fill="url(#gBNT)"/>
<circle cx="252.30" cy="409.20" r="4.3" fill="url(#gBNT)"/>
<circle cx="258.80" cy="410.80" r="4.3" fill="url(#gBNT)"/>
<circle cx="235.70" cy="413.60" r="4.3" fill="url(#gBNT)"/>
<circle cx="246.60" cy="419.50" r="4.3" fill="url(#gBNT)"/>
<circle cx="258.00" cy="418.60" r="4.3" fill="url(#gBNT)"/>
<circle cx="232.10" cy="423.90" r="4.3" fill="url(#gBNT)"/>
<circle cx="231.00" cy="425.70" r="4.3" fill="url(#gBNT)"/>
<circle cx="239.10" cy="427.70" r="4.3" fill="url(#gBNT)"/>
<circle cx="243.80" cy="430.20" r="4.3" fill="url(#gBNT)"/>
<circle cx="275.00" cy="427.80" r="4.3" fill="url(#gBNT)"/>
<circle cx="267.10" cy="432.20" r="4.3" fill="url(#gBNT)"/>
<circle cx="242.60" cy="429.60" r="4.3" fill="url(#gBNT)"/>
<circle cx="251.00" cy="438.80" r="4.3" fill="url(#gBNT)"/>
<circle cx="265.40" cy="438.20" r="4.3" fill="url(#gBNT)"/>
<circle cx="221.20" cy="441.90" r="4.3" fill="url(#gBNT)"/>
<circle cx="228.00" cy="444.40" r="4.3" fill="url(#gBNT)"/>
<circle cx="229.70" cy="444.40" r="4.3" fill="url(#gBNT)"/>
<circle cx="195.00" cy="452.50" r="4.3" fill="url(#gBNT)"/>
<circle cx="227.40" cy="453.70" r="4.3" fill="url(#gBNT)"/>
<circle cx="236.40" cy="450.50" r="4.3" fill="url(#gBNT)"/>
<circle cx="241.80" cy="453.80" r="4.3" fill="url(#gBNT)"/>
<circle cx="278.00" cy="458.60" r="4.3" fill="url(#gBNT)"/>
<circle cx="138.60" cy="464.00" r="4.3" fill="url(#gBNT)"/>
<circle cx="190.60" cy="459.30" r="4.3" fill="url(#gBNT)"/>
<circle cx="195.00" cy="465.00" r="4.3" fill="url(#gBNT)"/>
<circle cx="182.50" cy="466.20" r="4.3" fill="url(#gBNT)"/>
<circle cx="246.40" cy="459.20" r="4.3" fill="url(#gBNT)"/>
<circle cx="251.80" cy="461.90" r="4.3" fill="url(#gBNT)"/>
<circle cx="254.50" cy="463.90" r="4.3" fill="url(#gBNT)"/>
<circle cx="153.20" cy="472.00" r="4.3" fill="url(#gBNT)"/>
<circle cx="145.70" cy="476.00" r="4.3" fill="url(#gBNT)"/>
<circle cx="160.70" cy="475.00" r="4.3" fill="url(#gBNT)"/>
<circle cx="167.70" cy="474.60" r="4.3" fill="url(#gBNT)"/>
<circle cx="179.70" cy="473.10" r="4.3" fill="url(#gBNT)"/>
<circle cx="191.80" cy="473.10" r="4.3" fill="url(#gBNT)"/>
<circle cx="168.50" cy="474.30" r="4.3" fill="url(#gBNT)"/>
<circle cx="217.40" cy="473.70" r="4.3" fill="url(#gBNT)"/>
<circle cx="227.40" cy="474.90" r="4.3" fill="url(#gBNT)"/>
<circle cx="227.70" cy="475.90" r="4.3" fill="url(#gBNT)"/>
<circle cx="271.00" cy="470.80" r="4.3" fill="url(#gBNT)"/>
<circle cx="203.90" cy="483.70" r="4.3" fill="url(#gBNT)"/>
<circle cx="202.10" cy="424.00" r="4.3" fill="url(#gAN)"/>
<circle cx="250.50" cy="431.20" r="4.3" fill="url(#gAN)"/>
<circle cx="179.70" cy="429.30" r="4.3" fill="url(#gAN)"/>
<circle cx="173.00" cy="442.40" r="4.3" fill="url(#gAN)"/>
<circle cx="149.90" cy="449.30" r="4.3" fill="url(#gAN)"/>
<circle cx="157.40" cy="458.60" r="4.3" fill="url(#gAN)"/>
<circle cx="172.30" cy="453.20" r="4.3" fill="url(#gAN)"/>
<circle cx="146.00" cy="463.80" r="4.3" fill="url(#gAN)"/>
<circle cx="150.20" cy="464.70" r="4.3" fill="url(#gAN)"/>
<circle cx="123.40" cy="466.90" r="4.3" fill="url(#gAN)"/>
<circle cx="115.80" cy="471.70" r="4.3" fill="url(#gAN)"/>
<circle cx="127.00" cy="471.10" r="4.3" fill="url(#gAN)"/>
<circle cx="116.30" cy="472.20" r="4.3" fill="url(#gAN)"/>
<circle cx="86.30" cy="473.00" r="4.3" fill="url(#gAN)"/>
<circle cx="86.30" cy="476.40" r="4.3" fill="url(#gAN)"/>
<circle cx="235.70" cy="471.20" r="4.3" fill="url(#gAN)"/>
<circle cx="244.80" cy="412.50" r="4.3" fill="url(#gKNN)"/>
<circle cx="257.90" cy="426.80" r="4.3" fill="url(#gKNN)"/>
<circle cx="113.60" cy="446.10" r="4.3" fill="url(#gKNN)"/>
<circle cx="108.60" cy="454.90" r="4.3" fill="url(#gKNN)"/>
<circle cx="128.40" cy="455.00" r="4.3" fill="url(#gKNN)"/>
<circle cx="148.80" cy="454.50" r="4.3" fill="url(#gKNN)"/>
<circle cx="218.10" cy="451.80" r="4.3" fill="url(#gKNN)"/>
<circle cx="228.70" cy="451.20" r="4.3" fill="url(#gKNN)"/>
<circle cx="229.70" cy="451.10" r="4.3" fill="url(#gKNN)"/>
<circle cx="114.20" cy="461.50" r="4.3" fill="url(#gKNN)"/>
<circle cx="213.10" cy="466.80" r="4.3" fill="url(#gKNN)"/>
<circle cx="142.00" cy="476.40" r="4.3" fill="url(#gKNN)"/>
<circle cx="188.10" cy="470.00" r="4.3" fill="url(#gKNN)"/>
<circle cx="133.90" cy="483.70" r="4.3" fill="url(#gKNN)"/>
<circle cx="208.30" cy="303.80" r="4.3" fill="url(#gNN)"/>
<circle cx="172.20" cy="369.40" r="4.3" fill="url(#gNN)"/>
<circle cx="224.60" cy="383.30" r="4.3" fill="url(#gNN)"/>
<circle cx="213.00" cy="406.10" r="4.3" fill="url(#gNN)"/>
<circle cx="227.20" cy="416.00" r="4.3" fill="url(#gNN)"/>
<circle cx="227.20" cy="420.60" r="4.3" fill="url(#gNN)"/>
<circle cx="252.30" cy="413.40" r="4.3" fill="url(#gNN)"/>
<circle cx="160.60" cy="429.30" r="4.3" fill="url(#gNN)"/>
<circle cx="168.50" cy="444.40" r="4.3" fill="url(#gNN)"/>
<circle cx="218.70" cy="445.60" r="4.3" fill="url(#gNN)"/>
<circle cx="250.50" cy="452.50" r="4.3" fill="url(#gNN)"/>
<circle cx="216.80" cy="462.50" r="4.3" fill="url(#gNN)"/>
<circle cx="221.20" cy="468.10" r="4.3" fill="url(#gNN)"/>
<circle cx="239.70" cy="459.90" r="4.3" fill="url(#gNN)"/>
<circle cx="198.50" cy="475.20" r="4.3" fill="url(#gNN)"/>
<circle cx="255.20" cy="445.80" r="4.3" fill="url(#gBT)"/>
<circle cx="255.20" cy="449.80" r="4.3" fill="url(#gBT)"/>
<circle cx="262.30" cy="449.80" r="4.3" fill="url(#gBT)"/>
<circle cx="263.20" cy="452.50" r="4.3" fill="url(#gBT)"/>
<circle cx="202.20" cy="460.00" r="4.3" fill="url(#gBT)"/>
<circle cx="234.70" cy="456.10" r="4.3" fill="url(#gBT)"/>
<circle cx="233.70" cy="461.20" r="4.3" fill="url(#gBT)"/>
<circle cx="261.90" cy="464.20" r="4.3" fill="url(#gBT)"/>
<circle cx="268.80" cy="465.40" r="4.3" fill="url(#gBT)"/>
<circle cx="239.10" cy="467.20" r="4.3" fill="url(#gBT)"/>
<circle cx="166.00" cy="476.60" r="4.3" fill="url(#gBT)"/>
<circle cx="166.90" cy="476.80" r="4.3" fill="url(#gBT)"/>
<circle cx="220.90" cy="479.90" r="4.3" fill="url(#gBT)"/>
<circle cx="243.10" cy="473.90" r="4.3" fill="url(#gBT)"/>
<circle cx="256.50" cy="471.90" r="4.3" fill="url(#gBT)"/>
<circle cx="267.40" cy="476.00" r="4.3" fill="url(#gBT)"/>
<circle cx="243.10" cy="483.30" r="4.3" fill="url(#gBT)"/>
<circle cx="269.30" cy="485.30" r="4.3" fill="url(#gBT)"/>
<circle cx="287.30" cy="480.30" r="4.3" fill="url(#gBT)"/>
<circle cx="258.00" cy="434.20" r="4.3" fill="url(#gST)"/>
<circle cx="268.20" cy="456.00" r="4.3" fill="url(#gST)"/>
<circle cx="231.70" cy="467.90" r="4.3" fill="url(#gST)"/>
<circle cx="211.20" cy="473.70" r="4.3" fill="url(#gST)"/>
<circle cx="213.70" cy="478.10" r="4.3" fill="url(#gST)"/>
<circle cx="208.30" cy="477.20" r="4.3" fill="url(#gST)"/>
<circle cx="230.00" cy="467.50" r="4.3" fill="url(#gST)"/>
<circle cx="184.40" cy="484.90" r="4.3" fill="url(#gST)"/>
<circle cx="244.80" cy="481.30" r="4.3" fill="url(#gST)"/>
</g>
<line x1="45.3" y1="371.0" x2="306.6" y2="371.0" stroke="#ee9fa0" stroke-width="1.4" stroke-dasharray="7.7 7.1" stroke-dashoffset="12.1"/>
<line x1="250.7" y1="288.4" x2="250.7" y2="497.2" stroke="#ee9fa0" stroke-width="1.4" stroke-dasharray="7.6 7.2" stroke-dashoffset="6.9"/>
<polygon points="260.00,349.40 262.44,355.94 269.42,356.24 263.95,360.58 265.82,367.31 260.00,363.45 254.18,367.31 256.05,360.58 250.58,356.24 257.56,355.94" fill="#c0111f"/>
<text transform="translate(253.20,340.80) scale(1,1.05)" font-size="11.5" text-anchor="start" font-weight="normal" fill="#c0111f" >This work</text>
<circle cx="66.0" cy="333.00" r="4.15" fill="url(#gBF)"/>
<text transform="translate(82.60,337.20) scale(1,1.05)" font-size="11.7" text-anchor="start" font-weight="normal" fill="#000" >BF-based</text>
<circle cx="66.0" cy="347.48" r="4.15" fill="url(#gBNT)"/>
<text transform="translate(82.60,351.68) scale(1,1.05)" font-size="11.7" text-anchor="start" font-weight="normal" fill="#000" >BNT-based</text>
<circle cx="66.0" cy="361.96" r="4.15" fill="url(#gAN)"/>
<text transform="translate(82.60,366.16) scale(1,1.05)" font-size="11.7" text-anchor="start" font-weight="normal" fill="#000" >AN-based</text>
<circle cx="66.0" cy="376.44" r="4.15" fill="url(#gKNN)"/>
<text transform="translate(82.60,380.64) scale(1,1.05)" font-size="11.7" text-anchor="start" font-weight="normal" fill="#000" >KNN-based</text>
<circle cx="66.0" cy="390.92" r="4.15" fill="url(#gNN)"/>
<text transform="translate(82.60,395.12) scale(1,1.05)" font-size="11.7" text-anchor="start" font-weight="normal" fill="#000" >NN-based</text>
<circle cx="66.0" cy="405.40" r="4.15" fill="url(#gBT)"/>
<text transform="translate(82.60,409.60) scale(1,1.05)" font-size="11.7" text-anchor="start" font-weight="normal" fill="#000" >BT-based</text>
<circle cx="66.0" cy="419.88" r="4.15" fill="url(#gST)"/>
<text transform="translate(82.60,424.08) scale(1,1.05)" font-size="11.7" text-anchor="start" font-weight="normal" fill="#000" >ST-based</text>
<rect x="387.00" y="288.50" width="261.00" height="208.50" fill="none" stroke="#000" stroke-width="1.5" stroke-linecap="square"/>
<line x1="387.00" y1="497.00" x2="391.20" y2="497.00" stroke="#000" stroke-width="1.3" />
<text transform="translate(382.00,501.35) scale(1,1.05)" font-size="13" text-anchor="end" font-weight="normal" fill="#000" >0</text>
<line x1="387.00" y1="461.99" x2="391.20" y2="461.99" stroke="#000" stroke-width="1.3" />
<text transform="translate(382.00,466.34) scale(1,1.05)" font-size="13" text-anchor="end" font-weight="normal" fill="#000" >3</text>
<line x1="387.00" y1="426.98" x2="391.20" y2="426.98" stroke="#000" stroke-width="1.3" />
<text transform="translate(382.00,431.33) scale(1,1.05)" font-size="13" text-anchor="end" font-weight="normal" fill="#000" >6</text>
<line x1="387.00" y1="391.97" x2="391.20" y2="391.97" stroke="#000" stroke-width="1.3" />
<text transform="translate(382.00,396.32) scale(1,1.05)" font-size="13" text-anchor="end" font-weight="normal" fill="#000" >9</text>
<line x1="387.00" y1="356.96" x2="391.20" y2="356.96" stroke="#000" stroke-width="1.3" />
<text transform="translate(382.00,361.31) scale(1,1.05)" font-size="13" text-anchor="end" font-weight="normal" fill="#000" >12</text>
<line x1="387.00" y1="321.95" x2="391.20" y2="321.95" stroke="#000" stroke-width="1.3" />
<text transform="translate(382.00,326.30) scale(1,1.05)" font-size="13" text-anchor="end" font-weight="normal" fill="#000" >15</text>
<text transform="translate(402.2,526.0) scale(1,1.05)" font-size="14.8">Energy storage ceramics (<tspan font-family="Liberation Serif" font-style="italic" font-size="16.8">η</tspan> &gt; 90%)</text>
<text transform="translate(359.6,392.8) rotate(-90) scale(1,1.05)" font-size="14.8" text-anchor="middle"><tspan font-style="italic">W</tspan><tspan font-size="10" dy="3">rec</tspan><tspan dy="-3"> (J cm</tspan><tspan dy="-5.5" font-size="9.5">−3</tspan><tspan dy="5.5">)</tspan></text>
<g stroke="#3a3a3a" stroke-width="0.7">
<rect x="396.10" y="469.34" width="3.79" height="27.66" fill="#a6dcc8"/>
<rect x="399.89" y="460.24" width="3.79" height="36.76" fill="#a6dcc8"/>
<rect x="403.68" y="402.47" width="3.79" height="94.53" fill="#a6dcc8"/>
<rect x="407.47" y="399.44" width="3.79" height="97.56" fill="#a6dcc8"/>
<rect x="419.20" y="454.40" width="3.79" height="42.60" fill="#7fcfe6"/>
<rect x="422.99" y="449.74" width="3.79" height="47.26" fill="#7fcfe6"/>
<rect x="426.78" y="433.28" width="3.79" height="63.72" fill="#7fcfe6"/>
<rect x="430.57" y="433.28" width="3.79" height="63.72" fill="#7fcfe6"/>
<rect x="434.36" y="432.58" width="3.79" height="64.42" fill="#7fcfe6"/>
<rect x="438.15" y="425.46" width="3.79" height="71.54" fill="#7fcfe6"/>
<rect x="441.94" y="408.66" width="3.79" height="88.34" fill="#7fcfe6"/>
<rect x="445.73" y="400.96" width="3.79" height="96.04" fill="#7fcfe6"/>
<rect x="449.52" y="397.22" width="3.79" height="99.78" fill="#7fcfe6"/>
<rect x="453.31" y="396.64" width="3.79" height="100.36" fill="#7fcfe6"/>
<rect x="457.10" y="389.99" width="3.79" height="107.01" fill="#7fcfe6"/>
<rect x="460.89" y="362.21" width="3.79" height="134.79" fill="#7fcfe6"/>
<rect x="464.68" y="338.64" width="3.79" height="158.36" fill="#7fcfe6"/>
<rect x="468.47" y="320.08" width="3.79" height="176.92" fill="#7fcfe6"/>
<rect x="472.26" y="316.58" width="3.79" height="180.42" fill="#7fcfe6"/>
<rect x="483.40" y="419.16" width="3.79" height="77.84" fill="#3fb49a"/>
<rect x="487.19" y="344.59" width="3.79" height="152.41" fill="#3fb49a"/>
<rect x="498.30" y="451.25" width="3.79" height="45.75" fill="#5b73a8"/>
<rect x="502.09" y="444.49" width="3.79" height="52.51" fill="#5b73a8"/>
<rect x="505.88" y="426.98" width="3.79" height="70.02" fill="#5b73a8"/>
<rect x="517.10" y="447.05" width="3.79" height="49.95" fill="#f6a88c"/>
<rect x="520.89" y="423.83" width="3.79" height="73.17" fill="#f6a88c"/>
<rect x="524.68" y="404.22" width="3.79" height="92.78" fill="#f6a88c"/>
<rect x="536.40" y="473.54" width="3.79" height="23.46" fill="#a4afcc"/>
<rect x="540.19" y="472.49" width="3.79" height="24.51" fill="#a4afcc"/>
<rect x="543.98" y="469.23" width="3.79" height="27.77" fill="#a4afcc"/>
<rect x="547.77" y="462.11" width="3.79" height="34.89" fill="#a4afcc"/>
<rect x="551.56" y="461.76" width="3.79" height="35.24" fill="#a4afcc"/>
<rect x="555.35" y="447.75" width="3.79" height="49.25" fill="#a4afcc"/>
<rect x="559.14" y="444.95" width="3.79" height="52.05" fill="#a4afcc"/>
<rect x="562.93" y="444.49" width="3.79" height="52.51" fill="#a4afcc"/>
<rect x="566.72" y="440.40" width="3.79" height="56.60" fill="#a4afcc"/>
<rect x="570.51" y="401.31" width="3.79" height="95.69" fill="#a4afcc"/>
<rect x="574.30" y="380.30" width="3.79" height="116.70" fill="#a4afcc"/>
<rect x="578.09" y="379.37" width="3.79" height="117.63" fill="#a4afcc"/>
<rect x="589.40" y="419.98" width="3.79" height="77.02" fill="#b2dcae"/>
<rect x="593.19" y="419.39" width="3.79" height="77.61" fill="#b2dcae"/>
<rect x="596.98" y="409.48" width="3.79" height="87.52" fill="#b2dcae"/>
<rect x="600.77" y="400.14" width="3.79" height="96.86" fill="#b2dcae"/>
<rect x="604.56" y="399.21" width="3.79" height="97.79" fill="#b2dcae"/>
<rect x="608.35" y="398.39" width="3.79" height="98.61" fill="#b2dcae"/>
<rect x="612.14" y="389.17" width="3.79" height="107.83" fill="#b2dcae"/>
<rect x="615.93" y="379.95" width="3.79" height="117.05" fill="#b2dcae"/>
<rect x="619.72" y="377.15" width="3.79" height="119.85" fill="#b2dcae"/>
<rect x="623.40" y="342.84" width="3.79" height="154.16" fill="#e5472f"/>
</g>
<line x1="585.1" y1="333.0" x2="585.1" y2="497.0" stroke="#f7b27a" stroke-width="1.4" stroke-dasharray="7.4 7.5"/>
<text transform="translate(405.90,310.50) scale(1,1.05)" font-size="11.6" text-anchor="start" font-weight="normal" fill="#000" >Conventional solid-state method</text>
<text transform="translate(580.90,308.50) scale(1,1.05)" font-size="11.6" text-anchor="start" font-weight="normal" fill="#000" >Tape-casting</text>
<text transform="translate(583.60,322.60) scale(1,1.05)" font-size="11.6" text-anchor="start" font-weight="normal" fill="#000" >or RRP</text>
<text transform="translate(596.80,339.00) scale(1,1.05)" font-size="11.6" text-anchor="start" font-weight="normal" fill="#c0111f" >This work</text>
<text transform="translate(403.20,392.60) scale(1,1.05)" font-size="11.6" text-anchor="start" font-weight="normal" fill="#000" >BF</text>
<text transform="translate(434.40,375.60) scale(1,1.05)" font-size="11.6" text-anchor="start" font-weight="normal" fill="#000" >BNT</text>
<text transform="translate(484.10,338.30) scale(1,1.05)" font-size="11.6" text-anchor="start" font-weight="normal" fill="#000" >KNN</text>
<text transform="translate(498.60,419.20) scale(1,1.05)" font-size="11.6" text-anchor="start" font-weight="normal" fill="#000" >ST</text>
<text transform="translate(523.40,397.20) scale(1,1.05)" font-size="11.6" text-anchor="start" font-weight="normal" fill="#000" >NN</text>
<text transform="translate(562.20,379.40) scale(1,1.05)" font-size="11.6" text-anchor="start" font-weight="normal" fill="#000" >BT</text>
<text transform="translate(597.00,377.10) scale(1,1.05)" font-size="11.6" text-anchor="start" font-weight="normal" fill="#000" >BNT</text>
</svg></body></html>
